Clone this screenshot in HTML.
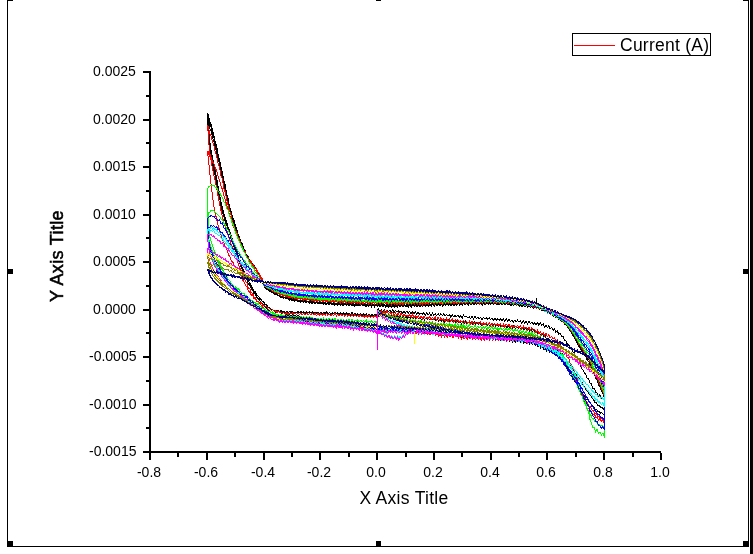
<!DOCTYPE html>
<html><head><meta charset="utf-8"><title>Graph</title>
<style>
html,body{margin:0;padding:0;background:#fff;}
body{width:753px;height:554px;overflow:hidden;position:relative;font-family:"Liberation Sans",sans-serif;color:#000;}
.b{position:absolute;background:#000;}
.t{position:absolute;white-space:nowrap;line-height:1;will-change:transform;}
.yl{font-size:14px;right:617px;text-align:right;}
.xl{font-size:14px;width:60px;text-align:center;top:465px;}
svg{position:absolute;left:0;top:0;}
</style></head><body>

<div class="b" style="left:7px;top:0px;width:1px;height:547px;"></div>
<div class="b" style="left:748px;top:0px;width:1px;height:547px;"></div>
<div class="b" style="left:7px;top:546px;width:742px;height:1px;"></div>
<div class="b" style="left:750px;top:0px;width:3px;height:554px;"></div>
<div class="b" style="left:7px;top:0px;width:6px;height:1px;"></div>
<div class="b" style="left:376px;top:0px;width:5px;height:1px;"></div>
<div class="b" style="left:743px;top:0px;width:6px;height:1px;"></div>
<div class="b" style="left:7px;top:269px;width:6px;height:5px;"></div>
<div class="b" style="left:743px;top:269px;width:6px;height:5px;"></div>
<div class="b" style="left:7px;top:541px;width:6px;height:6px;"></div>
<div class="b" style="left:376px;top:541px;width:5px;height:6px;"></div>
<div class="b" style="left:743px;top:541px;width:6px;height:6px;"></div>
<div class="b" style="left:149px;top:71px;width:2px;height:382px;"></div>
<div class="b" style="left:149px;top:451px;width:512px;height:2px;"></div>
<div class="b" style="left:143px;top:71px;width:6px;height:2px;"></div>
<div class="b" style="left:143px;top:119px;width:6px;height:2px;"></div>
<div class="b" style="left:143px;top:166px;width:6px;height:2px;"></div>
<div class="b" style="left:143px;top:214px;width:6px;height:2px;"></div>
<div class="b" style="left:143px;top:261px;width:6px;height:2px;"></div>
<div class="b" style="left:143px;top:309px;width:6px;height:2px;"></div>
<div class="b" style="left:143px;top:356px;width:6px;height:2px;"></div>
<div class="b" style="left:143px;top:404px;width:6px;height:2px;"></div>
<div class="b" style="left:143px;top:451px;width:6px;height:2px;"></div>
<div class="b" style="left:146px;top:95px;width:3px;height:2px;"></div>
<div class="b" style="left:146px;top:142px;width:3px;height:2px;"></div>
<div class="b" style="left:146px;top:190px;width:3px;height:2px;"></div>
<div class="b" style="left:146px;top:237px;width:3px;height:2px;"></div>
<div class="b" style="left:146px;top:285px;width:3px;height:2px;"></div>
<div class="b" style="left:146px;top:332px;width:3px;height:2px;"></div>
<div class="b" style="left:146px;top:380px;width:3px;height:2px;"></div>
<div class="b" style="left:146px;top:427px;width:3px;height:2px;"></div>
<div class="b" style="left:149px;top:453px;width:2px;height:7px;"></div>
<div class="b" style="left:206px;top:453px;width:2px;height:7px;"></div>
<div class="b" style="left:263px;top:453px;width:2px;height:7px;"></div>
<div class="b" style="left:319px;top:453px;width:2px;height:7px;"></div>
<div class="b" style="left:376px;top:453px;width:2px;height:7px;"></div>
<div class="b" style="left:433px;top:453px;width:2px;height:7px;"></div>
<div class="b" style="left:490px;top:453px;width:2px;height:7px;"></div>
<div class="b" style="left:546px;top:453px;width:2px;height:7px;"></div>
<div class="b" style="left:603px;top:453px;width:2px;height:7px;"></div>
<div class="b" style="left:660px;top:453px;width:2px;height:7px;"></div>
<div class="b" style="left:177px;top:453px;width:2px;height:4px;"></div>
<div class="b" style="left:234px;top:453px;width:2px;height:4px;"></div>
<div class="b" style="left:291px;top:453px;width:2px;height:4px;"></div>
<div class="b" style="left:348px;top:453px;width:2px;height:4px;"></div>
<div class="b" style="left:405px;top:453px;width:2px;height:4px;"></div>
<div class="b" style="left:461px;top:453px;width:2px;height:4px;"></div>
<div class="b" style="left:518px;top:453px;width:2px;height:4px;"></div>
<div class="b" style="left:575px;top:453px;width:2px;height:4px;"></div>
<div class="b" style="left:632px;top:453px;width:2px;height:4px;"></div>
<div class="t yl" style="top:64px">0.0025</div>
<div class="t yl" style="top:112px">0.0020</div>
<div class="t yl" style="top:159px">0.0015</div>
<div class="t yl" style="top:207px">0.0010</div>
<div class="t yl" style="top:254px">0.0005</div>
<div class="t yl" style="top:302px">0.0000</div>
<div class="t yl" style="top:349px">-0.0005</div>
<div class="t yl" style="top:397px">-0.0010</div>
<div class="t yl" style="top:444px">-0.0015</div>
<div class="t xl" style="left:118.5px">-0.8</div>
<div class="t xl" style="left:175.5px">-0.6</div>
<div class="t xl" style="left:232.5px">-0.4</div>
<div class="t xl" style="left:288.5px">-0.2</div>
<div class="t xl" style="left:345.5px">0.0</div>
<div class="t xl" style="left:402.5px">0.2</div>
<div class="t xl" style="left:459.5px">0.4</div>
<div class="t xl" style="left:515.5px">0.6</div>
<div class="t xl" style="left:572.5px">0.8</div>
<div class="t xl" style="left:629.5px">1.0</div>
<div class="t" style="font-size:17.5px;letter-spacing:0.3px;left:304.2px;width:200px;text-align:center;top:489.8px">X Axis Title</div>
<div class="t" id="yt" style="font-size:18px;letter-spacing:0.35px;left:-43px;width:200px;text-align:center;top:246.5px;transform:rotate(-90deg);-webkit-text-stroke:0.55px #000">Y Axis Title</div>
<div style="position:absolute;left:572px;top:33px;width:137px;height:21px;border:1px solid #000;"></div>
<div class="b" style="left:574px;top:45px;width:41px;height:1px;background:#f00;"></div>
<div class="t" style="font-size:17.5px;letter-spacing:0.25px;left:620px;top:36.9px">Current (A)</div>
<svg width="753" height="554" viewBox="0 0 753 554" shape-rendering="crispEdges" fill="none" stroke-width="1" stroke-linejoin="miter">
<polyline stroke="#000" points="377.0,310.0 378.4,309.1 379.8,311.4 381.3,309.3 382.7,312.1 384.1,309.7 385.5,311.7 386.9,310.0 388.4,311.8 389.8,310.2 391.2,312.1 392.6,309.7 394.0,312.5 395.5,310.5 396.9,312.1 398.3,310.6 399.7,312.6 401.1,311.1 402.6,313.3 404.0,311.2 405.4,313.1 406.8,311.0 408.2,313.3 409.7,311.3 411.1,314.0 412.5,311.6 413.9,314.0 415.3,311.4 416.8,314.2 418.2,312.4 419.6,314.5 421.0,312.8 422.4,314.1 423.9,312.8 425.3,315.0 426.7,312.8 428.1,314.9 429.5,313.2 431.0,315.7 432.4,312.9 433.8,315.5 435.2,313.8 436.6,315.5 438.1,313.8 439.5,315.5 440.9,313.5 442.3,315.8 443.7,313.8 445.2,316.0 446.6,314.4 448.0,316.2 449.4,314.5 450.8,317.0 452.3,314.9 453.7,316.5 455.1,315.5 456.5,316.8 457.9,315.2 459.4,317.5 460.8,315.6 462.2,318.0 463.6,315.1 465.0,317.2 466.5,316.2 467.9,318.1 469.3,316.6 470.7,318.7 472.1,315.9 473.6,319.1 475.0,316.4 476.4,318.5 477.8,317.6 479.2,318.4 480.7,317.3 482.1,319.7 483.5,317.4 484.9,318.8 486.3,317.9 487.8,319.3 489.2,317.6 490.6,319.7 492.0,318.3 493.4,320.2 494.9,318.3 496.3,320.5 497.7,318.4 499.1,320.4 500.5,318.5 502.0,321.3 503.4,318.8 504.8,321.5 506.2,318.8 507.6,321.0 509.1,319.3 510.5,321.5 511.9,319.9 513.3,322.2 514.7,320.3 516.2,322.0 517.6,320.2 519.0,322.0 520.4,320.7 521.8,323.2 523.3,320.8 524.7,323.2 526.1,321.3 527.5,323.7 528.9,321.3 530.4,323.7 531.8,322.0 533.2,324.2 534.6,322.9 536.0,324.9 537.5,322.6 538.9,325.2 540.3,323.1 541.7,325.4 543.1,323.7 544.6,327.0 546.0,325.3 547.4,327.7 548.8,325.8 550.2,329.1 551.7,327.2 553.1,330.6 554.5,329.1 555.9,332.2 557.3,330.8 558.8,334.4 560.2,333.4 561.6,336.2 563.0,336.1 564.4,340.4 565.9,340.3 567.3,344.4 568.7,344.2 570.1,348.7 571.5,348.5 573.0,352.1 574.4,352.9 575.8,358.2 577.2,358.8 578.6,363.0 580.1,364.2 581.5,368.6 582.9,369.4 584.3,373.1 585.7,374.2 587.2,378.1 588.6,378.5 590.0,382.8 591.4,383.6 592.8,388.1 594.3,388.5 595.7,392.2 597.1,393.3 598.5,396.3 599.9,394.7 601.4,398.5 602.8,397.4 604.2,399.8 604.5,397.6 604.5,390.4 603.1,386.6 601.7,384.3 600.2,380.7 598.8,378.5 597.4,374.7 596.0,372.7 594.6,368.7 593.1,366.5 591.7,362.9 590.3,361.1 588.9,357.7 587.5,356.3 586.0,353.3 584.6,351.9 583.2,349.1 581.8,347.8 580.4,344.8 578.9,343.8 577.5,340.7 576.1,338.9 574.7,335.5 573.3,334.3 571.8,331.3 570.4,329.8 569.0,327.0 567.6,326.3 566.2,323.9 564.7,323.5 563.3,321.2 561.9,320.9 560.5,319.1 559.1,319.1 557.6,316.6 556.2,317.9 554.8,314.8 553.4,315.8 552.0,313.6 550.5,314.5 549.1,311.9 547.7,313.4 546.3,310.8 544.9,312.1 543.4,309.4 542.0,311.0 540.6,308.1 539.2,309.6 537.8,307.0 536.3,308.4 534.9,306.0 533.5,307.8 532.1,306.4 530.7,307.3 529.2,305.0 527.8,307.3 526.4,305.1 525.0,306.9 523.6,304.6 522.1,306.6 520.7,304.9 519.3,306.2 517.9,304.2 516.5,305.7 515.0,304.0 513.6,305.2 512.2,304.1 510.8,305.8 509.4,303.5 507.9,305.0 506.5,303.6 505.1,304.9 503.7,303.1 502.3,304.6 500.8,303.1 499.4,304.7 498.0,303.7 496.6,304.7 495.2,302.9 493.7,304.4 492.3,302.4 490.9,304.5 489.5,302.7 488.1,304.3 486.6,302.8 485.2,304.8 483.8,302.7 482.4,304.9 481.0,302.9 479.5,304.5 478.1,302.7 476.7,304.3 475.3,303.0 473.9,304.9 472.4,303.2 471.0,304.8 469.6,302.7 468.2,305.4 466.8,303.6 465.3,304.7 463.9,303.2 462.5,304.7 461.1,303.7 459.7,305.7 458.2,302.6 456.8,305.4 455.4,303.8 454.0,305.8 452.6,303.8 451.1,305.4 449.7,303.8 448.3,305.7 446.9,303.7 445.5,305.5 444.0,304.0 442.6,306.1 441.2,304.2 439.8,305.9 438.4,304.0 436.9,305.8 435.5,304.4 434.1,306.5 432.7,304.1 431.3,306.3 429.8,304.7 428.4,306.4 427.0,304.3 425.6,306.3 424.2,304.7 422.7,306.6 421.3,304.5 419.9,306.8 418.5,305.0 417.1,306.7 415.6,305.1 414.2,306.5 412.8,304.7 411.4,307.3 410.0,304.9 408.5,307.1 407.1,305.2 405.7,306.7 404.3,305.5 402.9,306.4 401.4,305.4 400.0,306.4 398.6,304.9 397.2,307.6 395.8,305.4 394.3,307.3 392.9,305.3 391.5,307.4 390.1,305.1 388.7,307.2 387.2,305.3 385.8,307.1 384.4,304.9 383.0,306.6 381.6,305.4 380.1,306.7 378.7,304.7 377.3,306.2 375.9,304.7 374.5,306.7 373.0,304.7 371.6,306.9 370.2,305.1 368.8,306.4 367.4,304.8 365.9,306.7 364.5,305.2 363.1,306.1 361.7,304.6 360.3,305.9 358.8,305.0 357.4,305.8 356.0,304.6 354.6,305.9 353.2,304.5 351.7,305.8 350.3,304.3 348.9,305.6 347.5,304.4 346.1,305.2 344.6,304.2 343.2,305.5 341.8,304.1 340.4,305.1 339.0,303.6 337.5,305.1 336.1,304.0 334.7,305.4 333.3,303.8 331.9,304.8 330.4,303.6 329.0,304.7 327.6,303.6 326.2,304.6 324.8,303.2 323.3,304.2 321.9,303.2 320.5,303.9 319.1,302.8 317.7,303.8 316.2,302.4 314.8,303.7 313.4,302.6 312.0,303.6 310.6,302.1 309.1,303.2 307.7,301.6 306.3,302.9 304.9,301.5 303.5,302.3 302.0,301.4 300.6,302.1 299.2,301.1 297.8,301.6 296.4,300.5 294.9,301.2 293.5,300.1 292.1,300.5 290.7,299.6 289.3,300.1 287.8,298.8 286.4,298.9 285.0,297.8 283.6,298.2 282.2,297.1 280.7,297.1 279.3,295.9 277.9,296.0 276.5,294.8 275.1,294.6 273.6,293.1 272.2,292.8 270.8,291.3 269.4,291.1 268.0,289.1 266.5,289.2 265.1,287.3 265.0,287.9 263.6,283.8 262.2,279.4 260.7,277.4 259.3,274.1 257.9,272.4 256.5,268.3 255.1,267.8 253.6,264.6 252.2,263.1 250.8,260.8 249.4,260.1 248.0,256.0 246.5,255.3 245.1,251.2 243.7,248.8 242.3,243.4 240.9,241.8 239.4,236.6 238.0,234.1 236.6,228.9 235.2,225.0 233.8,219.8 232.3,216.6 230.9,211.0 229.5,206.6 228.1,198.3 226.7,193.7 225.2,184.9 223.8,180.1 222.4,172.1 221.0,166.8 219.6,159.6 218.1,154.9 216.7,146.5 215.3,142.4 213.9,135.1 212.5,130.3 211.0,124.3 209.6,121.0 208.2,114.1 207.5,113.0 207.5,113.0 208.0,119.6 208.5,126.8 209.0,133.3 209.7,140.4 210.5,146.4 211.5,152.6 212.9,160.0 214.3,166.5 215.8,173.8 217.2,181.1 218.6,189.0 220.0,196.6 221.4,203.5 222.9,210.2 224.3,214.8 225.7,219.4 227.1,223.2 228.5,228.3 230.0,232.0 231.4,236.9 232.8,239.9 234.2,245.1 235.6,249.0 237.1,253.1 238.5,256.8 239.9,262.4 241.3,264.6 242.7,268.5 244.2,271.4 245.6,274.9 247.0,277.1 248.4,281.3 249.8,283.1 251.3,285.4 252.7,288.0 254.1,291.5 255.5,291.5 256.9,295.2 258.4,296.1 259.8,298.0 261.2,299.5 262.6,301.7 264.0,301.6 265.5,304.9 266.9,305.0 268.3,307.8 269.7,308.3 271.1,309.9 272.6,309.4 274.0,311.2 275.4,310.5 276.8,312.0 278.2,310.2 279.7,311.8 281.1,310.4 282.5,312.5 283.9,311.6 285.3,312.5 286.7,311.3 288.1,312.6 289.6,311.9 291.0,312.6 292.4,311.9 293.8,312.5 295.2,312.0 296.7,313.0 298.1,311.7 299.5,312.8 300.9,311.6 302.3,312.9 303.8,312.0 305.2,313.1 306.6,311.8 308.0,313.0 309.4,312.0 310.9,313.0 312.3,311.7 313.7,313.0 315.1,311.9 316.5,313.0 318.0,312.3 319.4,313.6 320.8,312.1 322.2,313.5 323.6,312.5 325.1,313.7 326.5,312.2 327.9,313.9 329.3,312.4 330.7,313.4 332.2,312.9 333.6,313.3 335.0,312.3 336.4,313.8 337.8,312.9 339.3,313.9 340.7,313.0 342.1,314.1 343.5,313.1 344.9,314.4 346.4,313.2 347.8,315.0 349.2,313.7 350.6,315.2 352.0,312.6 353.5,315.1 354.9,313.5 356.3,315.0 357.7,313.9 359.1,315.4 360.6,313.9 362.0,315.4 363.4,313.5 364.8,315.7 366.2,313.4 367.7,315.9 369.1,314.2 370.5,315.8 371.9,314.7 373.3,316.5 374.8,314.2 376.2,316.4 377.6,314.3 379.0,316.8 380.4,314.6 381.9,316.7 383.3,314.9 384.7,317.1 386.1,314.9 387.5,317.4 389.0,314.7 390.4,317.1 391.8,315.1 393.2,318.1 394.6,315.8 396.1,317.6 397.5,316.0 398.9,317.7 400.3,315.5 401.7,318.1 403.2,316.2 404.6,318.2 406.0,315.9 407.4,318.1 408.8,316.5 410.3,318.3 411.7,316.6 413.1,318.7 414.5,316.8 415.9,318.8 417.4,317.5 418.8,318.9 420.2,317.5 421.6,319.5 423.0,317.8 424.5,320.1 425.9,318.0 427.3,319.4 428.7,318.4 430.1,320.1 431.6,318.4 433.0,320.2 434.4,318.6 435.8,320.5 437.2,318.6 438.7,321.5 440.1,318.9 441.5,321.3 442.9,319.2 444.3,322.1 445.8,319.9 447.2,321.2 448.6,319.9 450.0,322.2 451.4,320.4 452.9,321.6 454.3,320.4 455.7,322.1 457.1,320.4 458.5,322.6 460.0,321.3 461.4,323.8 462.8,321.3 464.2,323.4 465.6,321.2 467.1,324.1 468.5,322.2 469.9,323.4 471.3,321.7 472.7,324.5 474.2,321.9 475.6,324.5 477.0,322.6 478.4,324.4 479.8,322.6 481.3,325.1 482.7,323.7 484.1,325.0 485.5,323.5 486.9,325.7 488.4,324.0 489.8,325.8 491.2,323.8 492.6,326.1 494.0,323.8 495.5,325.9 496.9,324.2 498.3,326.4 499.7,325.0 501.1,326.4 502.6,325.1 504.0,326.6 505.4,324.9 506.8,328.1 508.2,325.6 509.7,328.2 511.1,325.9 512.5,328.1 513.9,325.6 515.3,329.1 516.8,326.5 518.2,328.4 519.6,327.5 521.0,329.1 522.4,327.6 523.9,329.8 525.3,328.0 526.7,330.1 528.1,328.5 529.5,330.8 531.0,329.1 532.4,331.5 533.8,329.9 535.2,332.7 536.6,331.4 538.1,334.0 539.5,332.4 540.9,336.0 542.3,333.7 543.7,337.0 545.2,335.7 546.6,339.2 548.0,338.2 549.4,341.2 550.8,340.5 552.3,344.1 553.7,343.9 555.1,347.1 556.5,346.5 557.9,350.7 559.4,350.4 560.8,354.6 562.2,354.0 563.6,357.0 565.0,357.7 566.5,360.9 567.9,361.5 569.3,364.5 570.7,365.6 572.1,368.6 573.6,370.0 575.0,372.9 576.4,374.2 577.8,377.4 579.2,378.4 580.7,381.8 582.1,382.6 583.5,386.0 584.9,387.0 586.3,390.4 587.8,391.4 589.2,394.2 590.6,395.4 592.0,398.2 593.4,399.2 594.9,402.2 596.3,402.6 597.7,405.2 599.1,405.3 600.5,407.3 602.0,407.1 603.4,409.1 604.5,408.3 604.5,394.2 603.1,390.4 601.7,388.0 600.2,384.2 598.8,381.7 597.4,378.2 596.0,375.7 594.6,371.4 593.1,369.2 591.7,365.5 590.3,363.3 588.9,359.9 587.5,358.3 586.0,355.5 584.6,354.1 583.2,351.2 581.8,349.7 580.4,346.9 578.9,345.5 577.5,342.3 576.1,340.2 574.7,336.9 573.3,335.0 571.8,332.2 570.4,330.7 569.0,327.7 567.6,326.7 566.2,324.1 564.7,323.8 563.3,321.8 561.9,321.2 560.5,319.3 559.1,319.6 557.6,317.0 556.2,317.8 554.8,314.6 553.4,316.2 552.0,313.6 550.5,314.5 549.1,312.4 547.7,313.0 546.3,310.2 544.9,311.5 543.4,308.9 542.0,310.6 540.6,308.1 539.2,309.7 537.8,307.1 536.3,308.6 534.9,306.4 533.5,308.2 532.1,305.7 530.7,307.1 529.2,305.5 527.8,306.7 526.4,304.8 525.0,306.7 523.6,304.3 522.1,306.0 520.7,304.0 519.3,305.8 517.9,304.2 516.5,305.5 515.0,303.9 513.6,305.0 512.2,302.9 510.8,305.1 509.4,302.9 507.9,304.7 506.5,302.6 505.1,304.5 503.7,302.4 502.3,304.5 500.8,302.5 499.4,304.1 498.0,302.5 496.6,304.1 495.2,302.3 493.7,304.2 492.3,302.5 490.9,303.6 489.5,302.2 488.1,303.8 486.6,302.3 485.2,304.0 483.8,302.7 482.4,304.2 481.0,302.0 479.5,304.0 478.1,302.2 476.7,304.3 475.3,302.4 473.9,304.8 472.4,302.6 471.0,304.4 469.6,302.7 468.2,304.3 466.8,302.7 465.3,304.7 463.9,302.9 462.5,305.0 461.1,302.8 459.7,304.8 458.2,303.5 456.8,304.8 455.4,302.9 454.0,304.5 452.6,303.2 451.1,305.6 449.7,302.8 448.3,304.9 446.9,303.4 445.5,304.7 444.0,303.8 442.6,305.4 441.2,303.8 439.8,306.0 438.4,303.9 436.9,305.2 435.5,304.4 434.1,306.0 432.7,304.1 431.3,305.7 429.8,304.2 428.4,306.0 427.0,304.5 425.6,305.8 424.2,304.2 422.7,306.8 421.3,304.3 419.9,306.5 418.5,304.7 417.1,306.1 415.6,304.3 414.2,306.5 412.8,304.6 411.4,306.9 410.0,304.7 408.5,306.8 407.1,305.0 405.7,306.5 404.3,304.7 402.9,306.8 401.4,305.0 400.0,306.4 398.6,304.6 397.2,306.3 395.8,305.5 394.3,307.0 392.9,304.9 391.5,306.3 390.1,304.3 388.7,306.6 387.2,304.3 385.8,306.6 384.4,304.5 383.0,306.4 381.6,304.6 380.1,306.4 378.7,304.1 377.3,306.4 375.9,304.1 374.5,306.0 373.0,304.0 371.6,306.4 370.2,304.0 368.8,305.8 367.4,304.3 365.9,305.5 364.5,304.1 363.1,305.9 361.7,304.4 360.3,305.7 358.8,304.1 357.4,305.5 356.0,304.5 354.6,305.1 353.2,304.0 351.7,305.1 350.3,304.1 348.9,305.6 347.5,304.0 346.1,304.9 344.6,303.7 343.2,304.9 341.8,303.6 340.4,304.7 339.0,303.5 337.5,304.4 336.1,303.3 334.7,304.6 333.3,303.4 331.9,304.6 330.4,303.1 329.0,304.2 327.6,303.0 326.2,304.0 324.8,302.7 323.3,304.0 321.9,303.0 320.5,303.4 319.1,302.5 317.7,303.5 316.2,302.5 314.8,303.1 313.4,302.3 312.0,303.2 310.6,302.0 309.1,302.8 307.7,301.7 306.3,302.4 304.9,301.2 303.5,302.0 302.0,301.1 300.6,301.8 299.2,300.6 297.8,301.3 296.4,300.2 294.9,301.0 293.5,299.8 292.1,300.0 290.7,298.9 289.3,299.4 287.8,298.5 286.4,298.7 285.0,297.4 283.6,297.8 282.2,296.3 280.7,296.8 279.3,295.6 277.9,295.9 276.5,294.3 275.1,294.4 273.6,292.9 272.2,292.6 270.8,291.2 269.4,290.6 268.0,289.2 266.5,288.9 265.1,287.0 265.0,287.9 263.6,283.6 262.2,279.1 260.7,276.6 259.3,274.0 257.9,273.0 256.5,268.3 255.1,266.8 253.6,265.1 252.2,263.6 250.8,261.5 249.4,260.0 248.0,256.7 246.5,255.1 245.1,250.8 243.7,249.5 242.3,244.8 240.9,242.6 239.4,237.0 238.0,235.4 236.6,229.1 235.2,226.7 233.8,220.4 232.3,217.5 230.9,211.4 229.5,207.8 228.1,199.8 226.7,195.3 225.2,187.9 223.8,182.4 222.4,173.8 221.0,169.8 219.6,162.0 218.1,156.3 216.7,148.8 215.3,144.0 213.9,137.2 212.5,133.7 211.0,127.0 209.6,123.5 208.2,118.0 207.5,116.0 207.5,116.0 208.0,122.6 208.5,129.8 209.0,136.2 209.7,143.3 210.5,149.4 211.5,155.3 212.9,162.9 214.3,169.4 215.8,176.5 217.2,184.6 218.6,191.8 220.0,199.7 221.4,206.0 222.9,212.8 224.3,218.2 225.7,222.5 227.1,226.3 228.5,230.6 230.0,234.1 231.4,240.1 232.8,243.2 234.2,247.6 235.6,250.7 237.1,257.1 238.5,259.1 239.9,263.8 241.3,267.3 242.7,270.9 244.2,273.5 245.6,277.9 247.0,280.0 248.4,283.6 249.8,285.8 251.3,288.9 252.7,290.2 254.1,293.7 255.5,294.2 256.9,297.7 258.4,298.5 259.8,300.9 261.2,301.9 262.6,304.1 264.0,304.4 265.5,307.5 266.9,308.2 268.3,310.3 269.7,310.9 271.1,313.1 272.6,312.2 274.0,313.6 275.4,312.9 276.8,314.7 278.2,314.2 279.7,315.5 281.1,313.6 282.5,315.6 283.9,315.1 285.3,315.7 286.7,314.6 288.1,315.8 289.6,314.8 291.0,315.9 292.4,314.9 293.8,316.2 295.2,315.1 296.7,316.7 298.1,315.6 299.5,316.9 300.9,316.4 302.3,317.5 303.8,316.6 305.2,318.0 306.6,317.1 308.0,318.7 309.4,318.1 310.9,319.2 312.3,318.0 313.7,320.0 315.1,319.0 316.5,320.6 318.0,319.0 319.4,320.9 320.8,320.1 322.2,321.3 323.6,320.1 325.1,321.4 326.5,320.1 327.9,322.1 329.3,320.9 330.7,322.9 332.2,320.8 333.6,323.0 335.0,321.3 336.4,323.0 337.8,322.3 339.3,324.2 340.7,322.5 342.1,324.2 343.5,322.8 344.9,324.8 346.4,322.8 347.8,325.0 349.2,323.4 350.6,325.7 352.0,324.2 353.5,325.4 354.9,324.2 356.3,326.3 357.7,324.6 359.1,326.2 360.6,325.0 362.0,326.9 363.4,324.9 364.8,327.7 366.2,325.8 367.7,327.8 369.1,325.9 370.5,327.8 371.9,326.5 373.3,329.1 374.8,326.8 376.2,328.7 377.6,327.8 379.0,329.2 380.4,327.2 381.9,329.0 383.3,327.6 384.7,330.1 386.1,327.6 387.5,329.9 389.0,327.9 390.4,330.6 391.8,329.1 393.2,330.6 394.6,328.7 396.1,330.7 397.5,328.6 398.9,330.8 400.3,329.5 401.7,331.7 403.2,329.6 404.6,332.3 406.0,329.5 407.4,332.3 408.8,330.2 410.3,332.3 411.7,330.4 413.1,332.2 414.5,330.2 415.9,333.3 417.4,330.9 418.8,332.6 420.2,330.5 421.6,333.3 423.0,331.3 424.5,334.0 425.9,332.0 427.3,333.6 428.7,332.1 430.1,333.9 431.6,331.9 433.0,334.5 434.4,332.0 435.8,334.6 437.2,332.4 438.7,335.0 440.1,333.1 441.5,335.0 442.9,333.7 444.3,335.4 445.8,333.5 447.2,335.8 448.6,333.8 450.0,335.8 451.4,334.3 452.9,336.6 454.3,335.1 455.7,336.5 457.1,334.4 458.5,336.8 460.0,335.3 461.4,337.1 462.8,334.8 464.2,337.6 465.6,335.8 467.1,337.8 468.5,335.6 469.9,338.1 471.3,336.0 472.7,338.1 474.2,336.6 475.6,339.2 477.0,337.1 478.4,339.0 479.8,336.8 481.3,339.0 482.7,337.0 484.1,339.4 485.5,337.4 486.9,339.2 488.4,337.2 489.8,339.8 491.2,337.4 492.6,339.6 494.0,338.0 495.5,339.9 496.9,338.1 498.3,340.2 499.7,338.5 501.1,340.8 502.6,338.9 504.0,340.3 505.4,339.3 506.8,341.2 508.2,339.0 509.7,341.2 511.1,339.5 512.5,341.7 513.9,339.6 515.3,342.0 516.8,339.3 518.2,342.1 519.6,340.6 521.0,343.3 522.4,340.9 523.9,343.2 525.3,341.3 526.7,343.5 528.1,341.6 529.5,344.0 531.0,342.6 532.4,344.3 533.8,342.7 535.2,345.6 536.6,344.1 538.1,347.0 539.5,344.9 540.9,348.4 542.3,347.0 543.7,349.3 545.2,348.2 546.6,351.4 548.0,349.2 549.4,352.1 550.8,351.2 552.3,353.6 553.7,352.1 555.1,355.2 556.5,354.3 557.9,357.0 559.4,356.5 560.8,359.7 562.2,358.9 563.6,363.4 565.0,363.7 566.5,367.2 567.9,368.6 569.3,371.9 570.7,373.4 572.1,376.6 573.6,378.2 575.0,381.6 576.4,383.2 577.8,387.2 579.2,388.5 580.7,391.5 582.1,392.4 583.5,395.6 584.9,396.2 586.3,399.3 587.8,399.9 589.2,402.7 590.6,403.3 592.0,405.7 593.4,406.2 594.9,409.0 596.3,409.2 597.7,411.1 599.1,411.1 600.5,413.1 602.0,412.7 603.4,414.3 604.5,413.4 604.5,398.6 603.1,394.2 601.7,391.4 600.2,387.4 598.8,385.1 597.4,381.1 596.0,378.4 594.6,374.4 593.1,371.6 591.7,367.8 590.3,365.6 588.9,361.8 587.5,360.5 586.0,357.2 584.6,355.7 583.2,352.8 581.8,351.3 580.4,348.0 578.9,346.7 577.5,343.1 576.1,341.4 574.7,338.0 573.3,336.3 571.8,333.1 570.4,331.6 569.0,328.5 567.6,327.2 566.2,324.6 564.7,324.5 563.3,322.1 561.9,321.8 560.5,319.8 559.1,319.7 557.6,317.5 556.2,317.7 554.8,315.2 553.4,316.5 552.0,313.8 550.5,314.2 549.1,311.9 547.7,313.1 546.3,310.2 544.9,311.2 543.4,309.3 542.0,310.6 540.6,307.7 539.2,309.1 537.8,306.9 536.3,308.1 534.9,306.1 533.5,307.3 532.1,305.8 530.7,306.7 529.2,305.1 527.8,306.0 526.4,304.1 525.0,305.7 523.6,304.5 522.1,305.8 520.7,303.5 519.3,305.3 517.9,304.0 516.5,304.8 515.0,302.7 513.6,304.8 512.2,303.5 510.8,304.6 509.4,303.1 507.9,304.4 506.5,302.5 505.1,304.5 503.7,302.1 502.3,304.3 500.8,302.4 499.4,303.8 498.0,301.8 496.6,304.0 495.2,301.5 493.7,303.7 492.3,301.3 490.9,304.1 489.5,301.5 488.1,303.7 486.6,301.9 485.2,304.1 483.8,301.7 482.4,303.7 481.0,301.9 479.5,303.7 478.1,302.0 476.7,304.4 475.3,301.7 473.9,303.6 472.4,301.9 471.0,303.9 469.6,302.1 468.2,304.0 466.8,302.3 465.3,304.1 463.9,301.9 462.5,304.5 461.1,302.4 459.7,304.2 458.2,302.3 456.8,304.4 455.4,302.5 454.0,304.4 452.6,302.9 451.1,304.3 449.7,303.1 448.3,304.3 446.9,303.4 445.5,305.4 444.0,303.0 442.6,305.2 441.2,303.1 439.8,305.0 438.4,303.4 436.9,305.2 435.5,303.1 434.1,305.3 432.7,303.8 431.3,305.5 429.8,303.5 428.4,305.4 427.0,304.0 425.6,305.7 424.2,303.8 422.7,305.7 421.3,303.9 419.9,305.7 418.5,303.5 417.1,305.5 415.6,303.3 414.2,305.6 412.8,304.2 411.4,305.8 410.0,304.1 408.5,305.9 407.1,304.2 405.7,305.6 404.3,304.2 402.9,305.8 401.4,304.2 400.0,306.0 398.6,303.9 397.2,305.9 395.8,304.2 394.3,305.5 392.9,303.8 391.5,305.4 390.1,304.3 388.7,305.9 387.2,304.4 385.8,305.9 384.4,304.2 383.0,305.7 381.6,303.9 380.1,305.6 378.7,304.1 377.3,305.7 375.9,304.1 374.5,305.7 373.0,304.0 371.6,305.5 370.2,303.4 368.8,305.0 367.4,303.5 365.9,305.2 364.5,303.4 363.1,305.2 361.7,303.5 360.3,305.0 358.8,303.7 357.4,304.5 356.0,303.6 354.6,305.3 353.2,303.4 351.7,304.8 350.3,303.3 348.9,304.4 347.5,303.0 346.1,304.4 344.6,303.2 343.2,304.4 341.8,302.7 340.4,304.1 339.0,302.6 337.5,304.1 336.1,303.0 334.7,303.8 333.3,302.6 331.9,303.7 330.4,302.3 329.0,303.4 327.6,302.3 326.2,303.5 324.8,302.3 323.3,303.2 321.9,302.0 320.5,303.1 319.1,301.7 317.7,303.0 316.2,301.6 314.8,302.7 313.4,301.2 312.0,302.6 310.6,300.9 309.1,302.1 307.7,301.0 306.3,302.0 304.9,300.6 303.5,301.5 302.0,300.5 300.6,300.9 299.2,300.0 297.8,300.7 296.4,299.5 294.9,300.2 293.5,299.0 292.1,299.6 290.7,298.5 289.3,298.6 287.8,297.5 286.4,297.9 285.0,296.9 283.6,297.4 282.2,296.2 280.7,296.4 279.3,295.0 277.9,295.3 276.5,293.8 275.1,293.7 273.6,292.1 272.2,291.9 270.8,290.6 269.4,290.3 268.0,288.5 266.5,288.5 265.1,286.4 265.0,287.2 263.6,283.1 262.2,278.7 260.7,277.9 259.3,273.6 257.9,271.9 256.5,268.9 255.1,267.8 253.6,264.2 252.2,264.5 250.8,261.7 249.4,259.9 248.0,256.9 246.5,255.6 245.1,252.0 243.7,250.1 242.3,245.8 240.9,243.3 239.4,238.1 238.0,235.1 236.6,230.0 235.2,227.6 233.8,222.0 232.3,220.2 230.9,213.5 229.5,209.3 228.1,201.7 226.7,197.4 225.2,189.4 223.8,184.6 222.4,177.0 221.0,171.9 219.6,163.9 218.1,159.3 216.7,151.9 215.3,147.6 213.9,141.5 212.5,137.2 211.0,131.3 209.6,127.7 208.2,121.4 207.5,120.0 207.5,120.0 208.0,126.3 208.5,133.2 209.0,139.5 209.7,146.3 210.5,152.2 211.5,158.2 212.9,165.4 214.3,171.9 215.8,178.6 217.2,186.0 218.6,193.4 220.0,200.3 221.4,207.5 222.9,213.4 224.3,218.3 225.7,223.6 227.1,226.1 228.5,231.1 230.0,234.7 231.4,239.2 232.8,242.6 234.2,247.9 235.6,251.0 237.1,255.7 238.5,258.9 239.9,263.2 241.3,266.1 242.7,271.0 244.2,271.7 245.6,276.5 247.0,278.3 248.4,281.3 249.8,282.5 251.3,287.2 252.7,288.1 254.1,291.9 255.5,292.3 256.9,295.6 258.4,296.1 259.8,298.9 261.2,299.3 262.6,301.9 264.0,302.8 265.5,304.9 266.9,305.7 268.3,307.7 269.7,307.4 271.1,309.1 272.6,309.7 274.0,310.8 275.4,310.6 276.8,311.0 278.2,311.1 279.7,312.3 281.1,310.9 282.5,311.8 283.9,311.3 285.3,312.4 286.7,311.6 288.1,312.7 289.6,311.2 291.0,312.4 292.4,311.5 293.8,312.5 295.2,312.0 296.7,312.6 298.1,311.7 299.5,312.8 300.9,311.6 302.3,312.8 303.8,311.6 305.2,313.2 306.6,312.2 308.0,313.3 309.4,311.9 310.9,312.8 312.3,312.0 313.7,313.2 315.1,312.0 316.5,313.5 318.0,312.2 319.4,313.4 320.8,312.3 322.2,313.5 323.6,312.2 325.1,313.5 326.5,311.9 327.9,313.9 329.3,312.4 330.7,314.0 332.2,312.7 333.6,313.8 335.0,312.8 336.4,313.9 337.8,312.5 339.3,314.2 340.7,312.6 342.1,314.4 343.5,313.1 344.9,314.4 346.4,312.7 347.8,314.3 349.2,313.4 350.6,314.9 352.0,313.5 353.5,315.4 354.9,313.7 356.3,315.3 357.7,313.8 359.1,315.4 360.6,313.4 362.0,315.5 363.4,313.5 364.8,315.7 366.2,314.5 367.7,316.3 369.1,314.0 370.5,316.6 371.9,314.5 373.3,316.5 374.8,314.2 376.2,316.8 377.0,314.4"/>
<polyline stroke="#f00" points="377.0,311.0 378.4,310.7 379.8,312.8 381.3,310.4 382.7,313.3 384.1,310.6 385.5,313.5 386.9,310.7 388.4,313.9 389.8,312.3 391.2,314.4 392.6,312.5 394.0,315.5 395.5,312.9 396.9,315.3 398.3,313.2 399.7,316.1 401.1,313.4 402.6,316.1 404.0,313.8 405.4,316.2 406.8,315.0 408.2,316.7 409.7,314.7 411.1,317.5 412.5,314.2 413.9,317.8 415.3,315.4 416.8,318.0 418.2,315.8 419.6,318.2 421.0,316.1 422.4,318.8 423.9,315.9 425.3,318.6 426.7,317.1 428.1,318.7 429.5,316.5 431.0,319.6 432.4,317.4 433.8,319.5 435.2,317.0 436.6,320.0 438.1,317.4 439.5,320.3 440.9,317.8 442.3,320.2 443.7,318.9 445.2,321.6 446.6,318.5 448.0,321.4 449.4,319.0 450.8,321.5 452.3,319.2 453.7,322.1 455.1,319.5 456.5,322.1 457.9,319.7 459.4,322.5 460.8,320.4 462.2,322.6 463.6,320.4 465.0,323.2 466.5,321.4 467.9,323.5 469.3,321.2 470.7,324.1 472.1,321.3 473.6,324.2 475.0,321.9 476.4,323.8 477.8,322.0 479.2,324.0 480.7,321.9 482.1,325.4 483.5,322.5 484.9,324.9 486.3,323.0 487.8,324.9 489.2,322.4 490.6,325.5 492.0,322.7 493.4,326.0 494.9,323.6 496.3,325.6 497.7,323.6 499.1,326.2 500.5,323.8 502.0,326.8 503.4,324.1 504.8,327.2 506.2,324.2 507.6,325.8 509.1,324.3 510.5,327.7 511.9,325.0 513.3,327.3 514.7,325.6 516.2,327.3 517.6,325.5 519.0,328.3 520.4,325.9 521.8,329.0 523.3,326.1 524.7,328.6 526.1,327.2 527.5,329.6 528.9,327.1 530.4,330.2 531.8,327.9 533.2,330.8 534.6,329.2 536.0,333.2 537.5,330.2 538.9,334.0 540.3,331.8 541.7,334.9 543.1,332.5 544.6,335.7 546.0,333.4 547.4,336.7 548.8,334.8 550.2,338.1 551.7,336.4 553.1,339.1 554.5,337.9 555.9,341.0 557.3,340.0 558.8,344.3 560.2,343.7 561.6,348.2 563.0,347.8 564.4,352.9 565.9,352.9 567.3,357.9 568.7,357.4 570.1,363.4 571.5,364.3 573.0,369.7 574.4,370.3 575.8,376.6 577.2,378.6 578.6,385.1 580.1,386.5 581.5,393.8 582.9,395.7 584.3,402.1 585.7,403.6 587.2,408.8 588.6,408.4 590.0,411.4 591.4,411.3 592.8,414.8 594.3,413.7 595.7,417.1 597.1,417.1 598.5,419.9 599.9,418.6 601.4,421.1 602.8,419.5 604.2,422.9 604.5,420.7 604.5,392.5 603.1,387.9 601.7,385.6 600.2,381.5 598.8,379.2 597.4,375.3 596.0,372.7 594.6,368.8 593.1,366.3 591.7,362.4 590.3,360.6 588.9,357.5 587.5,355.9 586.0,352.6 584.6,351.5 583.2,348.6 581.8,347.5 580.4,344.4 578.9,343.3 577.5,339.9 576.1,338.4 574.7,334.9 573.3,333.5 571.8,330.3 570.4,329.5 569.0,326.3 567.6,325.9 566.2,323.3 564.7,322.8 563.3,320.9 561.9,320.4 560.5,318.6 559.1,319.4 557.6,316.4 556.2,317.4 554.8,314.6 553.4,315.6 552.0,313.0 550.5,314.2 549.1,311.0 547.7,312.6 546.3,310.3 544.9,311.3 543.4,308.7 542.0,310.0 540.6,307.2 539.2,308.9 537.8,306.0 536.3,308.0 534.9,305.6 533.5,307.4 532.1,305.1 530.7,306.4 529.2,304.1 527.8,306.0 526.4,304.3 525.0,305.5 523.6,303.4 522.1,305.2 520.7,302.8 519.3,304.5 517.9,303.0 516.5,304.8 515.0,302.1 513.6,304.1 512.2,303.0 510.8,304.0 509.4,301.8 507.9,304.0 506.5,301.6 505.1,303.4 503.7,301.8 502.3,303.6 500.8,301.7 499.4,303.3 498.0,300.9 496.6,303.6 495.2,301.6 493.7,303.2 492.3,300.9 490.9,302.7 489.5,300.8 488.1,302.6 486.6,301.2 485.2,303.6 483.8,301.1 482.4,302.9 481.0,301.1 479.5,303.6 478.1,301.4 476.7,303.0 475.3,300.7 473.9,302.9 472.4,300.9 471.0,303.4 469.6,301.5 468.2,302.6 466.8,301.2 465.3,303.6 463.9,301.6 462.5,302.9 461.1,301.8 459.7,303.4 458.2,301.4 456.8,303.7 455.4,301.7 454.0,303.6 452.6,302.0 451.1,303.4 449.7,301.9 448.3,303.5 446.9,301.8 445.5,303.7 444.0,302.1 442.6,304.4 441.2,302.0 439.8,303.8 438.4,301.8 436.9,304.1 435.5,302.0 434.1,304.3 432.7,302.4 431.3,303.5 429.8,301.8 428.4,304.4 427.0,302.6 425.6,304.4 424.2,302.1 422.7,304.9 421.3,302.3 419.9,304.7 418.5,302.2 417.1,304.3 415.6,301.8 414.2,304.6 412.8,302.6 411.4,304.5 410.0,302.0 408.5,304.3 407.1,302.2 405.7,304.0 404.3,302.9 402.9,304.7 401.4,302.9 400.0,304.9 398.6,302.4 397.2,305.0 395.8,302.8 394.3,304.2 392.9,302.2 391.5,304.6 390.1,302.2 388.7,304.5 387.2,302.3 385.8,303.8 384.4,302.4 383.0,304.1 381.6,302.3 380.1,304.5 378.7,302.1 377.3,304.0 375.9,302.2 374.5,303.9 373.0,302.1 371.6,303.9 370.2,302.0 368.8,304.0 367.4,301.6 365.9,303.4 364.5,301.5 363.1,303.7 361.7,301.5 360.3,304.0 358.8,301.9 357.4,303.5 356.0,301.8 354.6,302.7 353.2,301.8 351.7,303.5 350.3,301.5 348.9,303.1 347.5,301.6 346.1,303.3 344.6,301.2 343.2,302.5 341.8,301.2 340.4,303.2 339.0,301.1 337.5,302.4 336.1,301.2 334.7,302.4 333.3,301.4 331.9,302.2 330.4,300.7 329.0,302.0 327.6,301.0 326.2,301.7 324.8,300.4 323.3,301.5 321.9,300.5 320.5,301.7 319.1,300.3 317.7,301.2 316.2,299.9 314.8,301.1 313.4,300.1 312.0,300.7 310.6,299.3 309.1,300.3 307.7,299.2 306.3,300.4 304.9,298.8 303.5,299.9 302.0,298.8 300.6,299.3 299.2,298.6 297.8,299.1 296.4,298.0 294.9,298.8 293.5,297.3 292.1,298.3 290.7,296.9 289.3,297.7 287.8,295.9 286.4,296.8 285.0,295.4 283.6,296.0 282.2,294.8 280.7,295.1 279.3,293.8 277.9,294.1 276.5,292.6 275.1,293.0 273.6,291.3 272.2,291.4 270.8,289.7 269.4,289.5 268.0,288.1 266.5,287.9 265.1,286.0 265.0,286.9 263.6,283.0 262.2,278.7 260.7,276.6 259.3,273.2 257.9,271.7 256.5,268.8 255.1,268.5 253.6,264.9 252.2,265.0 250.8,260.9 249.4,260.6 248.0,257.5 246.5,257.2 245.1,251.8 243.7,251.1 242.3,246.4 240.9,244.3 239.4,238.3 238.0,237.2 236.6,231.6 235.2,229.7 233.8,225.0 232.3,221.3 230.9,214.8 229.5,210.9 228.1,205.1 226.7,199.5 225.2,191.9 223.8,188.8 222.4,179.3 221.0,175.7 219.6,167.8 218.1,163.4 216.7,156.1 215.3,152.0 213.9,145.2 212.5,141.6 211.0,136.2 209.6,132.6 208.2,126.7 207.5,125.0 207.5,125.0 208.0,131.3 208.5,138.3 209.0,144.6 209.7,151.3 210.5,157.2 211.5,163.1 212.9,170.4 214.3,177.0 215.8,183.5 217.2,191.2 218.6,198.6 220.0,206.1 221.4,212.1 222.9,219.0 224.3,223.6 225.7,228.3 227.1,231.6 228.5,237.0 230.0,240.4 231.4,244.9 232.8,247.8 234.2,252.7 235.6,255.8 237.1,260.5 238.5,264.0 239.9,268.4 241.3,270.8 242.7,275.2 244.2,277.8 245.6,281.4 247.0,282.9 248.4,288.2 249.8,288.3 251.3,292.7 252.7,293.7 254.1,297.3 255.5,298.0 256.9,301.6 258.4,302.0 259.8,304.0 261.2,305.5 262.6,307.4 264.0,308.0 265.5,310.7 266.9,311.0 268.3,313.8 269.7,314.0 271.1,315.8 272.6,315.3 274.0,316.9 275.4,316.5 276.8,317.1 278.2,317.3 279.7,318.4 281.1,316.8 282.5,318.6 283.9,317.2 285.3,318.5 286.7,317.4 288.1,318.9 289.6,317.4 291.0,319.2 292.4,317.7 293.8,319.6 295.2,318.0 296.7,319.6 298.1,318.2 299.5,319.8 300.9,318.8 302.3,320.2 303.8,319.4 305.2,320.6 306.6,319.5 308.0,321.3 309.4,320.1 310.9,322.0 312.3,320.6 313.7,322.1 315.1,320.4 316.5,322.4 318.0,321.2 319.4,323.1 320.8,321.5 322.2,323.5 323.6,322.1 325.1,323.7 326.5,322.6 327.9,323.6 329.3,322.6 330.7,324.7 332.2,323.5 333.6,325.4 335.0,323.5 336.4,325.6 337.8,323.4 339.3,325.8 340.7,324.7 342.1,326.4 343.5,324.5 344.9,327.1 346.4,325.1 347.8,326.8 349.2,325.0 350.6,327.5 352.0,325.4 353.5,328.0 354.9,325.9 356.3,328.2 357.7,325.8 359.1,327.7 360.6,326.4 362.0,328.6 363.4,326.9 364.8,328.9 366.2,326.5 367.7,328.5 369.1,327.1 370.5,329.2 371.9,327.5 373.3,330.5 374.8,327.1 376.2,329.6 377.6,328.0 379.0,330.7 380.4,327.8 381.9,330.4 383.3,328.2 384.7,331.5 386.1,328.3 387.5,330.7 389.0,329.0 390.4,331.3 391.8,328.8 393.2,332.0 394.6,329.9 396.1,332.0 397.5,330.2 398.9,332.1 400.3,329.8 401.7,332.5 403.2,330.1 404.6,332.6 406.0,330.7 407.4,332.9 408.8,330.9 410.3,332.9 411.7,330.7 413.1,333.9 414.5,331.4 415.9,333.6 417.4,331.5 418.8,334.2 420.2,331.5 421.6,333.7 423.0,332.9 424.5,333.9 425.9,332.5 427.3,334.7 428.7,332.6 430.1,335.1 431.6,333.3 433.0,335.3 434.4,333.0 435.8,335.3 437.2,333.7 438.7,336.1 440.1,333.7 441.5,336.7 442.9,333.7 444.3,336.9 445.8,334.2 447.2,337.4 448.6,334.8 450.0,336.6 451.4,335.0 452.9,337.8 454.3,335.1 455.7,336.7 457.1,335.7 458.5,338.0 460.0,335.6 461.4,338.8 462.8,336.3 464.2,338.9 465.6,335.9 467.1,339.4 468.5,336.9 469.9,339.1 471.3,336.6 472.7,339.0 474.2,337.4 475.6,339.2 477.0,336.9 478.4,339.4 479.8,337.4 481.3,340.1 482.7,337.8 484.1,340.3 485.5,337.2 486.9,339.6 488.4,337.3 489.8,340.4 491.2,337.0 492.6,340.2 494.0,337.8 495.5,340.0 496.9,337.7 498.3,340.0 499.7,337.9 501.1,340.4 502.6,338.2 504.0,340.9 505.4,337.5 506.8,341.1 508.2,338.6 509.7,340.8 511.1,337.8 512.5,341.1 513.9,338.0 515.3,340.8 516.8,338.6 518.2,341.1 519.6,338.3 521.0,341.2 522.4,339.2 523.9,341.8 525.3,339.2 526.7,342.4 528.1,339.9 529.5,342.8 531.0,339.2 532.4,342.4 533.8,340.8 535.2,343.0 536.6,341.1 538.1,344.1 539.5,342.7 540.9,345.7 542.3,343.2 543.7,346.3 545.2,344.7 546.6,348.4 548.0,346.3 549.4,349.7 550.8,347.7 552.3,351.3 553.7,350.0 555.1,353.4 556.5,351.2 557.9,355.7 559.4,354.3 560.8,357.8 562.2,356.9 563.6,361.3 565.0,361.5 566.5,365.1 567.9,366.3 569.3,369.8 570.7,371.1 572.1,374.8 573.6,376.4 575.0,380.4 576.4,382.0 577.8,386.4 579.2,388.0 580.7,392.2 582.1,392.9 583.5,396.6 584.9,398.2 586.3,402.1 587.8,403.2 589.2,406.2 590.6,406.9 592.0,410.0 593.4,410.8 594.9,413.6 596.3,413.4 597.7,416.3 599.1,416.1 600.5,418.2 602.0,418.0 603.4,420.1 604.5,419.5 604.5,396.7 603.1,391.7 601.7,389.0 600.2,384.8 598.8,382.4 597.4,378.2 596.0,375.6 594.6,371.5 593.1,368.7 591.7,364.6 590.3,362.9 588.9,358.7 587.5,357.5 586.0,354.1 584.6,353.0 583.2,349.8 581.8,348.7 580.4,345.5 578.9,344.4 577.5,340.7 576.1,339.5 574.7,335.6 573.3,334.6 571.8,331.4 570.4,330.2 569.0,327.2 567.6,326.5 566.2,323.8 564.7,323.5 563.3,321.4 561.9,320.8 560.5,319.0 559.1,319.2 557.6,315.5 556.2,317.4 554.8,314.6 553.4,315.7 552.0,313.0 550.5,314.0 549.1,311.6 547.7,313.0 546.3,309.8 544.9,311.9 543.4,308.9 542.0,309.6 540.6,307.6 539.2,308.5 537.8,306.5 536.3,307.4 534.9,305.4 533.5,306.6 532.1,304.4 530.7,306.0 529.2,304.2 527.8,305.3 526.4,303.5 525.0,305.0 523.6,302.7 522.1,304.8 520.7,302.6 519.3,304.5 517.9,301.9 516.5,304.0 515.0,301.8 513.6,303.5 512.2,301.4 510.8,303.7 509.4,301.8 507.9,302.9 506.5,300.5 505.1,303.0 503.7,300.3 502.3,302.4 500.8,301.7 499.4,302.5 498.0,300.6 496.6,302.5 495.2,301.1 493.7,302.2 492.3,300.9 490.9,302.0 489.5,300.2 488.1,302.3 486.6,300.4 485.2,301.5 483.8,300.4 482.4,302.6 481.0,300.2 479.5,302.5 478.1,300.3 476.7,301.9 475.3,300.3 473.9,303.0 472.4,301.2 471.0,303.1 469.6,300.4 468.2,302.1 466.8,300.6 465.3,302.8 463.9,300.0 462.5,303.1 461.1,300.2 459.7,302.8 458.2,300.8 456.8,302.8 455.4,301.3 454.0,303.0 452.6,300.8 451.1,302.5 449.7,300.6 448.3,302.6 446.9,301.6 445.5,302.9 444.0,300.9 442.6,303.3 441.2,301.0 439.8,303.5 438.4,300.8 436.9,303.3 435.5,301.4 434.1,303.0 432.7,301.5 431.3,303.6 429.8,301.0 428.4,303.7 427.0,301.1 425.6,303.1 424.2,301.6 422.7,303.3 421.3,301.2 419.9,303.4 418.5,301.7 417.1,303.1 415.6,300.9 414.2,303.6 412.8,301.5 411.4,303.6 410.0,301.5 408.5,304.2 407.1,302.5 405.7,303.6 404.3,302.0 402.9,303.4 401.4,301.1 400.0,303.4 398.6,301.9 397.2,303.2 395.8,301.5 394.3,303.6 392.9,302.1 391.5,303.5 390.1,301.8 388.7,303.6 387.2,301.8 385.8,303.4 384.4,301.1 383.0,303.3 381.6,301.0 380.1,303.0 378.7,300.8 377.3,303.4 375.9,301.3 374.5,303.3 373.0,300.9 371.6,303.1 370.2,301.1 368.8,303.1 367.4,300.7 365.9,302.4 364.5,301.0 363.1,302.8 361.7,300.9 360.3,302.3 358.8,301.0 357.4,302.4 356.0,300.6 354.6,302.4 353.2,300.5 351.7,302.0 350.3,300.7 348.9,302.6 347.5,300.5 346.1,301.6 344.6,300.4 343.2,301.8 341.8,300.4 340.4,301.6 339.0,300.4 337.5,301.4 336.1,300.0 334.7,301.8 333.3,299.6 331.9,301.2 330.4,299.8 329.0,301.3 327.6,299.9 326.2,300.9 324.8,299.6 323.3,300.8 321.9,299.8 320.5,300.6 319.1,299.5 317.7,300.2 316.2,299.1 314.8,300.4 313.4,298.9 312.0,299.7 310.6,298.5 309.1,299.7 307.7,298.1 306.3,299.4 304.9,298.0 303.5,298.9 302.0,297.6 300.6,298.7 299.2,297.5 297.8,298.2 296.4,297.3 294.9,297.7 293.5,296.4 292.1,297.3 290.7,295.9 289.3,296.6 287.8,295.5 286.4,295.9 285.0,294.7 283.6,295.3 282.2,293.6 280.7,294.0 279.3,292.7 277.9,293.2 276.5,292.2 275.1,291.9 273.6,290.3 272.2,290.7 270.8,288.8 269.4,289.0 268.0,287.4 266.5,287.1 265.1,285.5 265.0,286.4 263.6,283.8 262.2,279.9 260.7,278.1 259.3,275.5 257.9,273.9 256.5,270.3 255.1,270.3 253.6,265.8 252.2,265.5 250.8,262.6 249.4,261.6 248.0,257.8 246.5,257.3 245.1,253.2 243.7,251.8 242.3,247.7 240.9,246.1 239.4,241.2 238.0,238.4 236.6,234.9 235.2,231.8 233.8,227.0 232.3,224.3 230.9,218.1 229.5,215.7 228.1,208.9 226.7,205.3 225.2,199.1 223.8,195.7 222.4,189.4 221.0,185.8 219.6,180.3 218.1,176.5 216.7,171.0 215.3,168.0 213.9,163.4 212.5,161.8 211.0,156.9 209.6,156.4 208.2,151.8 207.5,152.0 207.5,152.0 208.0,155.5 208.5,160.5 209.0,165.4 209.7,172.1 210.5,179.6 211.5,188.3 212.9,199.3 214.3,208.4 215.8,215.6 217.2,221.9 218.6,227.2 220.0,231.8 221.4,235.9 222.9,240.4 224.3,243.8 225.7,247.6 227.1,250.3 228.5,254.6 230.0,257.0 231.4,261.0 232.8,262.0 234.2,265.2 235.6,267.1 237.1,269.0 238.5,271.3 239.9,274.4 241.3,275.9 242.7,280.3 244.2,282.0 245.6,285.3 247.0,287.2 248.4,291.1 249.8,292.2 251.3,295.2 252.7,295.7 254.1,298.6 255.5,299.3 256.9,301.4 258.4,301.3 259.8,303.8 261.2,302.3 262.6,305.2 264.0,305.1 265.5,306.7 266.9,306.7 268.3,309.3 269.7,308.3 271.1,310.3 272.6,309.6 274.0,311.3 275.4,310.8 276.8,312.7 278.2,311.1 279.7,312.2 281.1,312.1 282.5,313.6 283.9,312.6 285.3,314.4 286.7,312.9 288.1,314.4 289.6,313.2 291.0,314.1 292.4,312.8 293.8,314.2 295.2,313.1 296.7,314.4 298.1,313.2 299.5,314.7 300.9,313.4 302.3,314.8 303.8,313.1 305.2,314.9 306.6,313.2 308.0,314.7 309.4,313.5 310.9,314.5 312.3,313.2 313.7,314.6 315.1,313.6 316.5,315.3 318.0,313.6 319.4,315.1 320.8,313.4 322.2,315.5 323.6,313.6 325.1,315.4 326.5,313.7 327.9,315.3 329.3,314.3 330.7,315.6 332.2,314.3 333.6,315.7 335.0,313.6 336.4,315.9 337.8,314.3 339.3,315.9 340.7,314.1 342.1,315.9 343.5,314.5 344.9,316.4 346.4,314.5 347.8,316.4 349.2,314.8 350.6,316.5 352.0,314.3 353.5,316.6 354.9,314.7 356.3,316.7 357.7,315.4 359.1,316.6 360.6,315.1 362.0,317.2 363.4,315.8 364.8,317.2 366.2,315.3 367.7,317.4 369.1,315.5 370.5,317.7 371.9,316.1 373.3,317.4 374.8,315.7 376.2,317.4 377.0,315.9"/>
<polyline stroke="#0f0" points="377.0,312.0 378.4,310.7 379.8,314.1 381.3,312.6 382.7,314.8 384.1,313.5 385.5,315.8 386.9,314.6 388.4,316.3 389.8,314.8 391.2,316.4 392.6,315.3 394.0,318.4 395.5,316.1 396.9,319.1 398.3,317.2 399.7,319.4 401.1,317.4 402.6,319.7 404.0,317.5 405.4,320.5 406.8,318.5 408.2,321.2 409.7,319.1 411.1,321.3 412.5,319.3 413.9,321.2 415.3,319.4 416.8,322.5 418.2,320.6 419.6,322.4 421.0,319.7 422.4,323.5 423.9,320.9 425.3,323.7 426.7,321.6 428.1,323.7 429.5,321.4 431.0,323.6 432.4,322.1 433.8,324.6 435.2,322.4 436.6,324.7 438.1,322.9 439.5,324.4 440.9,323.1 442.3,325.0 443.7,322.7 445.2,325.5 446.6,323.7 448.0,325.6 449.4,323.0 450.8,325.8 452.3,324.2 453.7,326.4 455.1,323.7 456.5,326.5 457.9,323.4 459.4,326.9 460.8,324.5 462.2,327.2 463.6,324.4 465.0,327.8 466.5,325.1 467.9,327.6 469.3,324.2 470.7,327.2 472.1,325.9 473.6,327.6 475.0,325.6 476.4,328.0 477.8,326.0 479.2,327.7 480.7,326.4 482.1,328.6 483.5,326.8 484.9,328.4 486.3,325.8 487.8,329.0 489.2,326.9 490.6,329.0 492.0,326.4 493.4,329.2 494.9,327.4 496.3,329.3 497.7,327.6 499.1,329.8 500.5,327.5 502.0,330.2 503.4,328.3 504.8,330.5 506.2,328.3 507.6,330.4 509.1,328.2 510.5,330.6 511.9,328.8 513.3,331.4 514.7,329.4 516.2,330.8 517.6,330.0 519.0,332.5 520.4,329.8 521.8,333.0 523.3,330.3 524.7,333.1 526.1,330.6 527.5,334.0 528.9,332.2 530.4,334.5 531.8,332.0 533.2,335.2 534.6,333.2 536.0,336.3 537.5,334.7 538.9,338.1 540.3,336.2 541.7,339.4 543.1,337.8 544.6,340.7 546.0,340.0 547.4,342.5 548.8,341.6 550.2,344.7 551.7,343.2 553.1,346.6 554.5,345.8 555.9,349.2 557.3,348.6 558.8,352.1 560.2,351.1 561.6,354.4 563.0,354.1 564.4,358.6 565.9,358.7 567.3,363.0 568.7,363.1 570.1,367.7 571.5,367.4 573.0,372.5 574.4,373.6 575.8,379.5 577.2,380.2 578.6,386.0 580.1,387.1 581.5,393.0 582.9,393.1 584.3,399.5 585.7,401.5 587.2,409.9 588.6,412.1 590.0,419.5 591.4,422.5 592.8,427.6 594.3,427.6 595.7,431.7 597.1,429.4 598.5,433.1 599.9,432.4 601.4,434.9 602.8,433.0 604.2,436.3 604.5,433.9 604.5,394.6 603.1,389.9 601.7,386.8 600.2,382.4 598.8,379.9 597.4,375.9 596.0,373.4 594.6,369.3 593.1,366.7 591.7,362.7 590.3,360.7 588.9,357.1 587.5,355.8 586.0,352.5 584.6,351.3 583.2,348.0 581.8,347.1 580.4,344.3 578.9,342.7 577.5,339.8 576.1,338.3 574.7,334.9 573.3,333.6 571.8,330.8 570.4,329.3 569.0,326.5 567.6,325.8 566.2,323.5 564.7,323.0 563.3,321.0 561.9,320.6 560.5,319.0 559.1,319.3 557.6,316.4 556.2,317.2 554.8,314.4 553.4,315.5 552.0,313.1 550.5,313.8 549.1,311.5 547.7,312.8 546.3,310.1 544.9,311.4 543.4,308.4 542.0,310.3 540.6,306.9 539.2,308.7 537.8,306.2 536.3,307.9 534.9,304.9 533.5,306.6 532.1,304.3 530.7,306.6 529.2,304.1 527.8,305.0 526.4,303.3 525.0,305.6 523.6,303.3 522.1,304.7 520.7,302.5 519.3,304.3 517.9,302.3 516.5,303.9 515.0,301.9 513.6,303.7 512.2,301.0 510.8,303.1 509.4,301.4 507.9,302.7 506.5,300.6 505.1,302.5 503.7,300.5 502.3,303.0 500.8,300.6 499.4,302.1 498.0,301.1 496.6,302.0 495.2,300.3 493.7,302.0 492.3,300.2 490.9,302.3 489.5,300.2 488.1,302.0 486.6,300.5 485.2,302.6 483.8,299.9 482.4,302.0 481.0,300.4 479.5,302.4 478.1,300.0 476.7,302.1 475.3,300.1 473.9,302.0 472.4,300.8 471.0,302.7 469.6,301.0 468.2,302.0 466.8,300.3 465.3,302.3 463.9,300.1 462.5,302.6 461.1,300.7 459.7,302.8 458.2,300.4 456.8,302.0 455.4,300.6 454.0,302.3 452.6,300.4 451.1,302.5 449.7,300.5 448.3,302.1 446.9,300.3 445.5,302.9 444.0,300.8 442.6,302.7 441.2,300.4 439.8,302.6 438.4,300.5 436.9,302.5 435.5,301.0 434.1,302.9 432.7,300.3 431.3,302.5 429.8,301.0 428.4,302.5 427.0,300.8 425.6,302.2 424.2,300.7 422.7,302.6 421.3,300.6 419.9,302.9 418.5,301.0 417.1,303.0 415.6,301.0 414.2,302.7 412.8,300.9 411.4,303.0 410.0,300.9 408.5,302.9 407.1,301.2 405.7,302.9 404.3,300.9 402.9,302.4 401.4,300.9 400.0,303.1 398.6,300.9 397.2,302.7 395.8,300.8 394.3,302.6 392.9,301.2 391.5,302.9 390.1,300.6 388.7,303.1 387.2,301.0 385.8,302.5 384.4,301.1 383.0,302.7 381.6,300.7 380.1,302.6 378.7,301.0 377.3,302.8 375.9,300.9 374.5,302.4 373.0,300.7 371.6,302.2 370.2,300.3 368.8,302.4 367.4,300.0 365.9,302.0 364.5,300.2 363.1,302.1 361.7,300.2 360.3,302.4 358.8,300.3 357.4,301.7 356.0,299.7 354.6,301.3 353.2,299.8 351.7,301.7 350.3,299.9 348.9,301.1 347.5,299.8 346.1,301.4 344.6,299.6 343.2,300.8 341.8,299.5 340.4,300.9 339.0,299.5 337.5,301.1 336.1,298.8 334.7,300.5 333.3,299.4 331.9,300.2 330.4,298.9 329.0,300.5 327.6,299.0 326.2,300.1 324.8,298.8 323.3,300.0 321.9,298.7 320.5,300.0 319.1,298.4 317.7,299.7 316.2,298.4 314.8,299.4 313.4,298.1 312.0,299.2 310.6,298.0 309.1,298.5 307.7,297.8 306.3,298.4 304.9,297.2 303.5,298.2 302.0,297.0 300.6,297.8 299.2,296.9 297.8,297.8 296.4,296.5 294.9,297.2 293.5,296.0 292.1,296.5 290.7,295.5 289.3,295.7 287.8,294.7 286.4,295.0 285.0,294.0 283.6,294.7 282.2,293.4 280.7,293.7 279.3,292.5 277.9,292.4 276.5,291.2 275.1,291.6 273.6,289.8 272.2,290.2 270.8,288.7 269.4,288.9 268.0,287.0 266.5,287.2 265.1,285.6 265.0,286.2 263.6,285.1 262.2,281.0 260.7,280.7 259.3,277.4 257.9,276.4 256.5,273.0 255.1,272.1 253.6,268.2 252.2,267.0 250.8,263.9 249.4,262.8 248.0,258.9 246.5,257.3 245.1,253.4 243.7,251.2 242.3,248.0 240.9,245.3 239.4,241.7 238.0,238.5 236.6,234.7 235.2,232.0 233.8,225.8 232.3,223.5 230.9,218.4 229.5,215.8 228.1,210.3 226.7,208.2 225.2,203.2 223.8,201.6 222.4,197.2 221.0,195.4 219.6,192.6 218.1,191.5 216.7,187.7 215.3,187.5 213.9,184.9 212.5,185.6 211.0,184.9 209.6,186.5 208.2,187.1 207.5,189.0 207.5,189.0 208.0,213.0 208.5,227.5 209.0,232.3 209.7,236.2 210.5,239.5 211.5,242.7 212.9,247.0 214.3,250.6 215.8,254.3 217.2,257.7 218.6,260.5 220.0,263.6 221.4,267.0 222.9,270.3 224.3,272.6 225.7,276.5 227.1,278.2 228.5,282.0 230.0,282.5 231.4,285.4 232.8,286.1 234.2,289.3 235.6,289.6 237.1,292.4 238.5,293.1 239.9,294.8 241.3,296.2 242.7,298.0 244.2,298.0 245.6,300.7 247.0,300.4 248.4,302.1 249.8,303.4 251.3,304.6 252.7,304.6 254.1,306.6 255.5,306.7 256.9,308.0 258.4,307.7 259.8,309.7 261.2,309.1 262.6,310.3 264.0,310.5 265.5,312.7 266.9,312.5 268.3,313.5 269.7,313.0 271.1,315.3 272.6,313.8 274.0,315.3 275.4,314.4 276.8,315.5 278.2,316.5 279.7,317.4 281.1,315.5 282.5,318.0 283.9,316.5 285.3,318.7 286.7,317.9 288.1,318.7 289.6,317.6 291.0,318.9 292.4,317.8 293.8,319.4 295.2,318.3 296.7,319.8 298.1,318.3 299.5,319.2 300.9,318.5 302.3,319.8 303.8,318.4 305.2,320.4 306.6,319.4 308.0,320.7 309.4,319.8 310.9,321.5 312.3,319.7 313.7,321.6 315.1,320.1 316.5,322.2 318.0,320.7 319.4,321.9 320.8,320.4 322.2,322.5 323.6,321.1 325.1,323.3 326.5,321.5 327.9,323.5 329.3,321.8 330.7,323.2 332.2,321.4 333.6,323.4 335.0,321.8 336.4,323.8 337.8,322.1 339.3,323.9 340.7,322.0 342.1,324.6 343.5,322.2 344.9,324.1 346.4,322.7 347.8,324.3 349.2,323.1 350.6,324.9 352.0,323.1 353.5,324.8 354.9,323.2 356.3,325.5 357.7,323.2 359.1,325.8 360.6,323.4 362.0,326.0 363.4,324.1 364.8,326.5 366.2,324.3 367.7,326.4 369.1,324.2 370.5,326.4 371.9,324.5 373.3,327.2 374.8,325.0 376.2,327.1 377.6,325.2 379.0,327.1 380.4,325.1 381.9,328.2 383.3,325.7 384.7,327.9 386.1,325.5 387.5,328.2 389.0,325.7 390.4,327.8 391.8,325.8 393.2,328.0 394.6,325.9 396.1,327.9 397.5,326.2 398.9,328.5 400.3,326.2 401.7,328.9 403.2,326.5 404.6,328.8 406.0,327.1 407.4,328.9 408.8,326.5 410.3,328.8 411.7,327.0 413.1,329.2 414.5,327.1 415.9,329.3 417.4,327.1 418.8,329.1 420.2,327.5 421.6,329.0 423.0,327.3 424.5,329.7 425.9,327.8 427.3,329.8 428.7,327.6 430.1,329.8 431.6,328.3 433.0,330.2 434.4,328.3 435.8,330.7 437.2,327.8 438.7,330.2 440.1,328.4 441.5,331.1 442.9,328.4 444.3,330.7 445.8,329.1 447.2,331.0 448.6,328.4 450.0,331.4 451.4,328.8 452.9,331.1 454.3,328.3 455.7,331.2 457.1,328.8 458.5,331.5 460.0,328.9 461.4,331.4 462.8,329.5 464.2,331.9 465.6,329.1 467.1,331.8 468.5,329.5 469.9,332.3 471.3,330.4 472.7,332.1 474.2,330.1 475.6,332.1 477.0,330.4 478.4,332.6 479.8,330.8 481.3,332.5 482.7,330.5 484.1,333.7 485.5,330.8 486.9,332.8 488.4,331.6 489.8,334.0 491.2,331.5 492.6,333.8 494.0,332.2 495.5,334.1 496.9,332.3 498.3,334.8 499.7,331.6 501.1,334.6 502.6,332.3 504.0,334.9 505.4,333.4 506.8,334.7 508.2,333.1 509.7,335.6 511.1,333.6 512.5,336.0 513.9,333.9 515.3,336.2 516.8,334.4 518.2,336.9 519.6,334.9 521.0,337.0 522.4,335.8 523.9,337.7 525.3,336.3 526.7,338.0 528.1,336.6 529.5,338.6 531.0,337.4 532.4,340.0 533.8,337.5 535.2,341.5 536.6,339.7 538.1,341.8 539.5,340.5 540.9,343.9 542.3,342.1 543.7,345.5 545.2,343.5 546.6,346.4 548.0,345.8 549.4,348.4 550.8,347.5 552.3,350.6 553.7,350.1 555.1,353.2 556.5,352.3 557.9,355.4 559.4,354.4 560.8,357.9 562.2,357.7 563.6,361.5 565.0,361.8 566.5,365.1 567.9,366.1 569.3,369.5 570.7,371.2 572.1,374.7 573.6,376.6 575.0,380.8 576.4,383.0 577.8,387.4 579.2,389.9 580.7,394.3 582.1,396.4 583.5,400.7 584.9,403.2 586.3,407.1 587.8,409.1 589.2,412.9 590.6,414.5 592.0,418.0 593.4,418.9 594.9,421.4 596.3,421.7 597.7,424.1 599.1,424.2 600.5,425.7 602.0,424.9 603.4,426.6 604.5,425.1 604.5,390.1 603.1,385.8 601.7,382.7 600.2,378.8 598.8,376.2 597.4,372.0 596.0,369.7 594.6,365.7 593.1,363.3 591.7,359.2 590.3,357.6 588.9,354.0 587.5,352.8 586.0,349.6 584.6,348.5 583.2,345.6 581.8,344.5 580.4,341.9 578.9,340.6 577.5,337.5 576.1,336.2 574.7,333.2 573.3,332.0 571.8,328.7 570.4,328.2 569.0,325.6 567.6,324.7 566.2,322.4 564.7,322.3 563.3,320.3 561.9,320.3 560.5,317.9 559.1,318.2 557.6,315.6 556.2,316.9 554.8,313.5 553.4,315.1 552.0,312.5 550.5,313.4 549.1,311.0 547.7,311.7 546.3,309.9 544.9,311.0 543.4,308.0 542.0,309.3 540.6,306.9 539.2,308.4 537.8,305.7 536.3,306.7 534.9,304.5 533.5,306.0 532.1,304.4 530.7,305.6 529.2,303.4 527.8,305.5 526.4,302.8 525.0,305.1 523.6,302.0 522.1,304.2 520.7,302.4 519.3,304.2 517.9,302.1 516.5,303.7 515.0,301.3 513.6,303.5 512.2,301.6 510.8,302.7 509.4,300.7 507.9,303.0 506.5,300.8 505.1,302.5 503.7,300.4 502.3,301.9 500.8,300.4 499.4,302.3 498.0,300.3 496.6,301.8 495.2,300.0 493.7,301.9 492.3,300.4 490.9,301.6 489.5,299.6 488.1,302.1 486.6,299.5 485.2,301.4 483.8,299.5 482.4,302.0 481.0,300.1 479.5,301.7 478.1,299.8 476.7,301.9 475.3,299.9 473.9,301.9 472.4,299.6 471.0,301.5 469.6,300.0 468.2,302.0 466.8,300.0 465.3,302.0 463.9,300.0 462.5,301.8 461.1,299.4 459.7,302.2 458.2,299.9 456.8,302.2 455.4,300.5 454.0,302.2 452.6,299.5 451.1,302.0 449.7,300.0 448.3,301.1 446.9,300.0 445.5,302.2 444.0,299.8 442.6,302.0 441.2,300.3 439.8,301.9 438.4,299.8 436.9,301.8 435.5,299.6 434.1,301.7 432.7,299.9 431.3,301.7 429.8,299.8 428.4,301.1 427.0,300.1 425.6,301.8 424.2,299.4 422.7,301.9 421.3,299.8 419.9,301.8 418.5,300.2 417.1,302.2 415.6,300.0 414.2,301.7 412.8,300.0 411.4,301.5 410.0,299.7 408.5,301.6 407.1,300.1 405.7,301.7 404.3,299.9 402.9,302.0 401.4,300.1 400.0,301.7 398.6,300.6 397.2,302.0 395.8,299.8 394.3,301.5 392.9,299.7 391.5,302.0 390.1,300.0 388.7,301.9 387.2,300.0 385.8,301.2 384.4,299.7 383.0,301.5 381.6,299.8 380.1,301.5 378.7,299.9 377.3,301.1 375.9,299.6 374.5,301.5 373.0,299.5 371.6,301.3 370.2,299.8 368.8,301.3 367.4,299.5 365.9,300.6 364.5,299.6 363.1,300.5 361.7,299.4 360.3,300.5 358.8,299.3 357.4,300.8 356.0,299.2 354.6,300.7 353.2,298.6 351.7,300.7 350.3,298.8 348.9,300.2 347.5,298.8 346.1,300.7 344.6,298.7 343.2,300.0 341.8,297.9 340.4,300.4 339.0,298.0 337.5,300.0 336.1,298.4 334.7,299.7 333.3,298.1 331.9,299.4 330.4,298.2 329.0,299.2 327.6,297.8 326.2,299.1 324.8,297.6 323.3,298.7 321.9,297.7 320.5,298.8 319.1,297.3 317.7,298.5 316.2,297.4 314.8,298.3 313.4,297.0 312.0,298.4 310.6,296.8 309.1,297.5 307.7,296.7 306.3,297.6 304.9,296.4 303.5,297.2 302.0,296.2 300.6,296.9 299.2,295.8 297.8,296.7 296.4,295.4 294.9,296.1 293.5,295.0 292.1,295.8 290.7,294.6 289.3,294.8 287.8,293.9 286.4,294.4 285.0,293.2 283.6,293.5 282.2,292.5 280.7,292.7 279.3,291.5 277.9,291.9 276.5,290.6 275.1,291.1 273.6,289.7 272.2,289.9 270.8,288.1 269.4,288.1 268.0,286.8 266.5,287.1 265.1,285.3 265.0,286.0 263.6,285.4 262.2,282.0 260.7,281.8 259.3,279.0 257.9,279.1 256.5,275.3 255.1,275.7 253.6,272.4 252.2,272.0 250.8,269.2 249.4,268.4 248.0,265.1 246.5,264.6 245.1,261.5 243.7,260.0 242.3,257.6 240.9,255.9 239.4,252.2 238.0,251.3 236.6,247.8 235.2,245.2 233.8,242.5 232.3,239.8 230.9,235.3 229.5,233.7 228.1,229.9 226.7,229.3 225.2,224.4 223.8,223.7 222.4,219.4 221.0,219.0 219.6,216.5 218.1,215.0 216.7,213.5 215.3,212.8 213.9,210.9 212.5,210.5 211.0,210.3 209.6,212.7 208.2,212.0 207.5,214.0 207.5,214.0 208.0,227.3 208.5,236.2 209.0,239.7 209.7,242.9 210.5,245.8 211.5,249.1 212.9,252.6 214.3,255.7 215.8,258.5 217.2,261.7 218.6,263.5 220.0,266.6 221.4,268.8 222.9,271.1 224.3,273.4 225.7,276.4 227.1,277.7 228.5,279.3 230.0,281.2 231.4,283.8 232.8,284.4 234.2,287.1 235.6,287.0 237.1,289.2 238.5,288.5 239.9,291.3 241.3,292.3 242.7,293.6 244.2,293.7 245.6,295.4 247.0,296.3 248.4,297.8 249.8,298.8 251.3,300.6 252.7,301.0 254.1,302.4 255.5,302.7 256.9,304.8 258.4,303.2 259.8,306.5 261.2,306.1 262.6,308.8 264.0,308.1 265.5,310.3 266.9,310.1 268.3,312.0 269.7,311.3 271.1,312.9 272.6,312.0 274.0,313.9 275.4,313.3 276.8,315.4 278.2,314.2 279.7,315.7 281.1,314.6 282.5,316.0 283.9,315.6 285.3,316.5 286.7,315.6 288.1,316.5 289.6,315.8 291.0,317.2 292.4,316.0 293.8,317.2 295.2,316.0 296.7,317.4 298.1,316.0 299.5,317.4 300.9,316.6 302.3,318.0 303.8,316.6 305.2,318.2 306.6,316.9 308.0,317.9 309.4,316.7 310.9,318.9 312.3,317.2 313.7,318.9 315.1,318.0 316.5,318.7 318.0,317.9 319.4,319.9 320.8,318.3 322.2,319.8 323.6,318.1 325.1,320.4 326.5,318.5 327.9,320.0 329.3,318.2 330.7,319.7 332.2,318.9 333.6,320.1 335.0,318.5 336.4,320.9 337.8,319.1 339.3,320.9 340.7,319.2 342.1,321.2 343.5,319.4 344.9,321.0 346.4,319.8 347.8,321.5 349.2,319.3 350.6,321.8 352.0,319.6 353.5,321.9 354.9,320.3 356.3,321.4 357.7,319.4 359.1,322.0 360.6,320.3 362.0,321.7 363.4,320.4 364.8,322.5 366.2,319.9 367.7,322.7 369.1,321.1 370.5,322.3 371.9,320.5 373.3,322.9 374.8,321.1 376.2,323.4 377.0,321.3"/>
<polyline stroke="#00f" points="377.0,313.0 378.4,312.2 379.8,315.4 381.3,312.9 382.7,316.0 384.1,315.0 385.5,317.3 386.9,315.0 388.4,317.2 389.8,316.5 391.2,318.6 392.6,316.9 394.0,319.9 395.5,317.5 396.9,320.2 398.3,318.1 399.7,321.1 401.1,319.3 402.6,322.2 404.0,319.7 405.4,322.7 406.8,320.6 408.2,322.9 409.7,320.9 411.1,324.0 412.5,321.3 413.9,324.4 415.3,323.2 416.8,324.4 418.2,322.3 419.6,325.1 421.0,323.1 422.4,325.9 423.9,323.2 425.3,326.1 426.7,324.9 428.1,326.2 429.5,324.8 431.0,327.9 432.4,324.7 433.8,328.2 435.2,325.9 436.6,328.0 438.1,326.3 439.5,328.7 440.9,326.8 442.3,329.7 443.7,327.7 445.2,329.5 446.6,328.2 448.0,330.8 449.4,328.6 450.8,330.9 452.3,329.4 453.7,332.1 455.1,329.0 456.5,331.9 457.9,330.4 459.4,332.2 460.8,330.9 462.2,332.9 463.6,330.7 465.0,333.1 466.5,331.2 467.9,333.2 469.3,331.9 470.7,333.6 472.1,332.5 473.6,334.0 475.0,332.6 476.4,334.8 477.8,332.8 479.2,335.0 480.7,333.5 482.1,335.7 483.5,333.6 484.9,336.1 486.3,333.6 487.8,336.2 489.2,334.1 490.6,336.8 492.0,334.7 493.4,337.0 494.9,335.0 496.3,337.5 497.7,335.4 499.1,337.2 500.5,335.3 502.0,337.9 503.4,335.8 504.8,337.9 506.2,336.1 507.6,338.5 509.1,336.8 510.5,338.3 511.9,337.3 513.3,339.4 514.7,337.7 516.2,339.8 517.6,337.1 519.0,340.9 520.4,338.7 521.8,341.4 523.3,339.3 524.7,341.3 526.1,339.3 527.5,342.5 528.9,339.5 530.4,342.6 531.8,340.6 533.2,343.5 534.6,341.7 536.0,344.5 537.5,342.7 538.9,345.4 540.3,343.9 541.7,347.1 543.1,344.7 544.6,348.6 546.0,346.8 547.4,349.8 548.8,348.0 550.2,352.1 551.7,350.4 553.1,353.8 554.5,352.2 555.9,356.1 557.3,354.4 558.8,358.7 560.2,358.0 561.6,361.7 563.0,361.5 564.4,365.6 565.9,366.4 567.3,370.1 568.7,371.2 570.1,375.7 571.5,375.6 573.0,379.6 574.4,379.4 575.8,382.9 577.2,383.1 578.6,388.3 580.1,388.7 581.5,392.9 582.9,393.5 584.3,399.9 585.7,400.0 587.2,405.0 588.6,406.0 590.0,410.7 591.4,411.9 592.8,415.9 594.3,417.0 595.7,421.5 597.1,421.8 598.5,425.6 599.9,425.5 601.4,428.3 602.8,426.6 604.2,428.8 604.5,427.2 604.5,388.2 603.1,383.7 601.7,381.0 600.2,376.1 598.8,374.1 597.4,369.7 596.0,367.4 594.6,363.4 593.1,361.0 591.7,357.2 590.3,355.2 588.9,352.1 587.5,350.8 586.0,347.9 584.6,346.7 583.2,343.9 581.8,342.7 580.4,339.8 578.9,339.0 577.5,336.2 576.1,334.7 574.7,331.7 573.3,330.8 571.8,327.9 570.4,327.0 569.0,324.6 567.6,324.0 566.2,321.7 564.7,321.6 563.3,319.7 561.9,319.5 560.5,317.9 559.1,318.3 557.6,315.6 556.2,316.5 554.8,314.2 553.4,314.9 552.0,312.4 550.5,313.3 549.1,310.9 547.7,312.1 546.3,309.7 544.9,310.6 543.4,307.8 542.0,309.2 540.6,306.4 539.2,308.0 537.8,305.5 536.3,306.8 534.9,305.0 533.5,305.8 532.1,303.2 530.7,305.4 529.2,303.1 527.8,304.7 526.4,303.0 525.0,304.9 523.6,302.6 522.1,303.8 520.7,301.8 519.3,303.2 517.9,301.8 516.5,303.4 515.0,301.0 513.6,302.7 512.2,300.5 510.8,302.3 509.4,300.3 507.9,302.5 506.5,300.5 505.1,301.9 503.7,300.2 502.3,301.5 500.8,299.2 499.4,301.3 498.0,299.2 496.6,301.2 495.2,299.0 493.7,301.6 492.3,299.1 490.9,300.9 489.5,299.4 488.1,301.2 486.6,299.6 485.2,300.9 483.8,299.5 482.4,301.3 481.0,298.9 479.5,301.1 478.1,299.0 476.7,301.0 475.3,299.7 473.9,301.0 472.4,298.9 471.0,301.2 469.6,299.0 468.2,301.4 466.8,299.4 465.3,300.9 463.9,299.4 462.5,301.4 461.1,299.2 459.7,300.9 458.2,299.0 456.8,300.8 455.4,299.3 454.0,300.9 452.6,299.0 451.1,301.2 449.7,299.3 448.3,300.7 446.9,298.8 445.5,300.7 444.0,298.8 442.6,301.0 441.2,299.1 439.8,300.5 438.4,299.0 436.9,300.9 435.5,299.2 434.1,301.0 432.7,299.1 431.3,300.9 429.8,298.6 428.4,300.3 427.0,298.7 425.6,300.7 424.2,298.8 422.7,300.5 421.3,299.2 419.9,301.5 418.5,298.9 417.1,301.0 415.6,298.7 414.2,300.9 412.8,299.3 411.4,300.6 410.0,299.0 408.5,300.9 407.1,298.7 405.7,300.9 404.3,298.8 402.9,300.9 401.4,299.1 400.0,300.7 398.6,298.5 397.2,300.5 395.8,299.0 394.3,300.3 392.9,298.9 391.5,301.0 390.1,298.5 388.7,300.5 387.2,298.6 385.8,300.4 384.4,298.7 383.0,300.7 381.6,298.3 380.1,300.2 378.7,298.0 377.3,300.2 375.9,298.4 374.5,300.3 373.0,297.9 371.6,300.2 370.2,297.9 368.8,300.2 367.4,297.8 365.9,299.7 364.5,297.9 363.1,299.2 361.7,297.7 360.3,300.0 358.8,297.9 357.4,299.3 356.0,297.6 354.6,299.1 353.2,297.4 351.7,299.4 350.3,297.6 348.9,299.1 347.5,297.1 346.1,298.9 344.6,297.1 343.2,298.8 341.8,297.2 340.4,298.7 339.0,296.9 337.5,298.7 336.1,296.9 334.7,298.1 333.3,296.8 331.9,298.3 330.4,296.5 329.0,298.2 327.6,296.8 326.2,298.1 324.8,296.3 323.3,297.8 321.9,296.4 320.5,297.6 319.1,296.0 317.7,297.5 316.2,295.9 314.8,297.3 313.4,295.8 312.0,296.5 310.6,295.6 309.1,296.8 307.7,295.4 306.3,296.5 304.9,295.1 303.5,296.3 302.0,294.9 300.6,295.7 299.2,294.7 297.8,295.4 296.4,294.5 294.9,295.1 293.5,293.8 292.1,294.3 290.7,293.5 289.3,293.9 287.8,292.8 286.4,293.2 285.0,292.2 283.6,292.8 282.2,291.2 280.7,292.0 279.3,290.6 277.9,291.1 276.5,289.8 275.1,290.2 273.6,288.9 272.2,289.1 270.8,287.5 269.4,287.6 268.0,286.2 266.5,286.6 265.1,284.6 265.0,285.6 263.6,284.9 262.2,281.5 260.7,281.9 259.3,280.0 257.9,279.2 256.5,276.0 255.1,276.6 253.6,273.5 252.2,273.3 250.8,268.7 249.4,269.1 248.0,265.9 246.5,266.7 245.1,263.0 243.7,261.6 242.3,258.3 240.9,257.7 239.4,254.2 238.0,253.2 236.6,249.8 235.2,248.5 233.8,244.9 232.3,242.3 230.9,238.4 229.5,238.1 228.1,234.4 226.7,232.2 225.2,228.4 223.8,227.9 222.4,222.9 221.0,223.4 219.6,219.8 218.1,221.2 216.7,218.1 215.3,218.3 213.9,216.5 212.5,216.3 211.0,215.6 209.6,216.9 208.2,217.2 207.5,218.8 207.5,218.8 208.0,230.9 208.5,239.2 209.0,242.5 209.7,245.6 210.5,248.6 211.5,251.8 212.9,255.2 214.3,258.6 215.8,261.3 217.2,264.1 218.6,266.3 220.0,269.2 221.4,271.5 222.9,273.2 224.3,275.4 225.7,278.3 227.1,279.4 228.5,282.5 230.0,283.2 231.4,285.6 232.8,286.1 234.2,288.3 235.6,290.5 237.1,291.3 238.5,292.2 239.9,293.6 241.3,294.4 242.7,296.0 244.2,296.6 245.6,298.1 247.0,297.7 248.4,299.8 249.8,300.9 251.3,303.5 252.7,302.6 254.1,304.5 255.5,304.8 256.9,307.9 258.4,306.4 259.8,309.6 261.2,309.5 262.6,310.3 264.0,310.6 265.5,312.8 266.9,312.3 268.3,314.8 269.7,314.1 271.1,315.5 272.6,315.9 274.0,317.2 275.4,316.2 276.8,317.4 278.2,317.8 279.7,319.0 281.1,318.6 282.5,319.4 283.9,318.4 285.3,319.6 286.7,318.3 288.1,319.7 289.6,318.6 291.0,320.1 292.4,318.8 293.8,320.5 295.2,319.2 296.7,320.8 298.1,319.3 299.5,320.8 300.9,319.5 302.3,321.4 303.8,320.0 305.2,321.5 306.6,320.6 308.0,322.5 309.4,320.9 310.9,322.3 312.3,321.2 313.7,322.5 315.1,321.0 316.5,323.0 318.0,321.1 319.4,323.2 320.8,322.0 322.2,323.7 323.6,321.8 325.1,323.7 326.5,322.4 327.9,323.7 329.3,322.6 330.7,324.0 332.2,322.6 333.6,324.5 335.0,323.1 336.4,324.3 337.8,323.0 339.3,324.3 340.7,323.5 342.1,325.2 343.5,323.2 344.9,325.5 346.4,323.7 347.8,325.6 349.2,323.7 350.6,325.8 352.0,324.9 353.5,326.8 354.9,324.5 356.3,326.8 357.7,325.0 359.1,327.1 360.6,325.3 362.0,327.2 363.4,325.5 364.8,327.9 366.2,326.2 367.7,327.7 369.1,325.8 370.5,328.4 371.9,326.6 373.3,329.0 374.8,326.7 376.2,329.2 377.6,327.0 379.0,329.5 380.4,326.8 381.9,329.5 383.3,327.1 384.7,329.3 386.1,327.7 387.5,330.1 389.0,327.9 390.4,330.1 391.8,327.8 393.2,330.6 394.6,327.8 396.1,331.3 397.5,328.5 398.9,330.8 400.3,328.3 401.7,331.2 403.2,329.0 404.6,331.6 406.0,329.0 407.4,331.1 408.8,329.2 410.3,331.4 411.7,329.1 413.1,331.7 414.5,329.8 415.9,332.8 417.4,329.6 418.8,332.4 420.2,329.9 421.6,332.0 423.0,330.1 424.5,332.1 425.9,330.2 427.3,333.5 428.7,330.0 430.1,333.2 431.6,331.4 433.0,333.4 434.4,331.7 435.8,333.9 437.2,331.6 438.7,334.0 440.1,332.3 441.5,334.3 442.9,332.8 444.3,334.3 445.8,332.5 447.2,334.9 448.6,332.7 450.0,335.1 451.4,333.3 452.9,335.2 454.3,333.5 455.7,335.8 457.1,333.9 458.5,335.7 460.0,333.5 461.4,336.4 462.8,334.6 464.2,336.2 465.6,334.6 467.1,337.2 468.5,334.8 469.9,337.4 471.3,334.8 472.7,337.2 474.2,335.2 475.6,336.9 477.0,335.9 478.4,338.0 479.8,335.6 481.3,337.8 482.7,336.6 484.1,338.0 485.5,335.8 486.9,338.3 488.4,336.4 489.8,338.4 491.2,335.7 492.6,338.5 494.0,336.3 495.5,339.1 496.9,336.6 498.3,339.6 499.7,336.6 501.1,338.4 502.6,337.0 504.0,339.6 505.4,337.0 506.8,340.0 508.2,337.8 509.7,339.3 511.1,337.6 512.5,339.5 513.9,338.5 515.3,340.1 516.8,338.2 518.2,340.9 519.6,338.5 521.0,340.4 522.4,338.1 523.9,341.2 525.3,339.0 526.7,341.6 528.1,339.6 529.5,342.5 531.0,339.5 532.4,342.7 533.8,341.3 535.2,344.0 536.6,341.7 538.1,344.6 539.5,342.8 540.9,346.0 542.3,344.5 543.7,347.6 545.2,346.1 546.6,349.4 548.0,347.3 549.4,351.0 550.8,349.4 552.3,352.9 553.7,351.1 555.1,354.1 556.5,352.9 557.9,356.5 559.4,355.3 560.8,358.8 562.2,358.5 563.6,362.1 565.0,362.4 566.5,365.7 567.9,366.7 569.3,369.9 570.7,370.8 572.1,374.0 573.6,374.8 575.0,377.6 576.4,378.9 577.8,382.5 579.2,383.7 580.7,387.1 582.1,388.8 583.5,392.1 584.9,393.3 586.3,397.4 587.8,398.1 589.2,402.1 590.6,403.2 592.0,406.4 593.4,407.5 594.9,410.5 596.3,411.9 597.7,414.1 599.1,414.6 600.5,417.1 602.0,417.0 603.4,419.2 604.5,418.6 604.5,384.5 603.1,379.6 601.7,376.9 600.2,372.5 598.8,370.1 597.4,366.1 596.0,364.0 594.6,360.0 593.1,357.8 591.7,354.1 590.3,352.5 588.9,349.3 587.5,347.7 586.0,345.0 584.6,344.1 583.2,341.3 581.8,340.3 580.4,337.8 578.9,336.8 577.5,334.1 576.1,332.8 574.7,329.9 573.3,329.0 571.8,326.4 570.4,325.8 569.0,323.7 567.6,323.1 566.2,321.1 564.7,320.7 563.3,318.8 561.9,318.7 560.5,316.8 559.1,317.7 557.6,314.9 556.2,315.7 554.8,312.4 553.4,314.7 552.0,311.7 550.5,313.3 549.1,310.5 547.7,311.6 546.3,309.2 544.9,310.5 543.4,307.1 542.0,309.2 540.6,305.9 539.2,307.6 537.8,304.8 536.3,307.0 534.9,304.5 533.5,306.1 532.1,303.5 530.7,305.3 529.2,302.9 527.8,304.5 526.4,302.0 525.0,303.6 523.6,301.8 522.1,303.0 520.7,301.7 519.3,302.8 517.9,300.9 516.5,303.0 515.0,300.6 513.6,302.5 512.2,301.0 510.8,302.6 509.4,299.6 507.9,301.9 506.5,299.5 505.1,301.4 503.7,299.9 502.3,301.2 500.8,299.3 499.4,300.8 498.0,298.9 496.6,300.8 495.2,299.0 493.7,300.7 492.3,299.3 490.9,300.9 489.5,299.2 488.1,300.7 486.6,299.0 485.2,300.4 483.8,298.4 482.4,300.7 481.0,298.9 479.5,300.7 478.1,298.6 476.7,300.3 475.3,298.7 473.9,300.7 472.4,298.7 471.0,300.7 469.6,298.6 468.2,300.1 466.8,298.4 465.3,300.4 463.9,298.5 462.5,300.3 461.1,298.8 459.7,299.8 458.2,297.9 456.8,300.9 455.4,298.3 454.0,299.6 452.6,298.2 451.1,300.7 449.7,298.8 448.3,300.3 446.9,298.4 445.5,300.4 444.0,298.1 442.6,299.9 441.2,298.7 439.8,300.3 438.4,298.3 436.9,299.7 435.5,298.7 434.1,300.2 432.7,298.8 431.3,300.3 429.8,298.3 428.4,300.0 427.0,298.7 425.6,299.9 424.2,298.2 422.7,300.4 421.3,298.4 419.9,300.3 418.5,297.9 417.1,299.7 415.6,298.3 414.2,300.2 412.8,298.1 411.4,299.7 410.0,297.9 408.5,299.9 407.1,297.6 405.7,299.9 404.3,298.1 402.9,299.9 401.4,297.6 400.0,299.5 398.6,298.0 397.2,300.2 395.8,298.3 394.3,299.7 392.9,298.1 391.5,299.8 390.1,297.7 388.7,300.0 387.2,297.5 385.8,299.7 384.4,297.7 383.0,299.5 381.6,297.3 380.1,299.1 378.7,297.6 377.3,298.8 375.9,297.9 374.5,299.2 373.0,297.4 371.6,298.6 370.2,297.0 368.8,298.5 367.4,297.0 365.9,298.8 364.5,297.2 363.1,299.2 361.7,297.1 360.3,298.3 358.8,296.9 357.4,298.9 356.0,296.8 354.6,298.8 353.2,296.5 351.7,298.4 350.3,296.5 348.9,298.3 347.5,296.7 346.1,298.2 344.6,296.5 343.2,297.9 341.8,296.2 340.4,297.6 339.0,296.1 337.5,297.9 336.1,295.9 334.7,297.3 333.3,296.2 331.9,297.4 330.4,295.8 329.0,297.4 327.6,295.8 326.2,297.0 324.8,295.8 323.3,296.7 321.9,295.6 320.5,296.8 319.1,295.2 317.7,296.4 316.2,295.3 314.8,296.3 313.4,294.9 312.0,296.2 310.6,295.1 309.1,295.9 307.7,294.8 306.3,295.6 304.9,294.4 303.5,295.1 302.0,294.0 300.6,294.9 299.2,293.6 297.8,294.5 296.4,293.6 294.9,294.1 293.5,293.1 292.1,293.6 290.7,292.5 289.3,293.2 287.8,291.8 286.4,292.3 285.0,291.4 283.6,292.0 282.2,290.8 280.7,291.1 279.3,290.1 277.9,290.4 276.5,289.4 275.1,289.4 273.6,288.3 272.2,288.5 270.8,287.2 269.4,287.0 268.0,285.7 266.5,285.9 265.1,284.3 265.0,285.6 263.6,284.9 262.2,282.9 260.7,281.3 259.3,280.0 257.9,280.1 256.5,277.4 255.1,277.7 253.6,274.8 252.2,274.3 250.8,272.2 249.4,272.1 248.0,269.3 246.5,268.9 245.1,264.8 243.7,265.3 242.3,262.7 240.9,261.9 239.4,259.5 238.0,257.4 236.6,253.9 235.2,253.7 233.8,250.1 232.3,248.4 230.9,245.7 229.5,243.7 228.1,240.7 226.7,240.0 225.2,236.3 223.8,235.7 222.4,232.4 221.0,232.8 219.6,229.9 218.1,230.0 216.7,226.8 215.3,227.5 213.9,225.8 212.5,226.1 211.0,225.6 209.6,227.4 208.2,227.1 207.5,228.4 207.5,228.4 208.0,237.2 208.5,243.8 209.0,246.7 209.7,249.6 210.5,252.3 211.5,255.2 212.9,258.6 214.3,261.7 215.8,264.2 217.2,266.5 218.6,268.9 220.0,270.6 221.4,273.3 222.9,275.0 224.3,276.9 225.7,279.2 227.1,280.9 228.5,283.4 230.0,283.3 231.4,285.7 232.8,286.3 234.2,288.8 235.6,288.6 237.1,290.5 238.5,292.1 239.9,293.3 241.3,293.6 242.7,296.0 244.2,295.7 245.6,297.2 247.0,296.5 248.4,300.2 249.8,299.9 251.3,302.1 252.7,301.7 254.1,304.5 255.5,304.3 256.9,306.9 258.4,307.0 259.8,308.1 261.2,308.7 262.6,310.5 264.0,310.6 265.5,311.7 266.9,312.1 268.3,312.9 269.7,313.8 271.1,314.8 272.6,314.7 274.0,315.9 275.4,315.6 276.8,316.8 278.2,315.6 279.7,317.8 281.1,317.5 282.5,318.1 283.9,317.8 285.3,319.0 286.7,317.6 288.1,319.0 289.6,317.3 291.0,318.9 292.4,318.0 293.8,319.6 295.2,318.1 296.7,319.4 298.1,318.1 299.5,320.3 300.9,319.1 302.3,319.9 303.8,319.0 305.2,320.6 306.6,319.5 308.0,321.1 309.4,319.5 310.9,320.7 312.3,319.9 313.7,321.4 315.1,320.6 316.5,322.0 318.0,320.6 319.4,322.2 320.8,320.8 322.2,322.4 323.6,321.0 325.1,322.9 326.5,321.6 327.9,323.2 329.3,321.0 330.7,323.6 332.2,321.7 333.6,323.6 335.0,322.0 336.4,323.4 337.8,322.3 339.3,323.6 340.7,322.0 342.1,324.2 343.5,322.7 344.9,324.3 346.4,322.3 347.8,324.6 349.2,322.9 350.6,325.4 352.0,323.1 353.5,325.4 354.9,323.4 356.3,325.2 357.7,324.0 359.1,326.3 360.6,324.7 362.0,326.2 363.4,324.7 364.8,327.3 366.2,325.0 367.7,327.3 369.1,325.4 370.5,327.0 371.9,325.3 373.3,328.2 374.8,325.7 376.2,328.1 377.0,326.0"/>
<polyline stroke="#0ff" points="377.0,311.0 378.4,310.7 379.8,314.2 381.3,313.3 382.7,316.7 384.1,315.6 385.5,317.7 386.9,316.8 388.4,319.3 389.8,318.7 391.2,321.3 392.6,320.6 394.0,322.4 395.5,320.9 396.9,324.1 398.3,322.2 399.7,324.6 401.1,323.3 402.6,326.0 404.0,324.1 405.4,326.8 406.8,325.1 408.2,327.2 409.7,325.9 411.1,328.3 412.5,326.3 413.9,328.7 415.3,327.3 416.8,329.5 418.2,327.5 419.6,329.7 421.0,328.0 422.4,330.3 423.9,328.2 425.3,331.2 426.7,329.0 428.1,331.2 429.5,329.7 431.0,331.6 432.4,329.7 433.8,332.7 435.2,331.0 436.6,332.6 438.1,330.9 439.5,333.3 440.9,331.7 442.3,334.1 443.7,331.4 445.2,334.5 446.6,332.6 448.0,334.7 449.4,332.6 450.8,335.6 452.3,333.4 453.7,335.4 455.1,333.7 456.5,335.8 457.9,333.9 459.4,336.7 460.8,334.5 462.2,336.4 463.6,334.1 465.0,337.5 466.5,335.5 467.9,337.3 469.3,335.7 470.7,337.8 472.1,336.0 473.6,338.6 475.0,336.3 476.4,337.9 477.8,336.0 479.2,338.6 480.7,336.2 482.1,339.1 483.5,336.2 484.9,339.0 486.3,336.8 487.8,339.3 489.2,337.4 490.6,339.4 492.0,337.1 493.4,338.9 494.9,338.1 496.3,339.4 497.7,337.2 499.1,339.8 500.5,338.0 502.0,340.4 503.4,338.1 504.8,340.1 506.2,338.2 507.6,340.3 509.1,338.9 510.5,340.5 511.9,338.5 513.3,341.0 514.7,339.0 516.2,341.2 517.6,339.2 519.0,342.1 520.4,340.0 521.8,342.4 523.3,339.9 524.7,341.6 526.1,340.4 527.5,342.9 528.9,340.4 530.4,343.0 531.8,341.4 533.2,344.0 534.6,342.0 536.0,344.2 537.5,343.3 538.9,345.6 540.3,343.5 541.7,346.9 543.1,344.9 544.6,347.8 546.0,346.6 547.4,349.8 548.8,347.6 550.2,350.2 551.7,349.3 553.1,352.3 554.5,350.7 555.9,353.6 557.3,353.1 558.8,356.0 560.2,355.7 561.6,358.5 563.0,358.5 564.4,361.6 565.9,361.3 567.3,364.8 568.7,364.5 570.1,368.6 571.5,367.9 573.0,372.8 574.4,372.2 575.8,376.3 577.2,375.8 578.6,380.2 580.1,379.2 581.5,384.1 582.9,383.6 584.3,387.4 585.7,387.2 587.2,390.6 588.6,390.7 590.0,394.3 591.4,393.5 592.8,397.1 594.3,396.8 595.7,400.0 597.1,399.7 598.5,402.4 599.9,401.8 601.4,404.4 602.8,402.9 604.2,405.9 604.5,404.5 604.5,382.4 603.1,377.5 601.7,374.6 600.2,370.1 598.8,367.7 597.4,363.7 596.0,361.6 594.6,357.5 593.1,355.2 591.7,351.6 590.3,349.6 588.9,346.9 587.5,345.7 586.0,342.8 584.6,341.8 583.2,339.2 581.8,338.1 580.4,335.6 578.9,334.8 577.5,332.2 576.1,331.1 574.7,328.5 573.3,327.6 571.8,325.6 570.4,324.8 569.0,322.3 567.6,322.1 566.2,320.3 564.7,319.9 563.3,318.5 561.9,318.1 560.5,316.6 559.1,316.6 557.6,314.3 556.2,314.7 554.8,313.4 553.4,314.2 552.0,311.3 550.5,311.8 549.1,309.8 547.7,310.7 546.3,308.6 544.9,309.8 543.4,307.1 542.0,308.6 540.6,306.2 539.2,307.6 537.8,305.4 536.3,306.4 534.9,303.5 533.5,305.2 532.1,302.8 530.7,304.4 529.2,302.7 527.8,303.9 526.4,302.3 525.0,302.9 523.6,301.3 522.1,302.5 520.7,301.2 519.3,302.7 517.9,300.6 516.5,302.0 515.0,300.0 513.6,302.3 512.2,299.7 510.8,302.0 509.4,299.9 507.9,300.9 506.5,299.9 505.1,301.3 503.7,299.8 502.3,300.9 500.8,298.9 499.4,300.4 498.0,298.6 496.6,300.1 495.2,298.3 493.7,299.8 492.3,298.4 490.9,299.8 489.5,297.8 488.1,300.2 486.6,298.0 485.2,299.5 483.8,297.8 482.4,300.0 481.0,297.8 479.5,299.4 478.1,297.1 476.7,299.6 475.3,298.1 473.9,299.6 472.4,297.8 471.0,299.3 469.6,297.3 468.2,299.3 466.8,297.3 465.3,299.8 463.9,297.5 462.5,298.9 461.1,298.0 459.7,298.8 458.2,297.6 456.8,299.0 455.4,297.3 454.0,298.6 452.6,297.2 451.1,298.6 449.7,296.9 448.3,299.0 446.9,297.3 445.5,298.9 444.0,297.1 442.6,298.9 441.2,297.0 439.8,298.9 438.4,296.8 436.9,298.6 435.5,297.4 434.1,299.3 432.7,296.7 431.3,298.7 429.8,296.8 428.4,298.8 427.0,297.0 425.6,299.0 424.2,297.1 422.7,298.8 421.3,296.5 419.9,298.1 418.5,296.3 417.1,298.4 415.6,296.8 414.2,298.7 412.8,296.8 411.4,298.2 410.0,296.5 408.5,298.7 407.1,296.5 405.7,298.5 404.3,296.9 402.9,298.1 401.4,296.9 400.0,298.3 398.6,296.2 397.2,298.1 395.8,296.0 394.3,298.3 392.9,296.0 391.5,298.2 390.1,296.3 388.7,297.8 387.2,296.1 385.8,297.7 384.4,295.5 383.0,297.5 381.6,295.8 380.1,297.6 378.7,295.6 377.3,298.0 375.9,295.9 374.5,297.1 373.0,295.8 371.6,297.2 370.2,295.1 368.8,297.2 367.4,295.1 365.9,297.3 364.5,295.8 363.1,297.0 361.7,295.3 360.3,296.5 358.8,295.1 357.4,296.7 356.0,294.8 354.6,296.7 353.2,295.1 351.7,296.5 350.3,295.0 348.9,296.3 347.5,295.0 346.1,296.0 344.6,294.7 343.2,295.7 341.8,295.0 340.4,296.2 339.0,294.3 337.5,295.8 336.1,294.1 334.7,295.5 333.3,294.0 331.9,295.3 330.4,294.4 329.0,295.5 327.6,294.1 326.2,295.1 324.8,294.1 323.3,294.7 321.9,293.8 320.5,294.9 319.1,293.9 317.7,294.5 316.2,293.5 314.8,294.7 313.4,293.2 312.0,294.4 310.6,293.0 309.1,294.1 307.7,292.8 306.3,293.8 304.9,292.6 303.5,293.6 302.0,292.5 300.6,293.3 299.2,292.2 297.8,293.0 296.4,291.8 294.9,292.5 293.5,291.7 292.1,291.9 290.7,291.0 289.3,291.6 287.8,290.6 286.4,291.0 285.0,289.8 283.6,290.4 282.2,289.3 280.7,289.8 279.3,288.8 277.9,289.2 276.5,287.8 275.1,288.4 273.6,287.0 272.2,287.3 270.8,286.2 269.4,286.6 268.0,285.2 266.5,285.3 265.1,284.0 265.0,284.8 263.6,283.3 262.2,281.3 260.7,282.4 259.3,279.7 257.9,280.2 256.5,276.9 255.1,276.4 253.6,274.5 252.2,274.6 250.8,271.4 249.4,271.8 248.0,269.1 246.5,269.7 245.1,265.1 243.7,265.1 242.3,262.7 240.9,262.0 239.4,259.9 238.0,259.0 236.6,255.8 235.2,254.4 233.8,251.0 232.3,249.7 230.9,246.3 229.5,245.0 228.1,242.5 226.7,241.0 225.2,237.8 223.8,237.8 222.4,234.6 221.0,234.1 219.6,232.2 218.1,232.1 216.7,230.0 215.3,229.8 213.9,227.7 212.5,229.1 211.0,226.8 209.6,229.8 208.2,228.9 207.5,230.3 207.5,230.3 208.0,238.8 208.5,245.2 209.0,248.1 209.7,250.9 210.5,253.8 211.5,256.6 212.9,260.1 214.3,262.9 215.8,265.4 217.2,267.7 218.6,269.8 220.0,272.5 221.4,274.6 222.9,276.6 224.3,278.3 225.7,280.7 227.1,282.1 228.5,283.5 230.0,285.1 231.4,288.2 232.8,288.7 234.2,290.0 235.6,290.7 237.1,293.0 238.5,292.7 239.9,295.2 241.3,295.2 242.7,296.7 244.2,297.0 245.6,298.9 247.0,299.4 248.4,301.8 249.8,301.5 251.3,304.1 252.7,303.8 254.1,306.2 255.5,305.7 256.9,307.8 258.4,308.1 259.8,309.9 261.2,310.3 262.6,311.1 264.0,311.9 265.5,313.6 266.9,313.5 268.3,315.0 269.7,316.2 271.1,317.4 272.6,316.6 274.0,318.3 275.4,316.7 276.8,318.7 278.2,318.4 279.7,319.8 281.1,318.4 282.5,320.0 283.9,319.9 285.3,320.4 286.7,319.3 288.1,320.8 289.6,319.9 291.0,321.1 292.4,319.8 293.8,321.2 295.2,320.2 296.7,321.3 298.1,320.4 299.5,322.0 300.9,320.8 302.3,322.2 303.8,321.3 305.2,322.5 306.6,321.3 308.0,323.1 309.4,321.4 310.9,322.8 312.3,322.0 313.7,323.5 315.1,322.4 316.5,324.2 318.0,322.7 319.4,324.5 320.8,322.8 322.2,324.6 323.6,323.0 325.1,324.4 326.5,323.6 327.9,325.0 329.3,323.5 330.7,325.3 332.2,323.9 333.6,325.3 335.0,323.7 336.4,325.5 337.8,323.8 339.3,325.6 340.7,324.5 342.1,325.9 343.5,324.9 344.9,326.6 346.4,324.7 347.8,326.8 349.2,325.4 350.6,327.3 352.0,325.7 353.5,327.7 354.9,325.7 356.3,327.8 357.7,326.7 359.1,328.8 360.6,327.2 362.0,329.0 363.4,327.4 364.8,328.8 366.2,327.8 367.7,330.4 369.1,328.0 370.5,329.9 371.9,329.1 373.3,330.9 374.8,329.1 376.2,330.7 377.6,329.3 379.0,331.6 380.4,329.0 381.9,332.2 383.3,329.1 384.7,332.2 386.1,329.8 387.5,331.8 389.0,329.6 390.4,331.9 391.8,329.4 393.2,332.2 394.6,330.2 396.1,332.3 397.5,330.0 398.9,332.3 400.3,329.7 401.7,332.8 403.2,330.8 404.6,332.8 406.0,330.6 407.4,333.0 408.8,331.1 410.3,333.0 411.7,331.3 413.1,332.7 414.5,331.0 415.9,333.1 417.4,330.9 418.8,333.9 420.2,331.2 421.6,333.3 423.0,331.3 424.5,334.0 425.9,331.5 427.3,333.5 428.7,331.3 430.1,333.5 431.6,331.5 433.0,334.7 434.4,332.5 435.8,333.9 437.2,332.9 438.7,334.6 440.1,332.4 441.5,335.1 442.9,332.6 444.3,335.5 445.8,333.1 447.2,335.3 448.6,332.9 450.0,335.0 451.4,334.1 452.9,335.9 454.3,333.4 455.7,335.7 457.1,334.0 458.5,336.0 460.0,334.1 461.4,335.9 462.8,334.5 464.2,336.2 465.6,334.9 467.1,336.5 468.5,334.8 469.9,337.1 471.3,334.8 472.7,337.5 474.2,335.5 475.6,338.3 477.0,335.6 478.4,337.5 479.8,335.2 481.3,337.7 482.7,335.8 484.1,337.5 485.5,336.3 486.9,337.8 488.4,336.0 489.8,338.8 491.2,335.8 492.6,338.6 494.0,336.3 495.5,338.0 496.9,336.3 498.3,337.8 499.7,336.5 501.1,338.8 502.6,336.5 504.0,338.8 505.4,336.3 506.8,339.7 508.2,337.1 509.7,339.6 511.1,337.4 512.5,339.5 513.9,337.7 515.3,339.1 516.8,337.5 518.2,340.2 519.6,337.3 521.0,339.8 522.4,338.2 523.9,340.5 525.3,338.5 526.7,340.9 528.1,339.0 529.5,341.3 531.0,338.9 532.4,341.7 533.8,339.3 535.2,342.3 536.6,340.9 538.1,343.4 539.5,341.9 540.9,344.8 542.3,342.6 543.7,345.5 545.2,344.3 546.6,346.3 548.0,345.0 549.4,348.2 550.8,347.0 552.3,350.2 553.7,348.3 555.1,351.3 556.5,350.3 557.9,353.8 559.4,352.2 560.8,355.7 562.2,355.1 563.6,358.5 565.0,358.2 566.5,361.1 567.9,361.2 569.3,364.3 570.7,364.7 572.1,367.1 573.6,368.0 575.0,370.7 576.4,371.3 577.8,374.2 579.2,375.0 580.7,377.9 582.1,378.4 583.5,381.0 584.9,381.7 586.3,384.6 587.8,384.8 589.2,387.5 590.6,388.3 592.0,390.7 593.4,391.4 594.9,394.0 596.3,394.2 597.7,396.0 599.1,395.9 600.5,398.1 602.0,397.7 603.4,399.2 604.5,398.4 604.5,379.3 603.1,374.6 601.7,371.5 600.2,367.4 598.8,364.9 597.4,361.2 596.0,358.6 594.6,354.8 593.1,352.9 591.7,349.4 590.3,347.6 588.9,344.4 587.5,343.3 586.0,340.8 584.6,339.6 583.2,337.4 581.8,336.4 580.4,333.7 578.9,332.9 577.5,330.5 576.1,329.4 574.7,327.3 573.3,326.4 571.8,324.1 570.4,323.8 569.0,321.6 567.6,321.2 566.2,319.1 564.7,319.1 563.3,317.7 561.9,317.6 560.5,316.0 559.1,316.1 557.6,313.5 556.2,315.2 554.8,312.9 553.4,313.1 552.0,311.1 550.5,312.3 549.1,309.8 547.7,310.8 546.3,308.4 544.9,310.0 543.4,306.9 542.0,308.0 540.6,305.6 539.2,306.3 537.8,304.4 536.3,306.2 534.9,303.6 533.5,305.3 532.1,303.1 530.7,304.2 529.2,302.5 527.8,303.4 526.4,301.5 525.0,302.6 523.6,300.9 522.1,302.9 520.7,300.4 519.3,302.2 517.9,301.1 516.5,302.4 515.0,299.9 513.6,302.0 512.2,299.6 510.8,301.2 509.4,299.0 507.9,300.7 506.5,299.0 505.1,300.7 503.7,298.8 502.3,299.9 500.8,298.3 499.4,300.3 498.0,298.2 496.6,299.9 495.2,297.6 493.7,299.6 492.3,297.4 490.9,299.5 489.5,297.7 488.1,299.4 486.6,297.3 485.2,298.8 483.8,297.9 482.4,298.8 481.0,297.3 479.5,299.0 478.1,297.5 476.7,299.2 475.3,297.2 473.9,299.3 472.4,296.7 471.0,298.4 469.6,296.5 468.2,298.3 466.8,296.8 465.3,299.0 463.9,296.7 462.5,298.5 461.1,297.2 459.7,298.6 458.2,296.4 456.8,298.4 455.4,296.5 454.0,298.6 452.6,296.4 451.1,298.5 449.7,296.6 448.3,298.0 446.9,296.8 445.5,298.3 444.0,295.9 442.6,298.0 441.2,296.7 439.8,298.1 438.4,296.9 436.9,298.3 435.5,295.9 434.1,298.0 432.7,295.9 431.3,297.7 429.8,295.7 428.4,298.1 427.0,296.3 425.6,298.6 424.2,296.0 422.7,298.1 421.3,296.6 419.9,297.3 418.5,296.7 417.1,297.7 415.6,295.9 414.2,297.5 412.8,296.0 411.4,297.3 410.0,295.6 408.5,297.1 407.1,295.7 405.7,297.2 404.3,295.4 402.9,297.9 401.4,295.9 400.0,297.1 398.6,295.3 397.2,297.6 395.8,294.9 394.3,297.1 392.9,295.6 391.5,297.1 390.1,295.1 388.7,296.9 387.2,295.1 385.8,296.8 384.4,295.6 383.0,296.8 381.6,294.9 380.1,297.2 378.7,295.1 377.3,296.6 375.9,294.6 374.5,296.3 373.0,294.2 371.6,296.3 370.2,294.4 368.8,296.3 367.4,294.4 365.9,296.2 364.5,294.2 363.1,295.9 361.7,294.3 360.3,296.0 358.8,294.2 357.4,295.4 356.0,294.1 354.6,295.9 353.2,294.2 351.7,295.5 350.3,294.1 348.9,295.7 347.5,293.9 346.1,295.5 344.6,294.0 343.2,295.5 341.8,293.8 340.4,295.6 339.0,293.9 337.5,295.4 336.1,293.0 334.7,294.8 333.3,293.4 331.9,294.3 330.4,293.5 329.0,294.5 327.6,293.0 326.2,294.5 324.8,293.1 323.3,294.2 321.9,292.8 320.5,294.4 319.1,292.5 317.7,293.9 316.2,292.8 314.8,294.1 313.4,292.3 312.0,293.3 310.6,292.1 309.1,293.2 307.7,291.9 306.3,292.8 304.9,291.9 303.5,292.7 302.0,291.9 300.6,292.5 299.2,291.4 297.8,291.9 296.4,290.8 294.9,291.8 293.5,290.6 292.1,291.5 290.7,290.2 289.3,290.8 287.8,289.9 286.4,290.4 285.0,289.3 283.6,290.0 282.2,288.8 280.7,289.1 279.3,288.0 277.9,288.6 276.5,287.3 275.1,287.8 273.6,286.7 272.2,286.8 270.8,285.8 269.4,286.0 268.0,284.7 266.5,285.3 265.1,284.0 265.0,284.7 263.6,283.6 262.2,281.9 260.7,281.6 259.3,279.0 257.9,279.3 256.5,277.1 255.1,276.9 253.6,274.8 252.2,274.8 250.8,272.5 249.4,272.5 248.0,269.7 246.5,269.8 245.1,266.9 243.7,267.1 242.3,263.7 240.9,263.5 239.4,259.8 238.0,259.5 236.6,257.1 235.2,256.2 233.8,253.9 232.3,252.1 230.9,249.7 229.5,248.6 228.1,245.6 226.7,244.9 225.2,242.0 223.8,241.4 222.4,238.2 221.0,238.2 219.6,235.5 218.1,235.4 216.7,233.3 215.3,233.6 213.9,230.6 212.5,231.6 211.0,229.9 209.6,231.2 208.2,230.1 207.5,231.3 207.5,231.3 208.0,239.2 208.5,245.4 209.0,248.3 209.7,251.0 210.5,253.8 211.5,256.9 212.9,260.4 214.3,263.2 215.8,265.9 217.2,268.6 218.6,270.6 220.0,273.2 221.4,274.3 222.9,276.8 224.3,278.8 225.7,281.2 227.1,282.7 228.5,284.2 230.0,286.4 231.4,288.3 232.8,288.8 234.2,290.4 235.6,290.3 237.1,292.3 238.5,293.6 239.9,294.9 241.3,296.2 242.7,298.0 244.2,297.0 245.6,300.1 247.0,299.7 248.4,302.3 249.8,302.7 251.3,303.7 252.7,304.2 254.1,307.1 255.5,306.1 256.9,308.3 258.4,308.0 259.8,310.3 261.2,310.6 262.6,312.4 264.0,312.3 265.5,314.3 266.9,314.6 268.3,315.4 269.7,316.0 271.1,318.0 272.6,317.0 274.0,319.6 275.4,318.7 276.8,319.9 278.2,319.4 279.7,320.6 281.1,319.7 282.5,321.1 283.9,319.8 285.3,321.5 286.7,320.5 288.1,321.4 289.6,320.7 291.0,321.8 292.4,320.9 293.8,322.0 295.2,321.2 296.7,322.5 298.1,321.4 299.5,322.8 300.9,321.6 302.3,322.8 303.8,322.2 305.2,323.2 306.6,322.4 308.0,323.9 309.4,322.5 310.9,323.9 312.3,323.0 313.7,324.2 315.1,323.2 316.5,324.7 318.0,323.9 319.4,325.3 320.8,323.8 322.2,325.5 323.6,324.5 325.1,325.6 326.5,324.4 327.9,325.8 329.3,324.5 330.7,326.5 332.2,324.7 333.6,326.6 335.0,325.3 336.4,326.7 337.8,325.1 339.3,326.8 340.7,325.5 342.1,326.8 343.5,325.7 344.9,326.8 346.4,325.7 347.8,327.7 349.2,326.1 350.6,328.1 352.0,326.3 353.5,329.0 354.9,327.0 356.3,328.6 357.7,327.2 359.1,329.3 360.6,328.0 362.0,329.3 363.4,328.2 364.8,330.4 366.2,328.2 367.7,329.7 369.1,328.5 370.5,331.0 371.9,329.3 373.3,331.9 374.8,329.9 376.2,332.1 377.6,330.5 379.0,333.1 380.4,331.5 381.9,334.5 383.3,332.6 384.7,335.1 386.1,333.8 387.5,337.0 389.0,334.7 390.4,337.0 391.8,335.3 393.2,337.9 394.6,335.9 396.1,338.3 397.5,336.3 398.9,338.2 400.3,336.1 401.7,337.9 403.2,334.3 404.6,336.9 406.0,334.1 407.0,334.4"/>
<polyline stroke="#f0f" points="377.0,312.0 378.4,313.3 379.8,316.2 381.3,314.4 382.7,318.4 384.1,317.1 385.5,320.2 386.9,318.8 388.4,321.3 389.8,320.4 391.2,323.8 392.6,322.0 394.0,324.2 395.5,323.4 396.9,325.9 398.3,324.4 399.7,326.8 401.1,325.4 402.6,327.4 404.0,326.0 405.4,328.3 406.8,326.8 408.2,329.6 409.7,327.1 411.1,329.4 412.5,327.7 413.9,330.2 415.3,328.6 416.8,330.3 418.2,329.2 419.6,331.3 421.0,329.6 422.4,331.6 423.9,329.9 425.3,332.7 426.7,330.3 428.1,332.1 429.5,330.7 431.0,332.2 432.4,331.1 433.8,333.4 435.2,332.0 436.6,333.0 438.1,331.1 439.5,334.0 440.9,332.0 442.3,333.9 443.7,332.3 445.2,334.4 446.6,333.0 448.0,335.4 449.4,333.8 450.8,335.7 452.3,334.0 453.7,335.8 455.1,334.2 456.5,336.2 457.9,334.4 459.4,336.3 460.8,334.9 462.2,337.0 463.6,335.6 465.0,337.3 466.5,336.3 467.9,337.2 469.3,335.8 470.7,337.9 472.1,335.6 473.6,337.9 475.0,336.1 476.4,337.9 477.8,336.2 479.2,338.9 480.7,336.6 482.1,339.2 483.5,336.5 484.9,338.8 486.3,336.4 487.8,339.1 489.2,336.6 490.6,338.7 492.0,336.2 493.4,338.7 494.9,337.5 496.3,339.7 497.7,337.7 499.1,339.6 500.5,337.7 502.0,339.6 503.4,337.7 504.8,340.3 506.2,337.7 507.6,340.1 509.1,338.2 510.5,340.4 511.9,338.1 513.3,340.1 514.7,338.6 516.2,340.6 517.6,339.0 519.0,341.3 520.4,338.8 521.8,341.0 523.3,339.1 524.7,341.2 526.1,338.8 527.5,342.4 528.9,339.6 530.4,342.2 531.8,340.1 533.2,342.9 534.6,341.1 536.0,343.6 537.5,341.7 538.9,343.6 540.3,342.9 541.7,344.7 543.1,343.2 544.6,345.9 546.0,345.1 547.4,346.9 548.8,345.1 550.2,347.5 551.7,346.6 553.1,348.7 554.5,347.1 555.9,350.0 557.3,348.6 558.8,351.1 560.2,349.7 561.6,351.8 563.0,351.2 564.4,354.0 565.9,353.0 567.3,355.5 568.7,355.0 570.1,357.8 571.5,356.8 573.0,360.2 574.4,358.8 575.8,361.7 577.2,360.3 578.6,364.0 580.1,363.1 581.5,366.2 582.9,364.8 584.3,367.9 585.7,366.4 587.2,369.8 588.6,368.9 590.0,372.1 591.4,370.8 592.8,373.9 594.3,373.4 595.7,376.3 597.1,375.7 598.5,379.1 599.9,378.6 601.4,382.9 602.8,382.0 604.2,385.3 604.5,384.2 604.5,376.4 603.1,371.5 601.7,368.6 600.2,364.1 598.8,361.6 597.4,357.8 596.0,355.6 594.6,351.7 593.1,349.5 591.7,346.4 590.3,344.6 588.9,341.6 587.5,340.6 586.0,338.0 584.6,336.9 583.2,334.9 581.8,334.0 580.4,331.5 578.9,330.6 577.5,328.5 576.1,327.6 574.7,325.4 573.3,324.7 571.8,322.7 570.4,322.2 569.0,320.2 567.6,320.4 566.2,318.3 564.7,318.4 563.3,316.6 561.9,316.8 560.5,315.2 559.1,315.3 557.6,313.7 556.2,314.8 554.8,312.1 553.4,312.8 552.0,310.6 550.5,311.9 549.1,309.2 547.7,311.2 546.3,308.4 544.9,308.9 543.4,307.3 542.0,308.4 540.6,304.8 539.2,306.7 537.8,304.2 536.3,305.3 534.9,303.8 533.5,304.8 532.1,302.8 530.7,304.2 529.2,301.6 527.8,303.2 526.4,301.2 525.0,302.9 523.6,300.8 522.1,302.3 520.7,300.2 519.3,302.0 517.9,300.4 516.5,301.2 515.0,299.5 513.6,301.0 512.2,299.7 510.8,300.7 509.4,298.5 507.9,300.1 506.5,298.4 505.1,300.0 503.7,298.5 502.3,300.1 500.8,297.8 499.4,299.2 498.0,297.5 496.6,298.8 495.2,297.1 493.7,299.0 492.3,297.3 490.9,298.9 489.5,296.9 488.1,298.4 486.6,297.3 485.2,298.4 483.8,296.3 482.4,298.5 481.0,296.0 479.5,298.2 478.1,296.7 476.7,297.6 475.3,296.3 473.9,298.0 472.4,295.7 471.0,297.9 469.6,296.3 468.2,297.6 466.8,295.5 465.3,297.8 463.9,295.8 462.5,297.6 461.1,295.8 459.7,297.6 458.2,295.8 456.8,297.4 455.4,295.6 454.0,297.5 452.6,295.8 451.1,297.5 449.7,295.4 448.3,297.5 446.9,295.7 445.5,297.1 444.0,295.2 442.6,296.9 441.2,295.4 439.8,297.0 438.4,295.1 436.9,297.3 435.5,295.4 434.1,296.9 432.7,294.6 431.3,297.1 429.8,295.0 428.4,296.9 427.0,294.9 425.6,296.8 424.2,294.6 422.7,296.5 421.3,294.2 419.9,296.6 418.5,294.5 417.1,296.2 415.6,294.7 414.2,296.2 412.8,294.5 411.4,295.9 410.0,294.2 408.5,296.1 407.1,294.1 405.7,296.7 404.3,294.1 402.9,295.9 401.4,294.2 400.0,296.3 398.6,294.1 397.2,295.7 395.8,293.6 394.3,295.4 392.9,294.0 391.5,296.0 390.1,293.7 388.7,295.2 387.2,293.9 385.8,295.5 384.4,293.8 383.0,295.0 381.6,293.7 380.1,295.3 378.7,293.6 377.3,295.7 375.9,293.6 374.5,295.3 373.0,293.4 371.6,294.9 370.2,292.6 368.8,294.6 367.4,292.9 365.9,295.1 364.5,293.1 363.1,294.5 361.7,293.0 360.3,294.2 358.8,292.4 357.4,294.2 356.0,292.8 354.6,294.2 353.2,292.2 351.7,294.0 350.3,292.7 348.9,293.8 347.5,292.4 346.1,293.9 344.6,292.8 343.2,293.5 341.8,292.3 340.4,293.2 339.0,292.0 337.5,293.4 336.1,292.3 334.7,293.0 333.3,291.5 331.9,293.2 330.4,291.9 329.0,292.9 327.6,291.6 326.2,293.0 324.8,291.3 323.3,292.4 321.9,291.6 320.5,292.6 319.1,291.0 317.7,292.1 316.2,291.1 314.8,292.5 313.4,290.9 312.0,291.8 310.6,290.5 309.1,291.9 307.7,290.8 306.3,291.2 304.9,290.3 303.5,291.0 302.0,290.2 300.6,290.9 299.2,290.1 297.8,290.5 296.4,289.7 294.9,290.2 293.5,289.2 292.1,289.9 290.7,288.6 289.3,289.6 287.8,288.5 286.4,289.1 285.0,287.9 283.6,288.6 282.2,287.4 280.7,287.8 279.3,286.8 277.9,287.3 276.5,286.2 275.1,286.9 273.6,285.7 272.2,286.2 270.8,285.0 269.4,285.5 268.0,284.2 266.5,284.4 265.1,283.4 265.0,284.4 263.6,283.3 262.2,281.5 260.7,281.1 259.3,278.7 257.9,278.9 256.5,277.8 255.1,277.3 253.6,275.4 252.2,275.2 250.8,271.7 249.4,272.4 248.0,270.1 246.5,270.9 245.1,267.6 243.7,266.6 242.3,265.1 240.9,264.6 239.4,262.1 238.0,261.9 236.6,258.6 235.2,258.8 233.8,255.5 232.3,255.4 230.9,252.6 229.5,251.5 228.1,248.5 226.7,248.4 225.2,246.4 223.8,246.2 222.4,242.8 221.0,243.9 219.6,240.6 218.1,240.7 216.7,238.3 215.3,238.5 213.9,235.8 212.5,236.5 211.0,234.5 209.6,235.4 208.2,234.0 207.5,235.0 207.5,235.0 208.0,241.9 208.5,247.5 209.0,250.1 209.7,252.9 210.5,255.7 211.5,258.8 212.9,261.9 214.3,264.8 215.8,267.4 217.2,269.9 218.6,271.6 220.0,273.8 221.4,275.8 222.9,278.1 224.3,279.4 225.7,281.5 227.1,283.1 228.5,285.6 230.0,285.6 231.4,288.5 232.8,289.0 234.2,291.8 235.6,291.0 237.1,293.0 238.5,294.4 239.9,294.7 241.3,295.7 242.7,297.4 244.2,297.8 245.6,300.5 247.0,299.5 248.4,302.5 249.8,302.5 251.3,304.9 252.7,304.2 254.1,306.9 255.5,306.8 256.9,308.8 258.4,309.1 259.8,310.8 261.2,311.0 262.6,313.0 264.0,313.2 265.5,315.0 266.9,314.3 268.3,316.9 269.7,316.3 271.1,317.9 272.6,317.6 274.0,319.6 275.4,318.0 276.8,319.8 278.2,320.0 279.7,319.9 281.1,319.5 282.5,321.4 283.9,320.8 285.3,321.6 286.7,320.6 288.1,321.8 289.6,320.6 291.0,321.9 292.4,320.8 293.8,322.2 295.2,321.1 296.7,322.7 298.1,321.5 299.5,322.6 300.9,321.8 302.3,322.9 303.8,321.9 305.2,323.7 306.6,322.1 308.0,323.8 309.4,322.7 310.9,323.8 312.3,323.0 313.7,324.6 315.1,323.2 316.5,325.0 318.0,323.6 319.4,325.4 320.8,324.1 322.2,325.2 323.6,324.7 325.1,326.4 326.5,324.0 327.9,325.9 329.3,324.5 330.7,325.8 332.2,324.6 333.6,326.6 335.0,325.1 336.4,326.2 337.8,324.9 339.3,326.3 340.7,325.1 342.1,326.8 343.5,325.6 344.9,327.4 346.4,325.6 347.8,328.1 349.2,325.7 350.6,328.0 352.0,326.8 353.5,328.9 354.9,327.0 356.3,329.4 357.7,327.5 359.1,329.7 360.6,327.8 362.0,330.2 363.4,327.8 364.8,330.7 366.2,329.4 367.7,330.8 369.1,329.2 370.5,331.3 371.9,329.6 373.3,332.2 374.8,329.8 376.2,332.1 377.6,329.7 379.0,331.8 380.4,330.0 381.9,331.7 383.3,330.4 384.7,332.7 386.1,331.2 387.5,333.5 389.0,330.6 390.4,332.7 391.8,330.2 393.2,333.0 394.6,331.0 396.1,333.3 397.5,331.2 398.9,332.9 400.3,331.2 401.7,333.1 403.2,330.4 404.6,333.2 406.0,331.0 407.4,333.2 408.8,331.1 410.3,333.6 411.7,331.2 413.1,333.8 414.5,331.6 415.9,333.3 417.4,331.1 418.8,333.7 420.2,331.4 421.6,334.4 423.0,331.6 424.5,333.6 425.9,331.4 427.3,333.8 428.7,331.3 430.1,333.8 431.6,331.9 433.0,333.8 434.4,332.6 435.8,334.5 437.2,332.4 438.7,334.3 440.1,332.7 441.5,334.9 442.9,332.4 444.3,334.9 445.8,333.5 447.2,335.3 448.6,333.5 450.0,335.6 451.4,333.2 452.9,335.4 454.3,333.3 455.7,336.2 457.1,333.7 458.5,336.1 460.0,333.8 461.4,336.6 462.8,334.9 464.2,336.4 465.6,335.1 467.1,336.9 468.5,334.7 469.9,336.6 471.3,335.1 472.7,337.6 474.2,335.5 475.6,337.3 477.0,335.2 478.4,337.3 479.8,335.3 481.3,337.6 482.7,335.9 484.1,337.6 485.5,335.7 486.9,337.9 488.4,336.2 489.8,338.5 491.2,336.5 492.6,338.0 494.0,336.5 495.5,338.6 496.9,336.6 498.3,338.4 499.7,336.1 501.1,339.8 502.6,336.4 504.0,339.1 505.4,337.0 506.8,339.1 508.2,336.9 509.7,338.6 511.1,337.5 512.5,339.4 513.9,337.5 515.3,339.3 516.8,337.8 518.2,339.9 519.6,338.0 521.0,339.4 522.4,338.4 523.9,339.9 525.3,337.7 526.7,340.9 528.1,338.7 529.5,341.1 531.0,339.2 532.4,341.8 533.8,339.3 535.2,342.1 536.6,340.8 538.1,342.8 539.5,341.1 540.9,343.9 542.3,342.1 543.7,344.5 545.2,342.7 546.6,345.4 548.0,343.9 549.4,346.5 550.8,345.5 552.3,347.5 553.7,345.9 555.1,348.9 556.5,347.0 557.9,350.1 559.4,349.2 560.8,351.1 562.2,350.0 563.6,352.6 565.0,352.4 566.5,354.1 567.9,353.6 569.3,355.7 570.7,355.5 572.1,357.8 573.6,357.4 575.0,359.5 576.4,359.4 577.8,361.1 579.2,361.4 580.7,363.2 582.1,363.1 583.5,365.2 584.9,365.0 586.3,367.1 587.8,367.2 589.2,369.2 590.6,369.3 592.0,371.2 593.4,371.2 594.9,373.5 596.3,373.5 597.7,375.7 599.1,375.8 600.5,378.0 602.0,378.2 603.4,380.5 604.5,380.3 604.5,374.5 603.1,369.4 601.7,366.4 600.2,361.9 598.8,359.6 597.4,355.7 596.0,353.7 594.6,349.9 593.1,347.8 591.7,344.6 590.3,343.1 588.9,340.0 587.5,338.8 586.0,336.6 584.6,335.7 583.2,333.4 581.8,332.7 580.4,330.5 578.9,329.6 577.5,327.5 576.1,326.9 574.7,324.5 573.3,323.9 571.8,322.1 570.4,321.6 569.0,319.8 567.6,319.7 566.2,317.9 564.7,318.1 563.3,316.3 561.9,316.4 560.5,314.8 559.1,315.5 557.6,313.0 556.2,314.2 554.8,311.5 553.4,312.7 552.0,310.5 550.5,311.4 549.1,309.2 547.7,310.8 546.3,308.2 544.9,309.1 543.4,307.0 542.0,307.4 540.6,305.2 539.2,306.6 537.8,304.5 536.3,305.2 534.9,303.3 533.5,303.9 532.1,302.4 530.7,303.8 529.2,301.1 527.8,303.0 526.4,301.2 525.0,302.8 523.6,300.4 522.1,301.9 520.7,299.9 519.3,301.9 517.9,299.8 516.5,300.9 515.0,299.1 513.6,301.1 512.2,298.5 510.8,300.2 509.4,298.2 507.9,299.7 506.5,298.1 505.1,299.6 503.7,297.5 502.3,298.8 500.8,297.4 499.4,299.5 498.0,297.3 496.6,298.6 495.2,297.2 493.7,298.4 492.3,296.4 490.9,298.7 489.5,296.3 488.1,298.0 486.6,296.9 485.2,298.4 483.8,296.2 482.4,298.4 481.0,296.2 479.5,297.8 478.1,295.8 476.7,297.8 475.3,296.1 473.9,297.7 472.4,295.9 471.0,297.5 469.6,295.6 468.2,297.5 466.8,295.6 465.3,296.9 463.9,295.7 462.5,297.5 461.1,295.4 459.7,297.7 458.2,294.9 456.8,296.7 455.4,294.9 454.0,296.8 452.6,295.0 451.1,296.4 449.7,295.1 448.3,297.0 446.9,294.6 445.5,296.5 444.0,294.8 442.6,296.3 441.2,294.9 439.8,296.5 438.4,294.5 436.9,296.6 435.5,294.4 434.1,296.5 432.7,294.7 431.3,295.9 429.8,294.6 428.4,296.5 427.0,294.4 425.6,296.3 424.2,294.1 422.7,295.8 421.3,294.2 419.9,295.7 418.5,294.3 417.1,295.3 415.6,294.0 414.2,295.5 412.8,293.5 411.4,295.6 410.0,293.4 408.5,295.3 407.1,293.6 405.7,295.3 404.3,293.2 402.9,295.5 401.4,294.1 400.0,295.2 398.6,293.4 397.2,294.6 395.8,293.0 394.3,295.3 392.9,293.2 391.5,295.1 390.1,292.9 388.7,294.7 387.2,292.9 385.8,294.8 384.4,293.1 383.0,294.6 381.6,292.9 380.1,294.3 378.7,292.5 377.3,294.5 375.9,292.4 374.5,294.7 373.0,292.4 371.6,294.0 370.2,292.7 368.8,294.2 367.4,292.2 365.9,293.8 364.5,292.2 363.1,293.7 361.7,292.1 360.3,293.5 358.8,292.1 357.4,293.5 356.0,292.1 354.6,293.7 353.2,292.0 351.7,293.7 350.3,292.0 348.9,293.5 347.5,291.7 346.1,292.9 344.6,291.5 343.2,293.3 341.8,291.5 340.4,292.7 339.0,291.2 337.5,292.7 336.1,291.6 334.7,292.5 333.3,291.4 331.9,292.2 330.4,290.9 329.0,292.0 327.6,291.0 326.2,292.1 324.8,290.7 323.3,291.9 321.9,291.0 320.5,291.9 319.1,290.9 317.7,291.8 316.2,290.5 314.8,291.4 313.4,290.3 312.0,291.3 310.6,290.3 309.1,291.0 307.7,289.8 306.3,290.6 304.9,289.8 303.5,290.2 302.0,289.4 300.6,290.4 299.2,289.2 297.8,289.9 296.4,289.1 294.9,289.6 293.5,288.8 292.1,289.1 290.7,288.3 289.3,288.7 287.8,288.0 286.4,288.4 285.0,287.3 283.6,288.0 282.2,286.8 280.7,287.4 279.3,286.3 277.9,286.9 276.5,285.7 275.1,286.3 273.6,285.1 272.2,285.6 270.8,284.3 269.4,285.2 268.0,283.9 266.5,284.3 265.1,283.1 265.0,283.8 263.6,283.3 262.2,281.6 260.7,281.5 259.3,279.8 257.9,281.0 256.5,278.5 255.1,278.7 253.6,275.9 252.2,277.7 250.8,276.4 249.4,276.0 248.0,273.9 246.5,274.0 245.1,272.9 243.7,272.4 242.3,271.4 240.9,271.8 239.4,269.1 238.0,268.3 236.6,267.3 235.2,267.0 233.8,265.2 232.3,266.0 230.9,263.4 229.5,264.2 228.1,261.4 226.7,261.7 225.2,258.9 223.8,259.7 222.4,257.3 221.0,258.3 219.6,255.9 218.1,256.1 216.7,254.1 215.3,254.2 213.9,252.4 212.5,252.8 211.0,250.8 209.6,250.3 208.2,248.9 207.5,249.0 207.5,249.0 208.0,252.7 208.5,256.3 209.0,258.5 209.7,260.9 210.5,263.4 211.5,266.0 212.9,269.2 214.3,271.5 215.8,273.5 217.2,275.7 218.6,277.2 220.0,279.6 221.4,280.9 222.9,283.1 224.3,284.0 225.7,286.6 227.1,288.1 228.5,288.6 230.0,290.2 231.4,291.4 232.8,292.2 234.2,293.7 235.6,293.6 237.1,295.7 238.5,296.8 239.9,298.2 241.3,298.2 242.7,299.9 244.2,299.9 245.6,301.4 247.0,301.6 248.4,303.7 249.8,304.1 251.3,305.9 252.7,305.6 254.1,308.2 255.5,308.3 256.9,309.6 258.4,310.8 259.8,311.5 261.2,312.4 262.6,314.0 264.0,314.3 265.5,316.0 266.9,316.1 268.3,318.1 269.7,317.7 271.1,319.3 272.6,319.0 274.0,320.5 275.4,319.9 276.8,320.4 278.2,320.6 279.7,322.0 281.1,320.6 282.5,322.3 283.9,321.8 285.3,322.3 286.7,321.9 288.1,322.4 289.6,321.4 291.0,322.8 292.4,321.8 293.8,323.2 295.2,322.0 296.7,323.3 298.1,322.3 299.5,323.8 300.9,322.8 302.3,324.1 303.8,323.2 305.2,324.3 306.6,323.0 308.0,324.6 309.4,323.7 310.9,325.2 312.3,324.1 313.7,325.5 315.1,324.5 316.5,325.6 318.0,324.7 319.4,326.1 320.8,324.9 322.2,326.6 323.6,325.3 325.1,326.4 326.5,325.8 327.9,327.2 329.3,325.7 330.7,326.9 332.2,325.7 333.6,327.2 335.0,326.0 336.4,328.0 337.8,326.0 339.3,327.8 340.7,326.9 342.1,328.3 343.5,326.3 344.9,328.4 346.4,327.0 347.8,328.7 349.2,327.0 350.6,328.9 352.0,327.4 353.5,329.7 354.9,327.6 356.3,329.6 357.7,328.0 359.1,330.3 360.6,328.4 362.0,330.4 363.4,328.8 364.8,330.5 366.2,329.1 367.7,331.4 369.1,329.1 370.5,331.5 371.9,330.3 373.3,332.1 374.8,330.6 376.2,333.5 377.6,331.7 379.0,333.4 380.4,332.5 381.9,335.0 383.3,333.6 384.7,335.9 386.1,335.2 387.5,337.3 389.0,335.5 390.4,338.2 391.8,336.3 393.2,338.8 394.6,336.9 396.1,339.4 397.5,337.2 398.9,340.6 400.3,337.6 401.7,338.7 403.2,335.9 404.6,337.3 406.0,333.8 407.4,334.2 408.8,331.6 409.0,333.8"/>
<polyline stroke="#ff0" points="377.0,314.0 378.4,312.8 379.8,315.3 381.3,314.5 382.7,316.6 384.1,314.7 385.5,317.5 386.9,315.5 388.4,318.2 389.8,316.4 391.2,318.7 392.6,317.1 394.0,319.3 395.5,317.5 396.9,319.7 398.3,318.4 399.7,320.6 401.1,318.4 402.6,320.6 404.0,319.1 405.4,321.0 406.8,319.4 408.2,321.6 409.7,319.6 411.1,322.9 412.5,320.2 413.9,323.0 415.3,321.3 416.8,323.4 418.2,321.3 419.6,323.9 421.0,322.1 422.4,324.8 423.9,322.1 425.3,323.8 426.7,322.7 428.1,324.7 429.5,323.0 431.0,325.0 432.4,323.3 433.8,325.8 435.2,323.3 436.6,326.0 438.1,324.4 439.5,326.0 440.9,324.9 442.3,326.3 443.7,324.8 445.2,327.2 446.6,325.2 448.0,327.7 449.4,325.7 450.8,328.3 452.3,325.6 453.7,328.8 455.1,327.0 456.5,328.8 457.9,326.7 459.4,329.5 460.8,327.3 462.2,330.1 463.6,328.3 465.0,330.3 466.5,327.8 467.9,330.5 469.3,328.0 470.7,330.4 472.1,328.8 473.6,331.2 475.0,330.0 476.4,331.1 477.8,329.9 479.2,331.5 480.7,330.2 482.1,332.3 483.5,330.2 484.9,332.3 486.3,329.7 487.8,332.7 489.2,331.0 490.6,333.4 492.0,331.2 493.4,333.1 494.9,331.2 496.3,333.3 497.7,331.2 499.1,333.9 500.5,332.0 502.0,334.4 503.4,332.5 504.8,334.7 506.2,333.4 507.6,335.2 509.1,332.9 510.5,335.8 511.9,332.7 513.3,336.2 514.7,334.4 516.2,335.7 517.6,334.3 519.0,336.5 520.4,334.8 521.8,337.3 523.3,335.6 524.7,337.3 526.1,335.5 527.5,337.3 528.9,336.2 530.4,337.9 531.8,336.1 533.2,339.1 534.6,337.8 536.0,339.1 537.5,338.1 538.9,340.2 540.3,338.8 541.7,341.2 543.1,339.3 544.6,342.5 546.0,340.3 547.4,342.8 548.8,341.4 550.2,344.4 551.7,343.1 553.1,345.9 554.5,344.6 555.9,346.7 557.3,345.3 558.8,348.4 560.2,347.0 561.6,350.2 563.0,349.1 564.4,352.0 565.9,350.6 567.3,353.5 568.7,351.9 570.1,355.8 571.5,354.1 573.0,357.2 574.4,356.8 575.8,359.0 577.2,358.0 578.6,361.0 580.1,359.6 581.5,363.1 582.9,362.3 584.3,364.9 585.7,364.5 587.2,367.3 588.6,365.8 590.0,368.5 591.4,368.6 592.8,372.0 594.3,369.7 595.7,373.9 597.1,372.4 598.5,376.2 599.9,374.5 601.4,379.1 602.8,377.9 604.2,381.8 604.5,379.9 604.5,371.3 603.1,366.2 601.7,363.2 600.2,358.8 598.8,356.3 597.4,352.5 596.0,350.2 594.6,346.6 593.1,344.9 591.7,341.4 590.3,339.9 588.9,337.2 587.5,336.3 586.0,333.9 584.6,332.8 583.2,330.7 581.8,330.1 580.4,328.0 578.9,327.3 577.5,325.3 576.1,324.6 574.7,322.6 573.3,322.1 571.8,320.3 570.4,320.1 569.0,318.5 567.6,318.6 566.2,316.8 564.7,316.9 563.3,315.9 561.9,316.0 560.5,314.2 559.1,315.0 557.6,312.4 556.2,313.5 554.8,311.3 553.4,311.9 552.0,309.9 550.5,311.4 549.1,308.9 547.7,309.8 546.3,308.2 544.9,308.7 543.4,306.4 542.0,307.4 540.6,305.1 539.2,306.3 537.8,303.3 536.3,305.0 534.9,302.4 533.5,303.9 532.1,301.7 530.7,303.3 529.2,301.2 527.8,303.2 526.4,300.6 525.0,302.0 523.6,300.3 522.1,301.4 520.7,299.7 519.3,301.3 517.9,299.1 516.5,300.1 515.0,298.4 513.6,300.3 512.2,298.5 510.8,299.4 509.4,298.1 507.9,299.1 506.5,297.5 505.1,298.7 503.7,296.9 502.3,298.6 500.8,296.8 499.4,298.8 498.0,296.4 496.6,298.7 495.2,296.1 493.7,297.8 492.3,296.2 490.9,298.2 489.5,295.8 488.1,297.8 486.6,295.8 485.2,297.7 483.8,295.5 482.4,297.3 481.0,295.5 479.5,297.0 478.1,295.0 476.7,296.8 475.3,295.1 473.9,295.9 472.4,294.7 471.0,296.2 469.6,294.2 468.2,296.0 466.8,294.5 465.3,296.4 463.9,294.6 462.5,296.5 461.1,294.1 459.7,295.5 458.2,293.8 456.8,296.1 455.4,294.2 454.0,295.8 452.6,294.2 451.1,295.2 449.7,293.5 448.3,295.2 446.9,293.1 445.5,295.2 444.0,293.4 442.6,295.6 441.2,293.8 439.8,295.2 438.4,293.2 436.9,294.8 435.5,293.6 434.1,294.7 432.7,292.7 431.3,294.1 429.8,292.8 428.4,294.6 427.0,293.0 425.6,294.7 424.2,292.3 422.7,294.8 421.3,292.5 419.9,294.4 418.5,291.9 417.1,294.0 415.6,292.4 414.2,294.8 412.8,292.3 411.4,294.3 410.0,292.0 408.5,294.0 407.1,292.3 405.7,293.6 404.3,292.2 402.9,293.8 401.4,291.6 400.0,293.3 398.6,291.5 397.2,293.3 395.8,291.9 394.3,293.5 392.9,291.3 391.5,292.8 390.1,291.7 388.7,292.9 387.2,291.2 385.8,292.5 384.4,291.0 383.0,292.8 381.6,291.3 380.1,292.4 378.7,290.9 377.3,293.0 375.9,290.8 374.5,292.6 373.0,291.2 371.6,292.4 370.2,290.8 368.8,292.6 367.4,290.3 365.9,292.1 364.5,290.5 363.1,292.2 361.7,290.4 360.3,292.0 358.8,290.5 357.4,291.8 356.0,290.3 354.6,292.1 353.2,290.4 351.7,291.4 350.3,289.8 348.9,291.2 347.5,290.0 346.1,290.9 344.6,289.6 343.2,291.2 341.8,289.5 340.4,291.0 339.0,289.6 337.5,290.9 336.1,289.4 334.7,290.5 333.3,289.5 331.9,290.7 330.4,289.1 329.0,290.3 327.6,289.2 326.2,290.4 324.8,288.9 323.3,290.1 321.9,289.0 320.5,290.2 319.1,289.1 317.7,289.9 316.2,288.9 314.8,289.5 313.4,288.5 312.0,289.7 310.6,288.4 309.1,289.3 307.7,288.2 306.3,289.0 304.9,287.9 303.5,289.0 302.0,288.0 300.6,288.5 299.2,287.7 297.8,288.5 296.4,287.8 294.9,287.9 293.5,287.2 292.1,287.6 290.7,286.8 289.3,287.3 287.8,286.5 286.4,286.7 285.0,285.7 283.6,286.4 282.2,285.6 280.7,286.0 279.3,284.9 277.9,285.5 276.5,284.6 275.1,285.1 273.6,284.3 272.2,284.7 270.8,283.8 269.4,284.1 268.0,283.3 266.5,283.8 265.1,282.9 265.0,283.6 263.6,283.4 262.2,281.1 260.7,282.7 259.3,280.5 257.9,280.6 256.5,278.6 255.1,279.2 253.6,277.4 252.2,278.6 250.8,275.6 249.4,276.4 248.0,275.5 246.5,275.7 245.1,273.0 243.7,273.8 242.3,272.3 240.9,271.4 239.4,270.5 238.0,271.4 236.6,268.4 235.2,269.1 233.8,268.0 232.3,268.4 230.9,265.3 229.5,266.0 228.1,264.7 226.7,264.6 225.2,262.3 223.8,262.8 222.4,261.2 221.0,260.5 219.6,259.4 218.1,259.6 216.7,258.0 215.3,258.0 213.9,256.5 212.5,257.7 211.0,254.7 209.6,255.7 208.2,252.7 207.5,254.0 207.5,254.0 208.0,256.5 208.5,259.3 209.0,261.3 209.7,263.4 210.5,265.7 211.5,268.2 212.9,270.7 214.3,272.9 215.8,274.6 217.2,276.9 218.6,278.3 220.0,280.0 221.4,281.9 222.9,283.2 224.3,284.2 225.7,285.9 227.1,286.9 228.5,288.4 230.0,289.6 231.4,291.7 232.8,291.1 234.2,293.7 235.6,292.3 237.1,295.0 238.5,294.9 239.9,296.6 241.3,297.1 242.7,299.2 244.2,299.0 245.6,300.6 247.0,300.1 248.4,302.1 249.8,302.2 251.3,304.2 252.7,303.8 254.1,306.4 255.5,306.6 256.9,307.8 258.4,308.6 259.8,310.2 261.2,310.7 262.6,311.4 264.0,311.8 265.5,312.8 266.9,313.1 268.3,315.0 269.7,314.7 271.1,317.0 272.6,315.6 274.0,317.8 275.4,316.8 276.8,318.2 278.2,317.9 279.7,319.4 281.1,317.7 282.5,319.4 283.9,318.2 285.3,319.6 286.7,318.7 288.1,319.5 289.6,318.5 291.0,319.8 292.4,318.5 293.8,320.5 295.2,319.1 296.7,319.9 298.1,319.4 299.5,320.4 300.9,319.3 302.3,320.7 303.8,319.3 305.2,320.9 306.6,319.6 308.0,321.1 309.4,320.1 310.9,321.2 312.3,320.5 313.7,321.4 315.1,320.8 316.5,322.1 318.0,320.4 319.4,322.0 320.8,320.8 322.2,322.1 323.6,321.1 325.1,323.2 326.5,321.3 327.9,323.1 329.3,321.6 330.7,323.4 332.2,322.0 333.6,323.5 335.0,322.0 336.4,323.8 337.8,321.9 339.3,323.6 340.7,322.3 342.1,324.3 343.5,322.5 344.9,324.4 346.4,322.6 347.8,324.3 349.2,323.0 350.6,324.8 352.0,323.2 353.5,325.8 354.9,323.7 356.3,325.5 357.7,324.3 359.1,325.7 360.6,324.5 362.0,326.4 363.4,325.0 364.8,326.6 366.2,325.4 367.7,327.2 369.1,325.4 370.5,327.7 371.9,325.9 373.3,327.3 374.8,326.2 376.2,328.2 377.0,326.4"/>
<polyline stroke="#808000" points="377.0,313.0 378.4,312.3 379.8,314.8 381.3,313.3 382.7,316.1 384.1,314.5 385.5,316.8 386.9,314.9 388.4,317.7 389.8,315.1 391.2,318.4 392.6,316.2 394.0,318.9 395.5,317.1 396.9,319.3 398.3,317.7 399.7,320.1 401.1,318.5 402.6,320.3 404.0,318.5 405.4,320.7 406.8,319.6 408.2,322.2 409.7,319.7 411.1,322.0 412.5,320.4 413.9,322.4 415.3,320.7 416.8,323.4 418.2,321.2 419.6,322.9 421.0,321.3 422.4,323.9 423.9,322.0 425.3,324.5 426.7,322.0 428.1,324.8 429.5,322.4 431.0,325.0 432.4,322.4 433.8,325.4 435.2,323.4 436.6,326.1 438.1,323.7 439.5,325.6 440.9,324.0 442.3,326.4 443.7,323.7 445.2,327.2 446.6,325.3 448.0,327.1 449.4,325.2 450.8,327.6 452.3,325.3 453.7,327.8 455.1,326.5 456.5,328.5 457.9,326.3 459.4,328.8 460.8,326.5 462.2,329.1 463.6,326.9 465.0,329.6 466.5,327.6 467.9,330.1 469.3,328.0 470.7,330.3 472.1,328.1 473.6,330.4 475.0,328.0 476.4,330.3 477.8,328.5 479.2,330.7 480.7,329.2 482.1,331.1 483.5,329.9 484.9,331.8 486.3,329.1 487.8,331.6 489.2,329.9 490.6,332.4 492.0,330.5 493.4,332.3 494.9,330.2 496.3,333.3 497.7,330.0 499.1,332.8 500.5,331.3 502.0,333.5 503.4,331.1 504.8,332.8 506.2,331.4 507.6,333.5 509.1,331.6 510.5,334.1 511.9,331.9 513.3,334.5 514.7,333.0 516.2,334.4 517.6,333.2 519.0,335.1 520.4,332.6 521.8,335.6 523.3,333.6 524.7,335.5 526.1,333.9 527.5,336.5 528.9,334.1 530.4,336.2 531.8,334.7 533.2,337.6 534.6,335.8 536.0,338.2 537.5,336.0 538.9,339.0 540.3,336.9 541.7,340.0 543.1,338.2 544.6,340.3 546.0,338.8 547.4,341.4 548.8,340.1 550.2,342.5 551.7,341.2 553.1,344.0 554.5,343.1 555.9,344.8 557.3,343.7 558.8,347.4 560.2,345.6 561.6,348.4 563.0,347.3 564.4,349.9 565.9,348.9 567.3,351.7 568.7,350.4 570.1,353.7 571.5,352.8 573.0,355.2 574.4,353.9 575.8,357.4 577.2,356.5 578.6,359.2 580.1,358.5 581.5,360.8 582.9,360.4 584.3,363.1 585.7,361.6 587.2,365.0 588.6,363.9 590.0,367.3 591.4,366.0 592.8,369.0 594.3,368.6 595.7,371.5 597.1,371.0 598.5,374.0 599.9,374.1 601.4,377.0 602.8,376.6 604.2,379.9 604.5,378.3 604.5,368.3 603.1,363.1 601.7,359.9 600.2,355.6 598.8,353.1 597.4,349.2 596.0,347.0 594.6,343.6 593.1,341.6 591.7,338.4 590.3,336.8 588.9,334.3 587.5,333.3 586.0,331.1 584.6,329.8 583.2,327.9 581.8,327.6 580.4,325.6 578.9,324.8 577.5,323.2 576.1,322.8 574.7,320.7 573.3,320.3 571.8,319.0 570.4,318.9 569.0,317.5 567.6,317.5 566.2,316.1 564.7,316.2 563.3,314.8 561.9,314.9 560.5,313.3 559.1,314.2 557.6,311.9 556.2,313.4 554.8,310.7 553.4,312.2 552.0,309.8 550.5,310.3 549.1,308.1 547.7,309.9 546.3,307.1 544.9,308.2 543.4,305.5 542.0,307.1 540.6,304.4 539.2,306.0 537.8,303.0 536.3,304.4 534.9,302.6 533.5,303.2 532.1,301.1 530.7,302.4 529.2,300.6 527.8,301.9 526.4,299.7 525.0,301.5 523.6,299.3 522.1,301.2 520.7,299.3 519.3,300.2 517.9,298.9 516.5,300.1 515.0,297.5 513.6,300.0 512.2,297.6 510.8,299.5 509.4,297.3 507.9,299.0 506.5,296.4 505.1,298.7 503.7,296.7 502.3,297.8 500.8,296.3 499.4,298.0 498.0,296.3 496.6,297.2 495.2,296.3 493.7,297.3 492.3,295.3 490.9,297.1 489.5,295.4 488.1,296.4 486.6,294.9 485.2,296.4 483.8,295.0 482.4,296.2 481.0,294.0 479.5,295.5 478.1,294.6 476.7,296.0 475.3,293.7 473.9,295.9 472.4,293.2 471.0,295.3 469.6,294.2 468.2,295.4 466.8,293.6 465.3,294.9 463.9,293.3 462.5,294.9 461.1,293.2 459.7,295.2 458.2,292.9 456.8,294.5 455.4,293.0 454.0,294.4 452.6,292.7 451.1,294.0 449.7,292.0 448.3,294.1 446.9,292.1 445.5,294.1 444.0,291.8 442.6,293.9 441.2,291.6 439.8,293.7 438.4,291.3 436.9,293.5 435.5,291.9 434.1,293.6 432.7,291.5 431.3,293.3 429.8,291.4 428.4,293.0 427.0,291.2 425.6,293.0 424.2,291.2 422.7,292.8 421.3,290.4 419.9,292.4 418.5,290.6 417.1,292.8 415.6,290.7 414.2,292.6 412.8,291.1 411.4,292.6 410.0,290.9 408.5,292.7 407.1,290.6 405.7,292.1 404.3,290.4 402.9,292.0 401.4,290.4 400.0,292.3 398.6,290.0 397.2,291.8 395.8,289.5 394.3,291.7 392.9,289.7 391.5,291.4 390.1,289.5 388.7,291.1 387.2,289.8 385.8,290.9 384.4,289.8 383.0,291.4 381.6,289.6 380.1,291.1 378.7,289.0 377.3,291.0 375.9,289.2 374.5,291.0 373.0,288.8 371.6,290.4 370.2,288.8 368.8,290.4 367.4,288.7 365.9,290.9 364.5,289.3 363.1,290.0 361.7,288.8 360.3,290.1 358.8,289.1 357.4,290.1 356.0,288.2 354.6,290.0 353.2,288.1 351.7,290.1 350.3,288.7 348.9,290.0 347.5,288.5 346.1,289.6 344.6,288.2 343.2,289.4 341.8,288.0 340.4,289.2 339.0,287.7 337.5,289.3 336.1,287.8 334.7,289.2 333.3,287.6 331.9,288.7 330.4,287.8 329.0,288.6 327.6,287.3 326.2,288.6 324.8,287.1 323.3,288.5 321.9,287.1 320.5,288.2 319.1,287.3 317.7,287.7 316.2,286.8 314.8,287.9 313.4,286.8 312.0,287.7 310.6,286.6 309.1,287.8 307.7,286.7 306.3,287.6 304.9,286.4 303.5,287.3 302.0,286.0 300.6,286.9 299.2,285.9 297.8,286.8 296.4,285.7 294.9,286.4 293.5,285.5 292.1,286.0 290.7,285.1 289.3,285.5 287.8,284.8 286.4,285.4 285.0,284.3 283.6,285.0 282.2,284.0 280.7,284.4 279.3,283.6 277.9,284.5 276.5,283.4 275.1,284.0 273.6,282.9 272.2,283.7 270.8,282.6 269.4,283.4 268.0,282.5 266.5,283.1 265.1,282.3 265.0,282.9 263.6,282.7 262.2,280.8 260.7,281.9 259.3,280.2 257.9,280.7 256.5,278.8 255.1,279.4 253.6,277.6 252.2,278.4 250.8,276.6 249.4,278.0 248.0,275.0 246.5,276.3 245.1,273.9 243.7,274.7 242.3,271.4 240.9,273.6 239.4,272.1 238.0,272.4 236.6,269.4 235.2,270.9 233.8,268.7 232.3,269.3 230.9,267.4 229.5,266.8 228.1,265.6 226.7,266.8 225.2,265.0 223.8,265.3 222.4,263.4 221.0,263.7 219.6,262.2 218.1,262.0 216.7,260.3 215.3,260.8 213.9,258.9 212.5,260.0 211.0,258.2 209.6,258.2 208.2,257.3 207.5,257.0 207.5,257.0 208.0,258.9 208.5,261.5 209.0,263.3 209.7,265.3 210.5,267.6 211.5,269.9 212.9,272.4 214.3,274.7 215.8,276.5 217.2,278.4 218.6,279.5 220.0,280.6 221.4,283.1 222.9,284.2 224.3,284.5 225.7,286.7 227.1,288.0 228.5,288.8 230.0,290.1 231.4,291.7 232.8,292.7 234.2,293.4 235.6,293.9 237.1,296.0 238.5,295.7 239.9,296.8 241.3,297.1 242.7,299.2 244.2,297.7 245.6,301.2 247.0,300.7 248.4,302.5 249.8,302.2 251.3,304.7 252.7,304.8 254.1,306.6 255.5,306.4 256.9,308.5 258.4,308.4 259.8,310.4 261.2,309.6 262.6,311.1 264.0,312.0 265.5,314.2 266.9,313.3 268.3,315.6 269.7,314.9 271.1,316.2 272.6,316.1 274.0,317.6 275.4,316.9 276.8,318.1 278.2,317.1 279.7,318.7 281.1,318.7 282.5,319.5 283.9,319.0 285.3,319.5 286.7,318.6 288.1,319.7 289.6,319.0 291.0,319.8 292.4,318.9 293.8,320.1 295.2,318.9 296.7,320.1 298.1,318.9 299.5,320.6 300.9,319.4 302.3,320.7 303.8,319.6 305.2,320.9 306.6,320.2 308.0,321.1 309.4,320.1 310.9,321.5 312.3,320.3 313.7,321.9 315.1,320.7 316.5,321.9 318.0,320.6 319.4,322.3 320.8,321.2 322.2,322.7 323.6,321.3 325.1,323.0 326.5,321.2 327.9,322.9 329.3,321.7 330.7,323.2 332.2,321.6 333.6,323.4 335.0,322.0 336.4,324.1 337.8,322.1 339.3,323.4 340.7,322.0 342.1,324.0 343.5,322.4 344.9,324.3 346.4,322.5 347.8,324.9 349.2,322.8 350.6,325.0 352.0,323.0 353.5,325.0 354.9,323.4 356.3,325.3 357.7,323.2 359.1,326.1 360.6,323.9 362.0,326.1 363.4,323.8 364.8,326.3 366.2,324.1 367.7,326.4 369.1,324.9 370.5,326.5 371.9,324.1 373.3,326.6 374.8,324.6 376.2,326.5 377.6,324.9 379.0,326.5 380.4,325.3 381.9,327.5 383.3,325.7 384.7,327.8 386.1,325.8 387.5,327.9 389.0,325.3 390.4,327.4 391.8,325.4 393.2,327.8 394.6,325.5 396.1,327.5 397.5,325.8 398.9,327.8 400.3,325.7 401.7,328.1 403.2,326.5 404.6,328.2 406.0,326.0 407.4,328.2 408.8,326.1 410.3,328.4 411.7,326.6 413.1,328.3 414.5,326.5 415.9,328.5 417.4,326.5 418.8,328.3 420.2,326.8 421.6,328.4 423.0,326.2 424.5,328.9 425.9,326.5 427.3,328.7 428.7,327.1 430.1,328.8 431.6,327.0 433.0,329.7 434.4,326.6 435.8,328.8 437.2,327.3 438.7,329.7 440.1,327.3 441.5,330.6 442.9,327.6 444.3,330.4 445.8,328.0 447.2,330.5 448.6,327.8 450.0,330.1 451.4,327.7 452.9,330.0 454.3,328.9 455.7,330.9 457.1,328.5 458.5,331.1 460.0,329.1 461.4,331.5 462.8,329.6 464.2,331.7 465.6,329.2 467.1,331.6 468.5,329.6 469.9,331.9 471.3,329.7 472.7,332.4 474.2,330.0 475.6,332.5 477.0,330.5 478.4,332.8 479.8,330.2 481.3,332.7 482.7,331.1 484.1,333.3 485.5,331.1 486.9,333.4 488.4,331.5 489.8,333.5 491.2,331.6 492.6,333.5 494.0,331.5 495.5,334.4 496.9,332.1 498.3,334.4 499.7,332.5 501.1,334.9 502.6,333.1 504.0,335.0 505.4,333.4 506.8,334.9 508.2,333.0 509.7,335.7 511.1,333.1 512.5,336.0 513.9,333.8 515.3,336.0 516.8,333.7 518.2,336.5 519.6,334.0 521.0,337.1 522.4,334.8 523.9,337.0 525.3,334.9 526.7,337.2 528.1,335.7 529.5,337.9 531.0,336.8 532.4,337.8 533.8,336.7 535.2,339.1 536.6,337.6 538.1,339.6 539.5,337.7 540.9,340.6 542.3,338.7 543.7,341.7 545.2,340.4 546.6,342.6 548.0,341.2 549.4,343.4 550.8,342.4 552.3,345.0 553.7,344.2 555.1,346.1 556.5,344.8 557.9,347.6 559.4,345.2 560.8,348.3 562.2,347.5 563.6,349.9 565.0,349.9 566.5,352.0 567.9,351.2 569.3,353.5 570.7,353.3 572.1,355.1 573.6,355.3 575.0,357.2 576.4,357.3 577.8,359.5 579.2,359.2 580.7,361.4 582.1,361.1 583.5,363.2 584.9,363.2 586.3,365.1 587.8,365.0 589.2,367.1 590.6,367.1 592.0,369.3 593.4,369.4 594.9,371.3 596.3,371.3 597.7,373.8 599.1,373.6 600.5,375.5 602.0,375.7 603.4,377.8 604.5,377.8 604.5,369.5 603.1,364.0 601.7,360.6 600.2,356.3 598.8,353.6 597.4,349.5 596.0,347.5 594.6,344.0 593.1,341.8 591.7,338.8 590.3,337.2 588.9,334.5 587.5,333.5 586.0,331.1 584.6,330.2 583.2,328.2 581.8,327.6 580.4,325.4 578.9,325.1 577.5,323.0 576.1,322.6 574.7,321.0 573.3,320.6 571.8,319.2 570.4,319.0 569.0,317.6 567.6,317.7 566.2,316.3 564.7,316.6 563.3,314.9 561.9,315.1 560.5,313.7 559.1,314.4 557.6,311.7 556.2,313.1 554.8,310.9 553.4,312.1 552.0,309.7 550.5,311.0 549.1,308.4 547.7,309.9 546.3,307.2 544.9,308.2 543.4,306.1 542.0,306.7 540.6,304.7 539.2,305.8 537.8,303.5 536.3,304.5 534.9,302.3 533.5,303.6 532.1,300.8 530.7,302.5 529.2,300.8 527.8,301.5 526.4,299.7 525.0,301.1 523.6,299.7 522.1,300.8 520.7,298.6 519.3,300.1 517.9,298.1 516.5,299.5 515.0,297.5 513.6,299.4 512.2,296.9 510.8,299.1 509.4,297.7 507.9,298.5 506.5,296.9 505.1,297.5 503.7,296.4 502.3,298.0 500.8,296.2 499.4,298.3 498.0,295.8 496.6,297.7 495.2,295.0 493.7,296.7 492.3,294.7 490.9,296.9 489.5,294.8 488.1,296.2 486.6,294.8 485.2,296.3 483.8,294.8 482.4,296.0 481.0,293.9 479.5,295.9 478.1,294.2 476.7,295.5 475.3,293.9 473.9,295.2 472.4,293.8 471.0,295.3 469.6,293.4 468.2,294.9 466.8,293.2 465.3,295.1 463.9,292.9 462.5,294.6 461.1,293.2 459.7,294.2 458.2,292.6 456.8,294.1 455.4,292.8 454.0,294.6 452.6,292.5 451.1,294.4 449.7,291.7 448.3,293.6 446.9,292.5 445.5,294.1 444.0,291.7 442.6,293.4 441.2,291.6 439.8,293.1 438.4,291.4 436.9,293.3 435.5,291.8 434.1,293.3 432.7,291.1 431.3,293.0 429.8,290.7 428.4,293.2 427.0,291.2 425.6,293.1 424.2,291.0 422.7,292.8 421.3,290.9 419.9,292.6 418.5,290.4 417.1,292.1 415.6,290.3 414.2,292.6 412.8,290.6 411.4,292.7 410.0,290.0 408.5,291.5 407.1,290.1 405.7,291.8 404.3,290.0 402.9,291.6 401.4,290.1 400.0,291.2 398.6,289.7 397.2,291.4 395.8,289.6 394.3,291.2 392.9,289.3 391.5,291.4 390.1,289.3 388.7,290.7 387.2,289.4 385.8,290.9 384.4,289.2 383.0,290.6 381.6,289.1 380.1,290.7 378.7,288.6 377.3,290.5 375.9,288.7 374.5,290.8 373.0,288.8 371.6,290.5 370.2,288.7 368.8,290.3 367.4,288.4 365.9,290.2 364.5,288.2 363.1,290.1 361.7,289.0 360.3,289.9 358.8,288.4 357.4,289.3 356.0,288.1 354.6,289.6 353.2,287.9 351.7,289.4 350.3,288.0 348.9,289.5 347.5,288.4 346.1,289.3 344.6,287.7 343.2,289.4 341.8,287.5 340.4,288.9 339.0,288.0 337.5,288.8 336.1,287.1 334.7,288.4 333.3,287.5 331.9,288.5 330.4,287.2 329.0,288.4 327.6,286.7 326.2,288.0 324.8,287.1 323.3,287.8 321.9,286.8 320.5,288.1 319.1,286.8 317.7,287.8 316.2,286.9 314.8,287.5 313.4,286.6 312.0,287.7 310.6,286.2 309.1,287.3 307.7,286.1 306.3,287.1 304.9,285.7 303.5,286.8 302.0,285.8 300.6,286.7 299.2,285.6 297.8,286.3 296.4,285.4 294.9,286.0 293.5,285.0 292.1,286.0 290.7,284.8 289.3,285.4 287.8,284.5 286.4,285.2 285.0,284.0 283.6,284.5 282.2,283.8 280.7,284.6 279.3,283.2 277.9,284.1 276.5,283.2 275.1,283.6 273.6,283.0 272.2,283.3 270.8,282.8 269.4,283.1 268.0,282.4 266.5,282.9 265.1,281.9 265.0,282.7 263.6,283.1 262.2,280.7 260.7,282.1 259.3,280.0 257.9,280.4 256.5,279.9 255.1,280.2 253.6,278.5 252.2,280.4 250.8,278.0 249.4,279.0 248.0,276.4 246.5,277.5 245.1,276.3 243.7,276.2 242.3,274.9 240.9,275.2 239.4,273.8 238.0,273.9 236.6,273.5 235.2,273.4 233.8,271.9 232.3,272.2 230.9,270.2 229.5,271.6 228.1,269.8 226.7,270.0 225.2,269.1 223.8,269.0 222.4,267.6 221.0,268.4 219.6,265.9 218.1,267.1 216.7,264.8 215.3,266.9 213.9,264.5 212.5,265.2 211.0,264.0 209.6,264.8 208.2,262.1 207.5,263.0 207.5,263.0 208.0,263.9 208.5,265.9 209.0,267.4 209.7,269.2 210.5,271.2 211.5,273.3 212.9,275.6 214.3,277.6 215.8,279.1 217.2,280.8 218.6,281.9 220.0,283.6 221.4,284.8 222.9,286.3 224.3,287.1 225.7,288.5 227.1,288.6 228.5,290.3 230.0,291.7 231.4,293.8 232.8,293.5 234.2,294.6 235.6,294.6 237.1,296.1 238.5,296.1 239.9,297.9 241.3,297.5 242.7,299.7 244.2,300.0 245.6,300.5 247.0,300.6 248.4,303.0 249.8,302.2 251.3,304.5 252.7,304.3 254.1,305.8 255.5,307.2 256.9,307.1 258.4,308.3 259.8,309.9 261.2,309.9 262.6,311.5 264.0,311.9 265.5,313.5 266.9,312.8 268.3,314.7 269.7,314.8 271.1,316.7 272.6,315.1 274.0,316.8 275.4,315.4 276.8,317.3 278.2,316.6 279.7,317.5 281.1,317.1 282.5,318.5 283.9,317.4 285.3,318.3 286.7,317.9 288.1,318.6 289.6,317.8 291.0,318.5 292.4,317.9 293.8,319.2 295.2,317.9 296.7,319.2 298.1,317.9 299.5,319.9 300.9,318.3 302.3,319.7 303.8,318.7 305.2,319.5 306.6,318.7 308.0,320.2 309.4,318.8 310.9,320.2 312.3,319.1 313.7,320.9 315.1,319.3 316.5,321.1 318.0,320.2 319.4,321.8 320.8,319.7 322.2,321.7 323.6,320.5 325.1,321.9 326.5,320.3 327.9,321.7 329.3,320.7 330.7,322.1 332.2,320.8 333.6,322.0 335.0,321.2 336.4,322.8 337.8,321.5 339.3,323.0 340.7,320.9 342.1,323.0 343.5,321.4 344.9,323.2 346.4,321.5 347.8,323.7 349.2,322.4 350.6,323.6 352.0,322.2 353.5,323.7 354.9,322.2 356.3,324.3 357.7,323.0 359.1,324.3 360.6,322.6 362.0,324.6 363.4,323.0 364.8,324.4 366.2,323.1 367.7,325.7 369.1,323.2 370.5,325.8 371.9,323.6 373.3,326.1 374.8,323.6 376.2,326.0 377.0,323.6"/>
<polyline stroke="#000080" points="377.0,312.0 378.4,312.0 379.8,314.3 381.3,313.2 382.7,315.4 384.1,314.4 385.5,316.6 386.9,315.7 388.4,317.4 389.8,317.0 391.2,318.9 392.6,317.7 394.0,319.8 395.5,318.9 396.9,321.0 398.3,319.1 399.7,321.6 401.1,320.7 402.6,322.0 404.0,320.6 405.4,322.8 406.8,322.0 408.2,323.8 409.7,322.3 411.1,324.2 412.5,322.3 413.9,324.8 415.3,322.8 416.8,325.3 418.2,323.6 419.6,325.7 421.0,324.6 422.4,326.3 423.9,325.2 425.3,327.0 426.7,325.5 428.1,327.1 429.5,325.7 431.0,327.6 432.4,326.5 433.8,328.8 435.2,326.6 436.6,328.8 438.1,327.5 439.5,329.6 440.9,327.6 442.3,330.0 443.7,328.7 445.2,330.2 446.6,329.1 448.0,330.7 449.4,329.4 450.8,331.6 452.3,330.1 453.7,331.7 455.1,330.8 456.5,332.4 457.9,331.0 459.4,332.9 460.8,331.6 462.2,333.4 463.6,331.5 465.0,333.7 466.5,332.7 467.9,334.0 469.3,332.3 470.7,333.9 472.1,333.0 473.6,334.6 475.0,332.8 476.4,335.2 477.8,333.6 479.2,335.5 480.7,333.6 482.1,335.1 483.5,333.8 484.9,335.5 486.3,334.0 487.8,335.4 489.2,334.3 490.6,335.9 492.0,334.3 493.4,335.9 494.9,335.0 496.3,336.5 497.7,335.0 499.1,336.6 500.5,335.1 502.0,336.6 503.4,335.2 504.8,337.2 506.2,335.2 507.6,337.2 509.1,335.4 510.5,337.4 511.9,335.4 513.3,337.2 514.7,336.2 516.2,337.7 517.6,335.8 519.0,337.5 520.4,336.1 521.8,337.8 523.3,336.5 524.7,338.1 526.1,336.5 527.5,338.6 528.9,337.4 530.4,339.2 531.8,337.4 533.2,339.1 534.6,337.4 536.0,339.4 537.5,337.6 538.9,339.5 540.3,337.9 541.7,340.1 543.1,338.2 544.6,340.5 546.0,339.0 547.4,340.9 548.8,339.1 550.2,340.9 551.7,339.7 553.1,341.8 554.5,340.5 555.9,342.5 557.3,340.9 558.8,343.0 560.2,341.8 561.6,343.2 563.0,342.7 564.4,344.5 565.9,344.1 567.3,346.1 568.7,345.2 570.1,347.4 571.5,347.9 573.0,350.0 574.4,348.6 575.8,351.0 577.2,349.7 578.6,352.7 580.1,351.6 581.5,353.5 582.9,352.4 584.3,354.6 585.7,353.8 587.2,356.0 588.6,355.6 590.0,358.1 591.4,358.2 592.8,361.8 594.3,361.7 595.7,364.5 597.1,364.1 598.5,366.9 599.9,366.9 601.4,370.5 602.8,369.6 604.2,372.8 604.5,371.1 604.5,366.6 603.1,361.0 601.7,357.5 600.2,353.3 598.8,350.2 597.4,346.5 596.0,344.1 594.6,340.7 593.1,338.9 591.7,335.7 590.3,334.1 588.9,331.7 587.5,330.8 586.0,328.5 584.6,327.6 583.2,325.7 581.8,325.1 580.4,323.1 578.9,322.7 577.5,321.1 576.1,320.7 574.7,319.2 573.3,318.9 571.8,317.7 570.4,317.5 569.0,316.5 567.6,316.6 566.2,315.5 564.7,315.5 563.3,314.4 561.9,314.4 560.5,313.4 559.1,313.7 557.6,311.8 556.2,312.4 554.8,310.3 553.4,311.5 552.0,309.0 550.5,310.5 549.1,308.5 547.7,308.8 546.3,307.3 544.9,308.3 543.4,305.8 542.0,306.4 540.6,304.8 539.2,304.8 537.8,303.2 536.3,303.4 534.9,301.7 533.5,302.4 532.1,300.9 530.7,302.0 529.2,300.3 527.8,301.0 526.4,299.5 525.0,300.5 523.6,298.6 522.1,299.7 520.7,298.4 519.3,299.6 517.9,297.8 516.5,299.1 515.0,297.3 513.6,298.8 512.2,296.9 510.8,298.4 509.4,296.6 507.9,297.9 506.5,296.1 505.1,297.4 503.7,295.9 502.3,297.6 500.8,295.3 499.4,296.8 498.0,295.3 496.6,296.5 495.2,294.7 493.7,296.2 492.3,294.6 490.9,295.9 489.5,294.2 488.1,295.4 486.6,294.3 485.2,295.0 483.8,293.8 482.4,294.8 481.0,293.5 479.5,294.7 478.1,293.3 476.7,294.4 475.3,293.4 473.9,294.1 472.4,292.6 471.0,294.0 469.6,292.5 468.2,293.8 466.8,291.9 465.3,293.4 463.9,292.2 462.5,292.9 461.1,291.9 459.7,293.2 458.2,291.7 456.8,292.7 455.4,291.6 454.0,293.2 452.6,291.8 451.1,292.5 449.7,290.8 448.3,292.5 446.9,290.5 445.5,292.3 444.0,290.9 442.6,291.8 441.2,290.6 439.8,292.2 438.4,290.5 436.9,291.8 435.5,290.4 434.1,291.0 432.7,289.6 431.3,291.3 429.8,289.7 428.4,291.3 427.0,289.4 425.6,290.9 424.2,289.5 422.7,290.8 421.3,289.2 419.9,290.6 418.5,289.3 417.1,290.3 415.6,289.1 414.2,290.4 412.8,289.1 411.4,290.1 410.0,288.6 408.5,290.0 407.1,288.6 405.7,290.1 404.3,288.5 402.9,289.8 401.4,288.2 400.0,289.7 398.6,288.2 397.2,289.6 395.8,288.2 394.3,289.4 392.9,288.2 391.5,289.4 390.1,287.7 388.7,289.0 387.2,287.8 385.8,289.1 384.4,287.3 383.0,288.8 381.6,287.5 380.1,288.7 378.7,287.1 377.3,288.3 375.9,287.0 374.5,288.8 373.0,287.0 371.6,288.4 370.2,287.5 368.8,288.5 367.4,286.7 365.9,288.2 364.5,287.0 363.1,288.2 361.7,286.9 360.3,288.1 358.8,286.4 357.4,287.8 356.0,286.3 354.6,287.8 353.2,286.3 351.7,287.2 350.3,286.6 348.9,287.5 347.5,286.4 346.1,287.1 344.6,286.2 343.2,287.3 341.8,285.9 340.4,287.0 339.0,285.9 337.5,287.1 336.1,286.1 334.7,286.5 333.3,285.7 331.9,286.7 330.4,285.5 329.0,286.5 327.6,285.6 326.2,286.5 324.8,285.6 323.3,286.4 321.9,285.3 320.5,285.9 319.1,285.4 317.7,286.0 316.2,284.8 314.8,285.8 313.4,285.0 312.0,285.6 310.6,284.8 309.1,285.4 307.7,284.7 306.3,285.1 304.9,284.4 303.5,285.1 302.0,284.1 300.6,284.9 299.2,284.1 297.8,284.7 296.4,283.8 294.9,284.4 293.5,283.5 292.1,283.9 290.7,283.3 289.3,283.7 287.8,282.8 286.4,283.2 285.0,282.7 283.6,283.0 282.2,282.5 280.7,282.9 279.3,282.1 277.9,282.8 276.5,282.1 275.1,282.5 273.6,282.0 272.2,282.5 270.8,281.8 269.4,282.2 268.0,281.7 266.5,282.5 265.1,281.8 265.0,282.4 263.6,282.1 262.2,280.8 260.7,281.0 259.3,279.6 257.9,282.2 256.5,279.5 255.1,281.3 253.6,280.3 252.2,280.3 250.8,278.7 249.4,280.4 248.0,277.7 246.5,279.5 245.1,277.5 243.7,279.3 242.3,276.6 240.9,277.8 239.4,276.3 238.0,276.9 236.6,276.3 235.2,276.8 233.8,274.9 232.3,276.2 230.9,274.5 229.5,275.5 228.1,274.3 226.7,275.0 225.2,273.4 223.8,274.3 222.4,273.0 221.0,273.5 219.6,272.2 218.1,272.9 216.7,271.0 215.3,273.1 213.9,270.6 212.5,271.6 211.0,270.6 209.6,271.2 208.2,269.7 207.5,270.0 207.5,270.0 208.0,270.0 208.5,271.3 209.0,272.6 209.7,274.1 210.5,275.9 211.5,277.8 212.9,279.8 214.3,281.7 215.8,283.0 217.2,284.8 218.6,285.4 220.0,287.3 221.4,287.4 222.9,289.5 224.3,289.7 225.7,291.5 227.1,291.4 228.5,293.3 230.0,293.6 231.4,294.7 232.8,295.2 234.2,296.4 235.6,295.8 237.1,298.2 238.5,297.8 239.9,298.4 241.3,299.3 242.7,300.3 244.2,300.7 245.6,301.8 247.0,302.0 248.4,303.2 249.8,303.2 251.3,305.7 252.7,305.2 254.1,306.9 255.5,306.0 256.9,309.0 258.4,308.5 259.8,309.9 261.2,309.8 262.6,311.7 264.0,311.3 265.5,313.9 266.9,313.1 268.3,315.1 269.7,314.3 271.1,315.6 272.6,315.4 274.0,316.0 275.4,315.5 276.8,316.8 278.2,316.0 279.7,317.3 281.1,316.9 282.5,318.2 283.9,316.6 285.3,317.9 286.7,317.4 288.1,318.1 289.6,317.4 291.0,318.2 292.4,317.1 293.8,318.6 295.2,317.6 296.7,318.6 298.1,318.0 299.5,319.0 300.9,318.1 302.3,319.3 303.8,318.3 305.2,319.6 306.6,318.7 308.0,319.8 309.4,319.0 310.9,320.1 312.3,319.4 313.7,320.3 315.1,319.6 316.5,320.7 318.0,319.8 319.4,320.9 320.8,320.3 322.2,321.2 323.6,320.4 325.1,321.7 326.5,320.6 327.9,321.6 329.3,320.8 330.7,321.9 332.2,320.8 333.6,322.3 335.0,321.1 336.4,322.0 337.8,320.9 339.3,322.7 340.7,321.3 342.1,322.6 343.5,321.5 344.9,323.2 346.4,322.0 347.8,323.5 349.2,322.1 350.6,324.1 352.0,322.6 353.5,323.5 354.9,322.6 356.3,324.6 357.7,323.2 359.1,324.9 360.6,323.5 362.0,325.1 363.4,323.6 364.8,325.3 366.2,324.2 367.7,325.4 369.1,324.1 370.5,325.9 371.9,324.5 373.3,326.5 374.8,324.7 376.2,326.3 377.6,325.2 379.0,327.3 380.4,325.2 381.9,327.3 383.3,325.5 384.7,327.0 386.1,325.7 387.5,327.8 389.0,325.9 390.4,327.7 391.8,326.2 393.2,328.3 394.6,326.2 396.1,328.4 397.5,327.1 398.9,328.8 400.3,326.9 401.7,328.6 403.2,327.7 404.6,328.6 406.0,327.2 407.4,328.9 408.8,327.7 410.3,329.3 411.7,327.8 413.1,330.0 414.5,327.7 415.9,329.8 417.4,328.2 418.8,329.7 420.2,328.5 421.6,330.6 423.0,328.4 424.5,330.5 425.9,328.5 427.3,330.7 428.7,328.8 430.1,331.1 431.6,329.1 433.0,331.3 434.4,329.5 435.8,331.2 437.2,330.0 438.7,331.8 440.1,330.3 441.5,331.9 442.9,330.0 444.3,332.6 445.8,331.1 447.2,332.5 448.6,331.4 450.0,332.5 451.4,331.0 452.9,332.9 454.3,331.9 455.7,333.1 457.1,331.8 458.5,333.4 460.0,332.1 461.4,333.8 462.8,332.7 464.2,334.1 465.6,333.1 467.1,334.3 468.5,333.2 469.9,334.5 471.3,333.7 472.7,334.6 474.2,333.1 475.6,335.4 477.0,333.8 478.4,335.4 479.8,333.8 481.3,335.5 482.7,334.2 484.1,335.9 485.5,335.0 486.9,335.8 488.4,334.6 489.8,336.1 491.2,335.1 492.6,336.1 494.0,334.9 495.5,336.6 496.9,334.8 498.3,336.9 499.7,335.3 501.1,336.9 502.6,335.6 504.0,337.2 505.4,335.3 506.8,337.2 508.2,335.9 509.7,337.8 511.1,335.9 512.5,337.7 513.9,335.8 515.3,338.0 516.8,337.1 518.2,338.6 519.6,337.0 521.0,338.3 522.4,336.9 523.9,338.7 525.3,337.3 526.7,339.6 528.1,337.9 529.5,339.3 531.0,337.7 532.4,339.5 533.8,338.1 535.2,339.6 536.6,338.4 538.1,340.2 539.5,338.7 540.9,340.4 542.3,338.8 543.7,340.7 545.2,339.4 546.6,341.0 548.0,339.7 549.4,341.6 550.8,340.8 552.3,342.3 553.7,340.9 555.1,343.0 556.5,341.7 557.9,343.2 559.4,342.1 560.8,344.3 562.2,342.9 563.6,345.4 565.0,345.0 566.5,346.5 567.9,346.6 569.3,348.1 570.7,348.4 572.1,349.8 573.6,349.8 575.0,351.4 576.4,351.4 577.8,352.6 579.2,352.5 580.7,353.7 582.1,353.6 583.5,354.9 584.9,355.0 586.3,356.3 587.8,356.3 589.2,358.3 590.6,358.8 592.0,361.0 593.4,361.9 594.9,364.3 596.3,364.6 597.7,367.0 599.1,367.5 600.5,369.9 602.0,370.1 603.4,372.4 604.5,372.6 604.5,366.3 603.1,361.1 601.7,357.7 600.2,353.4 598.8,350.4 597.4,346.9 596.0,344.9 594.6,341.3 593.1,339.5 591.7,336.3 590.3,334.9 588.9,332.5 587.5,331.3 586.0,329.2 584.6,328.4 583.2,326.4 581.8,325.6 580.4,323.9 578.9,323.4 577.5,321.8 576.1,321.4 574.7,319.7 573.3,319.5 571.8,318.1 570.4,318.2 569.0,317.2 567.6,317.2 566.2,316.0 564.7,316.0 563.3,314.9 561.9,314.8 560.5,313.6 559.1,314.0 557.6,312.4 556.2,313.0 554.8,311.2 553.4,311.9 552.0,309.6 550.5,310.5 549.1,308.6 547.7,309.7 546.3,307.4 544.9,308.0 543.4,306.2 542.0,306.6 540.6,304.9 539.2,305.4 537.8,303.7 536.3,304.0 534.9,302.2 533.5,303.4 532.1,302.0 530.7,302.6 529.2,300.8 527.8,301.9 526.4,300.3 525.0,301.3 523.6,299.6 522.1,300.4 520.7,299.0 519.3,300.3 517.9,298.6 516.5,299.9 515.0,298.0 513.6,299.4 512.2,297.6 510.8,299.1 509.4,297.2 507.9,298.7 506.5,296.7 505.1,298.0 503.7,296.7 502.3,297.5 500.8,296.1 499.4,297.3 498.0,295.8 496.6,297.6 495.2,296.0 493.7,296.9 492.3,295.3 490.9,296.4 489.5,294.8 488.1,296.1 486.6,294.8 485.2,296.0 483.8,294.7 482.4,295.7 481.0,294.1 479.5,295.8 478.1,294.0 476.7,295.0 475.3,293.7 473.9,295.2 472.4,293.6 471.0,294.7 469.6,293.6 468.2,294.8 466.8,292.7 465.3,294.1 463.9,292.8 462.5,294.2 461.1,292.7 459.7,294.1 458.2,292.6 456.8,293.4 455.4,292.0 454.0,293.7 452.6,292.6 451.1,293.3 449.7,291.9 448.3,293.1 446.9,291.1 445.5,293.4 444.0,291.8 442.6,293.2 441.2,291.6 439.8,292.7 438.4,291.3 436.9,292.5 435.5,290.8 434.1,292.6 432.7,291.0 431.3,292.5 429.8,291.1 428.4,292.2 427.0,290.7 425.6,292.0 424.2,290.1 422.7,291.7 421.3,290.2 419.9,291.7 418.5,290.4 417.1,291.5 415.6,290.0 414.2,291.3 412.8,290.1 411.4,291.3 410.0,289.9 408.5,290.7 407.1,289.8 405.7,290.9 404.3,289.8 402.9,290.7 401.4,289.6 400.0,290.5 398.6,289.3 397.2,290.6 395.8,289.1 394.3,290.2 392.9,289.0 391.5,290.3 390.1,288.8 388.7,289.9 387.2,289.1 385.8,290.2 384.4,289.2 383.0,290.0 381.6,288.5 380.1,289.7 378.7,288.6 377.3,289.8 375.9,288.2 374.5,289.5 373.0,288.6 371.6,289.5 370.2,287.8 368.8,289.4 367.4,288.2 365.9,289.6 364.5,287.7 363.1,289.0 361.7,288.0 360.3,288.9 358.8,287.7 357.4,288.8 356.0,287.7 354.6,288.4 353.2,287.4 351.7,288.4 350.3,287.8 348.9,288.8 347.5,287.3 346.1,288.3 344.6,287.3 343.2,287.9 341.8,287.0 340.4,288.3 339.0,286.8 337.5,287.9 336.1,287.1 334.7,287.8 333.3,286.6 331.9,287.6 330.4,286.8 329.0,287.4 327.6,286.3 326.2,287.2 324.8,286.4 323.3,287.2 321.9,286.5 320.5,286.9 319.1,286.1 317.7,287.0 316.2,286.0 314.8,286.9 313.4,285.7 312.0,286.5 310.6,285.7 309.1,286.5 307.7,285.7 306.3,286.3 304.9,285.4 303.5,285.8 302.0,285.1 300.6,285.9 299.2,285.1 297.8,285.6 296.4,284.7 294.9,285.2 293.5,284.6 292.1,285.0 290.7,284.1 289.3,284.6 287.8,283.8 286.4,284.2 285.0,283.6 283.6,284.0 282.2,283.4 280.7,283.7 279.3,283.0 277.9,283.5 276.5,282.8 275.1,283.5 273.6,282.7 272.2,283.2 270.8,282.7 269.4,283.2 268.0,282.5 266.5,283.1 265.1,282.3 265.0,283.0 263.6,282.6 262.2,281.0 260.7,282.4 259.3,281.3 257.9,281.6 256.5,281.1 255.1,281.6 253.6,280.5 252.2,281.4 250.8,279.4 249.4,280.0 248.0,279.2 246.5,279.9 245.1,278.1 243.7,279.6 242.3,277.9 240.9,278.5 239.4,277.0 238.0,278.2 236.6,276.6 235.2,277.9 233.8,275.8 232.3,277.1 230.9,275.1 229.5,275.9 228.1,274.6 226.7,276.0 225.2,273.3 223.8,275.1 222.4,273.8 221.0,274.5 219.6,272.6 218.1,274.2 216.7,272.1 215.3,272.4 213.9,271.9 212.5,272.5 211.0,271.2 209.6,272.1 208.2,270.0 207.5,271.0 207.5,271.0 208.0,270.9 208.5,272.2 209.0,273.4 209.7,275.0 210.5,276.7 211.5,278.5 212.9,280.5 214.3,282.3 215.8,283.6 217.2,285.2 218.6,285.8 220.0,287.6 221.4,287.9 222.9,289.8 224.3,290.3 225.7,292.2 227.1,291.7 228.5,294.2 230.0,294.1 231.4,295.0 232.8,295.1 234.2,297.3 235.6,296.2 237.1,298.4 238.5,298.4 239.9,299.0 241.3,298.7 242.7,300.2 244.2,300.4 245.6,301.4 247.0,302.8 248.4,303.7 249.8,303.8 251.3,305.2 252.7,305.0 254.1,306.3 255.5,306.7 256.9,308.2 258.4,308.3 259.8,308.8 261.2,309.1 262.6,311.0 264.0,310.8 265.5,312.4 266.9,312.4 268.3,313.2 269.7,313.8 271.1,315.0 272.6,315.0 274.0,315.8 275.4,315.8 276.8,316.4 278.2,315.8 279.7,316.8 281.1,316.0 282.5,316.9 283.9,316.5 285.3,317.1 286.7,316.6 288.1,317.7 289.6,316.8 291.0,317.6 292.4,316.9 293.8,318.0 295.2,317.3 296.7,318.3 298.1,317.3 299.5,318.4 300.9,317.5 302.3,318.7 303.8,317.7 305.2,318.8 306.6,317.9 308.0,319.0 309.4,318.0 310.9,319.1 312.3,318.5 313.7,319.5 315.1,318.4 316.5,319.7 318.0,318.9 319.4,320.3 320.8,319.0 322.2,320.2 323.6,319.8 325.1,320.5 326.5,319.4 327.9,320.9 329.3,319.7 330.7,321.1 332.2,319.8 333.6,321.0 335.0,320.1 336.4,321.3 337.8,320.4 339.3,321.6 340.7,320.3 342.1,321.6 343.5,320.5 344.9,322.1 346.4,320.9 347.8,322.1 349.2,321.4 350.6,323.0 352.0,321.0 353.5,322.8 354.9,321.7 356.3,323.2 357.7,321.6 359.1,323.7 360.6,322.8 362.0,323.9 363.4,322.9 364.8,324.3 366.2,322.8 367.7,324.9 369.1,323.6 370.5,325.4 371.9,323.7 373.3,325.4 374.8,323.9 376.2,325.9 377.0,324.1"/>
<polyline stroke="#f0f" points="377.5,310 377.5,350"/>
<polyline stroke="#ff0" points="414.5,332 414.5,344"/>
<polyline stroke="#000" points="536.5,298 536.5,304"/>
</svg>
</body></html>
